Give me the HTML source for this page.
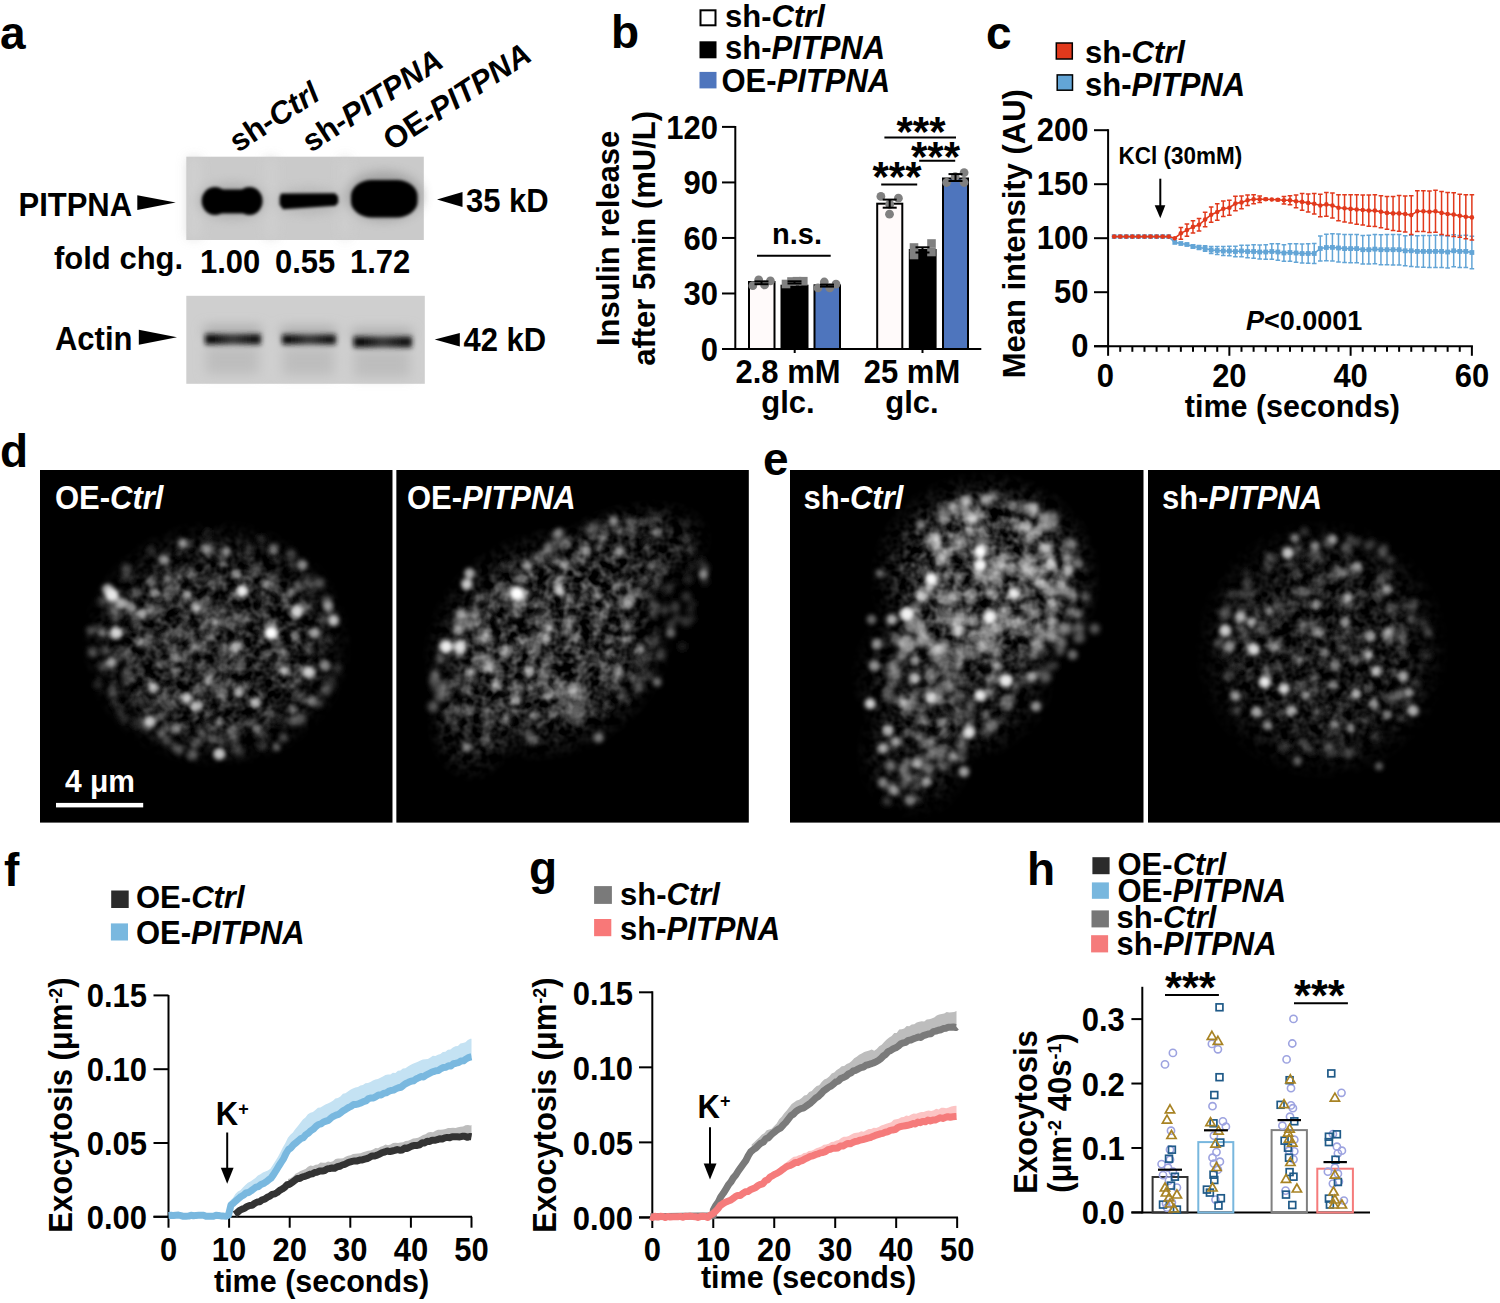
<!DOCTYPE html>
<html><head><meta charset="utf-8"><style>
html,body{margin:0;padding:0;background:#fff;}
body{width:1500px;height:1303px;overflow:hidden;}
svg{display:block;font-family:"Liberation Sans",sans-serif;}
</style></head><body>
<svg width="1500" height="1303" viewBox="0 0 1500 1303">
<defs>
<filter id="bl1" x="-50%" y="-50%" width="200%" height="200%"><feGaussianBlur stdDeviation="1.6"/></filter>
<filter id="bl2" x="-50%" y="-50%" width="200%" height="200%"><feGaussianBlur stdDeviation="3"/></filter>
<filter id="bl3" x="-50%" y="-50%" width="200%" height="200%"><feGaussianBlur stdDeviation="6"/></filter>
<filter id="bl4" x="-50%" y="-50%" width="200%" height="200%"><feGaussianBlur stdDeviation="22"/></filter>
<filter id="bl6" x="-50%" y="-50%" width="200%" height="200%"><feGaussianBlur stdDeviation="1.9"/></filter>
<filter id="bl5" x="-50%" y="-50%" width="200%" height="200%"><feGaussianBlur stdDeviation="2.6"/></filter>
</defs>
<text x="0" y="0" transform="translate(0.00,49.00) scale(1,1.0)" font-size="46" text-anchor="start" font-weight="bold" font-style="normal" fill="#000" >a</text>
<text x="0" y="0" transform="translate(611.00,48.00) scale(1,1.0)" font-size="46" text-anchor="start" font-weight="bold" font-style="normal" fill="#000" >b</text>
<text x="0" y="0" transform="translate(986.00,49.00) scale(1,1.0)" font-size="46" text-anchor="start" font-weight="bold" font-style="normal" fill="#000" >c</text>
<rect x="186.30" y="156.70" width="237.50" height="83.30" fill="#cacaca" stroke="none" stroke-width="0" />
<g filter="url(#bl3)" opacity="0.9">
<rect x="188" y="158" width="12" height="80" fill="#d2d2d2"/>
<rect x="266" y="158" width="10" height="80" fill="#d0d0d0"/>
<rect x="341" y="158" width="8" height="80" fill="#d0d0d0"/>
<ellipse cx="384" cy="196" rx="38" ry="24" fill="#9a9a9a"/>
<ellipse cx="232" cy="201" rx="34" ry="17" fill="#a8a8a8"/>
<ellipse cx="309" cy="201" rx="32" ry="12" fill="#b0b0b0"/>
</g>
<g filter="url(#bl1)">
<ellipse cx="215" cy="201" rx="13.3" ry="14" fill="#000"/>
<ellipse cx="249.5" cy="201" rx="13" ry="14" fill="#000"/>
<rect x="215.00" y="189.40" width="34.50" height="24.00" fill="#000" stroke="none" stroke-width="0" />
<polygon points="281.00,193.60 335.00,193.20 338.00,196.50 338.30,202.50 335.50,205.80 283.00,209.20 279.60,204.50 279.60,197.50" fill="#000" />
<rect x="351" y="180" width="66.5" height="37.5" rx="21" ry="16" fill="#000"/>
</g>
<rect x="186.30" y="295.80" width="238.50" height="88.00" fill="#cfcfcf" stroke="none" stroke-width="0" />
<linearGradient id="ab" x1="0" x2="1" y1="0" y2="0"><stop offset="0" stop-color="#0a0a0a"/><stop offset="0.18" stop-color="#111"/><stop offset="0.5" stop-color="#3a3a3a"/><stop offset="0.8" stop-color="#1a1a1a"/><stop offset="1" stop-color="#141414"/></linearGradient>
<g filter="url(#bl3)">
<rect x="204" y="326" width="57" height="10" fill="#a8a8a8"/>
<rect x="206" y="346" width="53" height="28" fill="#bdbdbd"/>
<rect x="281" y="327" width="55" height="10" fill="#a8a8a8"/>
<rect x="283" y="347" width="51" height="28" fill="#bdbdbd"/>
<rect x="352" y="329" width="60" height="10" fill="#a8a8a8"/>
<rect x="354" y="349" width="56" height="28" fill="#bdbdbd"/>
</g>
<g filter="url(#bl5)">
<rect x="205" y="334" width="56" height="10.5" fill="url(#ab)"/>
<rect x="282" y="334.5" width="54" height="10" fill="url(#ab)"/>
<rect x="353.5" y="336.5" width="58.5" height="11" fill="url(#ab)"/>
</g>
<text x="0" y="0" transform="translate(18.50,215.60) scale(1,1.045)" font-size="31" text-anchor="start" font-weight="bold" font-style="normal" fill="#000" >PITPNA</text>
<polygon points="137.30,195.30 175.70,202.40 137.30,210.00" fill="#000" />
<text x="0" y="0" transform="translate(54.00,269.30) scale(1,1.0)" font-size="31" text-anchor="start" font-weight="bold" font-style="normal" fill="#000" >fold chg.</text>
<text x="0" y="0" transform="translate(200.00,272.50) scale(1,1.045)" font-size="31" text-anchor="start" font-weight="bold" font-style="normal" fill="#000" >1.00</text>
<text x="0" y="0" transform="translate(275.00,272.50) scale(1,1.045)" font-size="31" text-anchor="start" font-weight="bold" font-style="normal" fill="#000" >0.55</text>
<text x="0" y="0" transform="translate(350.00,272.50) scale(1,1.045)" font-size="31" text-anchor="start" font-weight="bold" font-style="normal" fill="#000" >1.72</text>
<text x="0" y="0" transform="translate(55.00,350.00) scale(1,1.045)" font-size="31" text-anchor="start" font-weight="bold" font-style="normal" fill="#000" >Actin</text>
<polygon points="138.80,329.80 177.00,337.20 138.80,344.80" fill="#000" />
<polygon points="462.50,192.00 437.00,199.50 462.50,207.00" fill="#000" />
<text x="0" y="0" transform="translate(466.00,211.50) scale(1,1.045)" font-size="31" text-anchor="start" font-weight="bold" font-style="normal" fill="#000" >35 kD</text>
<polygon points="459.80,333.10 434.70,339.60 459.80,346.50" fill="#000" />
<text x="0" y="0" transform="translate(463.50,351.00) scale(1,1.045)" font-size="31" text-anchor="start" font-weight="bold" font-style="normal" fill="#000" >42 kD</text>
<text x="0" y="0" transform="translate(238.00,153.00) rotate(-33) scale(1,1.0)" font-size="31" text-anchor="start" font-weight="bold" fill="#000" ><tspan font-style="normal">sh-</tspan><tspan font-style="italic">Ctrl</tspan></text>
<text x="0" y="0" transform="translate(311.00,153.00) rotate(-33) scale(1,1.0)" font-size="31" text-anchor="start" font-weight="bold" fill="#000" ><tspan font-style="normal">sh-</tspan><tspan font-style="italic">PITPNA</tspan></text>
<text x="0" y="0" transform="translate(392.00,151.50) rotate(-33) scale(1,1.0)" font-size="31" text-anchor="start" font-weight="bold" fill="#000" ><tspan font-style="normal">OE-</tspan><tspan font-style="italic">PITPNA</tspan></text>
<rect x="700.50" y="10.30" width="15.00" height="15.00" fill="#fff" stroke="#000" stroke-width="2" />
<rect x="699.50" y="41.30" width="17.00" height="17.00" fill="#000" stroke="none" stroke-width="0" />
<rect x="699.50" y="71.90" width="17.00" height="16.50" fill="#4e75bd" stroke="none" stroke-width="0" />
<text x="0" y="0" transform="translate(725.00,26.60) rotate(0) scale(1,1.0)" font-size="31" text-anchor="start" font-weight="bold" fill="#000" ><tspan font-style="normal">sh-</tspan><tspan font-style="italic">Ctrl</tspan></text>
<text x="0" y="0" transform="translate(725.00,58.80) rotate(0) scale(1,1.045)" font-size="31" text-anchor="start" font-weight="bold" fill="#000" ><tspan font-style="normal">sh-</tspan><tspan font-style="italic">PITPNA</tspan></text>
<text x="0" y="0" transform="translate(721.50,92.20) rotate(0) scale(1,1.045)" font-size="31" text-anchor="start" font-weight="bold" fill="#000" ><tspan font-style="normal">OE-</tspan><tspan font-style="italic">PITPNA</tspan></text>
<line x1="735.30" y1="126.00" x2="735.30" y2="350.00" stroke="#000" stroke-width="2" />
<line x1="722.00" y1="349.00" x2="981.30" y2="349.00" stroke="#000" stroke-width="2" />
<line x1="722.00" y1="349.00" x2="735.30" y2="349.00" stroke="#000" stroke-width="2" />
<text x="0" y="0" transform="translate(718.00,360.60) scale(1,1.045)" font-size="31" text-anchor="end" font-weight="bold" font-style="normal" fill="#000" >0</text>
<line x1="722.00" y1="293.48" x2="735.30" y2="293.48" stroke="#000" stroke-width="2" />
<text x="0" y="0" transform="translate(718.00,305.08) scale(1,1.045)" font-size="31" text-anchor="end" font-weight="bold" font-style="normal" fill="#000" >30</text>
<line x1="722.00" y1="237.95" x2="735.30" y2="237.95" stroke="#000" stroke-width="2" />
<text x="0" y="0" transform="translate(718.00,249.55) scale(1,1.045)" font-size="31" text-anchor="end" font-weight="bold" font-style="normal" fill="#000" >60</text>
<line x1="722.00" y1="182.43" x2="735.30" y2="182.43" stroke="#000" stroke-width="2" />
<text x="0" y="0" transform="translate(718.00,194.03) scale(1,1.045)" font-size="31" text-anchor="end" font-weight="bold" font-style="normal" fill="#000" >90</text>
<line x1="722.00" y1="126.90" x2="735.30" y2="126.90" stroke="#000" stroke-width="2" />
<text x="0" y="0" transform="translate(718.00,138.50) scale(1,1.045)" font-size="31" text-anchor="end" font-weight="bold" font-style="normal" fill="#000" >120</text>
<line x1="794.70" y1="349.00" x2="794.70" y2="353.00" stroke="#000" stroke-width="2" />
<line x1="922.50" y1="349.00" x2="922.50" y2="353.00" stroke="#000" stroke-width="2" />
<text x="0" y="0" transform="translate(618.50,238.40) rotate(-90) scale(1,1.0)" font-size="31" text-anchor="middle" font-weight="bold">Insulin release</text>
<text x="0" y="0" transform="translate(655.00,238.40) rotate(-90) scale(1,1.02)" font-size="31" text-anchor="middle" font-weight="bold">after 5min (mU/L)</text>
<text x="0" y="0" transform="translate(788.00,382.60) scale(1,1.045)" font-size="31" text-anchor="middle" font-weight="bold" font-style="normal" fill="#000" >2.8 mM</text>
<text x="0" y="0" transform="translate(788.00,413.00) scale(1,1.0)" font-size="31" text-anchor="middle" font-weight="bold" font-style="normal" fill="#000" >glc.</text>
<text x="0" y="0" transform="translate(912.00,382.60) scale(1,1.045)" font-size="31" text-anchor="middle" font-weight="bold" font-style="normal" fill="#000" >25 mM</text>
<text x="0" y="0" transform="translate(912.00,413.00) scale(1,1.0)" font-size="31" text-anchor="middle" font-weight="bold" font-style="normal" fill="#000" >glc.</text>
<rect x="749.00" y="282.00" width="25.50" height="67.00" fill="#fffafa" stroke="#000" stroke-width="2" />
<rect x="781.50" y="285.70" width="26.00" height="63.30" fill="#000" stroke="#000" stroke-width="2" />
<rect x="814.50" y="285.30" width="25.50" height="63.70" fill="#4e75bd" stroke="#000" stroke-width="2" />
<rect x="877.20" y="203.70" width="25.10" height="145.30" fill="#fffafa" stroke="#000" stroke-width="2" />
<rect x="909.80" y="250.00" width="25.80" height="99.00" fill="#000" stroke="#000" stroke-width="2" />
<rect x="943.00" y="178.50" width="25.00" height="170.50" fill="#4e75bd" stroke="#000" stroke-width="2" />
<circle cx="752.8" cy="285.7" r="4.4" fill="#808080"/>
<circle cx="758.7" cy="279.8" r="4.4" fill="#808080"/>
<circle cx="764.6" cy="284.9" r="4.4" fill="#808080"/>
<circle cx="770.4" cy="280.9" r="4.4" fill="#808080"/>
<line x1="761.50" y1="281.40" x2="761.50" y2="284.20" stroke="#000" stroke-width="2" />
<line x1="754.50" y1="281.40" x2="768.50" y2="281.40" stroke="#000" stroke-width="2" />
<line x1="754.50" y1="284.20" x2="768.50" y2="284.20" stroke="#000" stroke-width="2" />
<rect x="781.7" y="279.7" width="8.6" height="8.6" fill="#808080"/>
<rect x="787.2" y="277.2" width="8.6" height="8.6" fill="#808080"/>
<rect x="799.0" y="276.9" width="8.6" height="8.6" fill="#808080"/>
<rect x="792.7" y="276.9" width="8.6" height="8.6" fill="#808080"/>
<line x1="794.50" y1="281.30" x2="794.50" y2="283.50" stroke="#000" stroke-width="2" />
<line x1="787.50" y1="281.30" x2="801.50" y2="281.30" stroke="#000" stroke-width="2" />
<line x1="787.50" y1="283.50" x2="801.50" y2="283.50" stroke="#000" stroke-width="2" />
<circle cx="818" cy="287.9" r="4.4" fill="#808080"/>
<circle cx="824.3" cy="282" r="4.4" fill="#808080"/>
<circle cx="829.8" cy="287.9" r="4.4" fill="#808080"/>
<circle cx="836" cy="284.2" r="4.4" fill="#808080"/>
<line x1="827.00" y1="284.60" x2="827.00" y2="286.60" stroke="#000" stroke-width="2" />
<line x1="820.00" y1="284.60" x2="834.00" y2="284.60" stroke="#000" stroke-width="2" />
<line x1="820.00" y1="286.60" x2="834.00" y2="286.60" stroke="#000" stroke-width="2" />
<circle cx="880.9" cy="196.4" r="4.4" fill="#808080"/>
<circle cx="898.4" cy="198.2" r="4.4" fill="#808080"/>
<circle cx="889.5" cy="214.2" r="4.4" fill="#808080"/>
<circle cx="889.7" cy="204.4" r="4.4" fill="#808080"/>
<line x1="889.70" y1="199.60" x2="889.70" y2="207.70" stroke="#000" stroke-width="2" />
<line x1="882.70" y1="199.60" x2="896.70" y2="199.60" stroke="#000" stroke-width="2" />
<line x1="882.70" y1="207.70" x2="896.70" y2="207.70" stroke="#000" stroke-width="2" />
<rect x="909.7" y="243.2" width="8.6" height="8.6" fill="#808080"/>
<rect x="927.2" y="239.2" width="8.6" height="8.6" fill="#808080"/>
<rect x="927.2" y="247.7" width="8.6" height="8.6" fill="#808080"/>
<rect x="909.7" y="250.7" width="8.6" height="8.6" fill="#808080"/>
<line x1="922.50" y1="247.30" x2="922.50" y2="252.50" stroke="#000" stroke-width="2" />
<line x1="915.50" y1="247.30" x2="929.50" y2="247.30" stroke="#000" stroke-width="2" />
<line x1="915.50" y1="252.50" x2="929.50" y2="252.50" stroke="#000" stroke-width="2" />
<circle cx="946.6" cy="182.5" r="4.4" fill="#808080"/>
<circle cx="955.2" cy="176.7" r="4.4" fill="#808080"/>
<circle cx="964.1" cy="172.7" r="4.4" fill="#808080"/>
<circle cx="964.1" cy="182.5" r="4.4" fill="#808080"/>
<line x1="955.50" y1="174.10" x2="955.50" y2="181.00" stroke="#000" stroke-width="2" />
<line x1="948.50" y1="174.10" x2="962.50" y2="174.10" stroke="#000" stroke-width="2" />
<line x1="948.50" y1="181.00" x2="962.50" y2="181.00" stroke="#000" stroke-width="2" />
<line x1="757.00" y1="255.70" x2="830.70" y2="255.70" stroke="#000" stroke-width="2" />
<text x="0" y="0" transform="translate(797.00,244.30) scale(1,1.0)" font-size="29" text-anchor="middle" font-weight="bold" font-style="normal" fill="#000" >n.s.</text>
<line x1="884.40" y1="137.40" x2="956.00" y2="137.40" stroke="#000" stroke-width="2" />
<line x1="919.20" y1="160.80" x2="955.20" y2="160.80" stroke="#000" stroke-width="2" />
<line x1="881.20" y1="184.50" x2="917.20" y2="184.50" stroke="#000" stroke-width="2" />
<text x="0" y="0" transform="translate(896.50,145.50) scale(1,1.0)" font-size="42" text-anchor="start" font-weight="bold" font-style="normal" fill="#000" >***</text>
<text x="0" y="0" transform="translate(911.00,170.60) scale(1,1.0)" font-size="42" text-anchor="start" font-weight="bold" font-style="normal" fill="#000" >***</text>
<text x="0" y="0" transform="translate(872.50,190.60) scale(1,1.0)" font-size="42" text-anchor="start" font-weight="bold" font-style="normal" fill="#000" >***</text>
<rect x="1056.30" y="43.00" width="16.00" height="16.00" fill="#e1391c" stroke="#000" stroke-width="1.5" />
<rect x="1057.20" y="74.90" width="15.30" height="15.30" fill="#63a5d6" stroke="#000" stroke-width="1.5" />
<text x="0" y="0" transform="translate(1085.00,63.20) rotate(0) scale(1,1.0)" font-size="31" text-anchor="start" font-weight="bold" fill="#000" ><tspan font-style="normal">sh-</tspan><tspan font-style="italic">Ctrl</tspan></text>
<text x="0" y="0" transform="translate(1085.00,95.80) rotate(0) scale(1,1.045)" font-size="31" text-anchor="start" font-weight="bold" fill="#000" ><tspan font-style="normal">sh-</tspan><tspan font-style="italic">PITPNA</tspan></text>
<line x1="1108.10" y1="129.20" x2="1108.10" y2="347.20" stroke="#000" stroke-width="2" />
<line x1="1094.00" y1="346.20" x2="1472.90" y2="346.20" stroke="#000" stroke-width="2" />
<line x1="1094.00" y1="346.20" x2="1108.10" y2="346.20" stroke="#000" stroke-width="2" />
<text x="0" y="0" transform="translate(1088.50,357.00) scale(1,1.045)" font-size="31" text-anchor="end" font-weight="bold" font-style="normal" fill="#000" >0</text>
<line x1="1094.00" y1="292.20" x2="1108.10" y2="292.20" stroke="#000" stroke-width="2" />
<text x="0" y="0" transform="translate(1088.50,303.00) scale(1,1.045)" font-size="31" text-anchor="end" font-weight="bold" font-style="normal" fill="#000" >50</text>
<line x1="1094.00" y1="238.20" x2="1108.10" y2="238.20" stroke="#000" stroke-width="2" />
<text x="0" y="0" transform="translate(1088.50,249.00) scale(1,1.045)" font-size="31" text-anchor="end" font-weight="bold" font-style="normal" fill="#000" >100</text>
<line x1="1094.00" y1="184.20" x2="1108.10" y2="184.20" stroke="#000" stroke-width="2" />
<text x="0" y="0" transform="translate(1088.50,195.00) scale(1,1.045)" font-size="31" text-anchor="end" font-weight="bold" font-style="normal" fill="#000" >150</text>
<line x1="1094.00" y1="130.20" x2="1108.10" y2="130.20" stroke="#000" stroke-width="2" />
<text x="0" y="0" transform="translate(1088.50,141.00) scale(1,1.045)" font-size="31" text-anchor="end" font-weight="bold" font-style="normal" fill="#000" >200</text>
<line x1="1108.10" y1="346.20" x2="1108.10" y2="355.80" stroke="#000" stroke-width="2" />
<line x1="1120.23" y1="346.20" x2="1120.23" y2="351.80" stroke="#000" stroke-width="2" />
<line x1="1132.35" y1="346.20" x2="1132.35" y2="351.80" stroke="#000" stroke-width="2" />
<line x1="1144.48" y1="346.20" x2="1144.48" y2="351.80" stroke="#000" stroke-width="2" />
<line x1="1156.60" y1="346.20" x2="1156.60" y2="351.80" stroke="#000" stroke-width="2" />
<line x1="1168.73" y1="346.20" x2="1168.73" y2="351.80" stroke="#000" stroke-width="2" />
<line x1="1180.86" y1="346.20" x2="1180.86" y2="351.80" stroke="#000" stroke-width="2" />
<line x1="1192.98" y1="346.20" x2="1192.98" y2="351.80" stroke="#000" stroke-width="2" />
<line x1="1205.11" y1="346.20" x2="1205.11" y2="351.80" stroke="#000" stroke-width="2" />
<line x1="1217.23" y1="346.20" x2="1217.23" y2="351.80" stroke="#000" stroke-width="2" />
<line x1="1229.36" y1="346.20" x2="1229.36" y2="355.80" stroke="#000" stroke-width="2" />
<line x1="1241.49" y1="346.20" x2="1241.49" y2="351.80" stroke="#000" stroke-width="2" />
<line x1="1253.61" y1="346.20" x2="1253.61" y2="351.80" stroke="#000" stroke-width="2" />
<line x1="1265.74" y1="346.20" x2="1265.74" y2="351.80" stroke="#000" stroke-width="2" />
<line x1="1277.86" y1="346.20" x2="1277.86" y2="351.80" stroke="#000" stroke-width="2" />
<line x1="1289.99" y1="346.20" x2="1289.99" y2="351.80" stroke="#000" stroke-width="2" />
<line x1="1302.12" y1="346.20" x2="1302.12" y2="351.80" stroke="#000" stroke-width="2" />
<line x1="1314.24" y1="346.20" x2="1314.24" y2="351.80" stroke="#000" stroke-width="2" />
<line x1="1326.37" y1="346.20" x2="1326.37" y2="351.80" stroke="#000" stroke-width="2" />
<line x1="1338.49" y1="346.20" x2="1338.49" y2="351.80" stroke="#000" stroke-width="2" />
<line x1="1350.62" y1="346.20" x2="1350.62" y2="355.80" stroke="#000" stroke-width="2" />
<line x1="1362.75" y1="346.20" x2="1362.75" y2="351.80" stroke="#000" stroke-width="2" />
<line x1="1374.87" y1="346.20" x2="1374.87" y2="351.80" stroke="#000" stroke-width="2" />
<line x1="1387.00" y1="346.20" x2="1387.00" y2="351.80" stroke="#000" stroke-width="2" />
<line x1="1399.12" y1="346.20" x2="1399.12" y2="351.80" stroke="#000" stroke-width="2" />
<line x1="1411.25" y1="346.20" x2="1411.25" y2="351.80" stroke="#000" stroke-width="2" />
<line x1="1423.38" y1="346.20" x2="1423.38" y2="351.80" stroke="#000" stroke-width="2" />
<line x1="1435.50" y1="346.20" x2="1435.50" y2="351.80" stroke="#000" stroke-width="2" />
<line x1="1447.63" y1="346.20" x2="1447.63" y2="351.80" stroke="#000" stroke-width="2" />
<line x1="1459.75" y1="346.20" x2="1459.75" y2="351.80" stroke="#000" stroke-width="2" />
<line x1="1471.88" y1="346.20" x2="1471.88" y2="355.80" stroke="#000" stroke-width="2" />
<text x="0" y="0" transform="translate(1105.40,386.50) scale(1,1.045)" font-size="31" text-anchor="middle" font-weight="bold" font-style="normal" fill="#000" >0</text>
<text x="0" y="0" transform="translate(1229.36,386.50) scale(1,1.045)" font-size="31" text-anchor="middle" font-weight="bold" font-style="normal" fill="#000" >20</text>
<text x="0" y="0" transform="translate(1350.62,386.50) scale(1,1.045)" font-size="31" text-anchor="middle" font-weight="bold" font-style="normal" fill="#000" >40</text>
<text x="0" y="0" transform="translate(1471.88,386.50) scale(1,1.045)" font-size="31" text-anchor="middle" font-weight="bold" font-style="normal" fill="#000" >60</text>
<text x="0" y="0" transform="translate(1292.40,417.40) scale(1,1.0)" font-size="30.5" text-anchor="middle" font-weight="bold" font-style="normal" fill="#000" >time (seconds)</text>
<text x="0" y="0" transform="translate(1025.00,233.70) rotate(-90) scale(1,1.02)" font-size="31" text-anchor="middle" font-weight="bold">Mean intensity (AU)</text>
<text x="0" y="0" transform="translate(1118.50,164.00) scale(1,1.03)" font-size="22.5" text-anchor="start" font-weight="bold" font-style="normal" fill="#000" >KCl (30mM)</text>
<line x1="1160.30" y1="178.70" x2="1160.30" y2="208.00" stroke="#000" stroke-width="2" />
<polygon points="1154.70,205.30 1165.30,205.30 1160.30,218.20" fill="#000" />
<text x="1246" y="330" font-size="27" font-weight="bold"><tspan font-style="italic">P</tspan>&lt;0.0001</text>
<polyline points="1114.16,236.58 1120.23,236.58 1126.29,236.58 1132.35,236.58 1138.41,236.58 1144.48,236.58 1150.54,236.58 1156.60,236.58 1162.67,236.58 1168.73,236.58 1174.79,242.40 1180.86,243.50 1186.92,244.50 1192.98,246.50 1199.04,247.50 1205.11,248.50 1211.17,250.00 1217.23,250.50 1223.30,251.00 1229.36,251.00 1235.42,251.50 1241.49,251.00 1247.55,251.50 1253.61,251.50 1259.67,252.00 1265.74,252.00 1271.80,251.50 1277.86,252.00 1283.93,253.00 1289.99,252.50 1296.05,253.00 1302.12,253.50 1308.18,253.50 1314.24,253.50 1320.30,248.50 1326.37,247.50 1332.43,247.40 1338.49,248.00 1344.56,248.60 1350.62,248.60 1356.68,248.60 1362.75,249.70 1368.81,249.70 1374.87,249.10 1380.93,249.70 1387.00,249.70 1393.06,249.70 1399.12,249.70 1405.19,250.80 1411.25,250.80 1417.31,251.40 1423.38,251.40 1429.44,251.40 1435.50,251.40 1441.56,251.40 1447.63,252.00 1453.69,250.80 1459.75,251.40 1465.82,251.40 1471.88,252.50" fill="none" stroke="#63a5d6" stroke-width="1.6"/>
<rect x="1111.76" y="234.18" width="4.8" height="4.8" fill="#63a5d6"/>
<rect x="1117.83" y="234.18" width="4.8" height="4.8" fill="#63a5d6"/>
<rect x="1123.89" y="234.18" width="4.8" height="4.8" fill="#63a5d6"/>
<rect x="1129.95" y="234.18" width="4.8" height="4.8" fill="#63a5d6"/>
<rect x="1136.01" y="234.18" width="4.8" height="4.8" fill="#63a5d6"/>
<rect x="1142.08" y="234.18" width="4.8" height="4.8" fill="#63a5d6"/>
<rect x="1148.14" y="234.18" width="4.8" height="4.8" fill="#63a5d6"/>
<rect x="1154.20" y="234.18" width="4.8" height="4.8" fill="#63a5d6"/>
<rect x="1160.27" y="234.18" width="4.8" height="4.8" fill="#63a5d6"/>
<rect x="1166.33" y="234.18" width="4.8" height="4.8" fill="#63a5d6"/>
<rect x="1172.39" y="240.00" width="4.8" height="4.8" fill="#63a5d6"/>
<rect x="1178.46" y="241.10" width="4.8" height="4.8" fill="#63a5d6"/>
<path d="M1186.92,243.50V245.50M1184.62,243.50h4.6M1184.62,245.50h4.6" stroke="#63a5d6" stroke-width="1.5" fill="none"/>
<rect x="1184.52" y="242.10" width="4.8" height="4.8" fill="#63a5d6"/>
<path d="M1192.98,245.00V248.00M1190.68,245.00h4.6M1190.68,248.00h4.6" stroke="#63a5d6" stroke-width="1.5" fill="none"/>
<rect x="1190.58" y="244.10" width="4.8" height="4.8" fill="#63a5d6"/>
<path d="M1199.04,245.50V249.50M1196.74,245.50h4.6M1196.74,249.50h4.6" stroke="#63a5d6" stroke-width="1.5" fill="none"/>
<rect x="1196.64" y="245.10" width="4.8" height="4.8" fill="#63a5d6"/>
<path d="M1205.11,245.70V251.30M1202.81,245.70h4.6M1202.81,251.30h4.6" stroke="#63a5d6" stroke-width="1.5" fill="none"/>
<rect x="1202.71" y="246.10" width="4.8" height="4.8" fill="#63a5d6"/>
<path d="M1211.17,246.50V253.50M1208.87,246.50h4.6M1208.87,253.50h4.6" stroke="#63a5d6" stroke-width="1.5" fill="none"/>
<rect x="1208.77" y="247.60" width="4.8" height="4.8" fill="#63a5d6"/>
<path d="M1217.23,246.50V254.50M1214.93,246.50h4.6M1214.93,254.50h4.6" stroke="#63a5d6" stroke-width="1.5" fill="none"/>
<rect x="1214.83" y="248.10" width="4.8" height="4.8" fill="#63a5d6"/>
<path d="M1223.30,246.50V255.50M1221.00,246.50h4.6M1221.00,255.50h4.6" stroke="#63a5d6" stroke-width="1.5" fill="none"/>
<rect x="1220.90" y="248.60" width="4.8" height="4.8" fill="#63a5d6"/>
<path d="M1229.36,246.30V255.70M1227.06,246.30h4.6M1227.06,255.70h4.6" stroke="#63a5d6" stroke-width="1.5" fill="none"/>
<rect x="1226.96" y="248.60" width="4.8" height="4.8" fill="#63a5d6"/>
<path d="M1235.42,246.30V256.70M1233.12,246.30h4.6M1233.12,256.70h4.6" stroke="#63a5d6" stroke-width="1.5" fill="none"/>
<rect x="1233.02" y="249.10" width="4.8" height="4.8" fill="#63a5d6"/>
<path d="M1241.49,245.30V256.70M1239.19,245.30h4.6M1239.19,256.70h4.6" stroke="#63a5d6" stroke-width="1.5" fill="none"/>
<rect x="1239.09" y="248.60" width="4.8" height="4.8" fill="#63a5d6"/>
<path d="M1247.55,245.30V257.70M1245.25,245.30h4.6M1245.25,257.70h4.6" stroke="#63a5d6" stroke-width="1.5" fill="none"/>
<rect x="1245.15" y="249.10" width="4.8" height="4.8" fill="#63a5d6"/>
<path d="M1253.61,244.80V258.20M1251.31,244.80h4.6M1251.31,258.20h4.6" stroke="#63a5d6" stroke-width="1.5" fill="none"/>
<rect x="1251.21" y="249.10" width="4.8" height="4.8" fill="#63a5d6"/>
<path d="M1259.67,245.00V259.00M1257.38,245.00h4.6M1257.38,259.00h4.6" stroke="#63a5d6" stroke-width="1.5" fill="none"/>
<rect x="1257.27" y="249.60" width="4.8" height="4.8" fill="#63a5d6"/>
<path d="M1265.74,244.80V259.20M1263.44,244.80h4.6M1263.44,259.20h4.6" stroke="#63a5d6" stroke-width="1.5" fill="none"/>
<rect x="1263.34" y="249.60" width="4.8" height="4.8" fill="#63a5d6"/>
<path d="M1271.80,243.80V259.20M1269.50,243.80h4.6M1269.50,259.20h4.6" stroke="#63a5d6" stroke-width="1.5" fill="none"/>
<rect x="1269.40" y="249.10" width="4.8" height="4.8" fill="#63a5d6"/>
<path d="M1277.86,243.80V260.20M1275.56,243.80h4.6M1275.56,260.20h4.6" stroke="#63a5d6" stroke-width="1.5" fill="none"/>
<rect x="1275.46" y="249.60" width="4.8" height="4.8" fill="#63a5d6"/>
<path d="M1283.93,244.80V261.20M1281.63,244.80h4.6M1281.63,261.20h4.6" stroke="#63a5d6" stroke-width="1.5" fill="none"/>
<rect x="1281.53" y="250.60" width="4.8" height="4.8" fill="#63a5d6"/>
<path d="M1289.99,243.80V261.20M1287.69,243.80h4.6M1287.69,261.20h4.6" stroke="#63a5d6" stroke-width="1.5" fill="none"/>
<rect x="1287.59" y="250.10" width="4.8" height="4.8" fill="#63a5d6"/>
<path d="M1296.05,243.80V262.20M1293.75,243.80h4.6M1293.75,262.20h4.6" stroke="#63a5d6" stroke-width="1.5" fill="none"/>
<rect x="1293.65" y="250.60" width="4.8" height="4.8" fill="#63a5d6"/>
<path d="M1302.12,244.00V263.00M1299.82,244.00h4.6M1299.82,263.00h4.6" stroke="#63a5d6" stroke-width="1.5" fill="none"/>
<rect x="1299.72" y="251.10" width="4.8" height="4.8" fill="#63a5d6"/>
<path d="M1308.18,243.80V263.20M1305.88,243.80h4.6M1305.88,263.20h4.6" stroke="#63a5d6" stroke-width="1.5" fill="none"/>
<rect x="1305.78" y="251.10" width="4.8" height="4.8" fill="#63a5d6"/>
<path d="M1314.24,243.50V263.50M1311.94,243.50h4.6M1311.94,263.50h4.6" stroke="#63a5d6" stroke-width="1.5" fill="none"/>
<rect x="1311.84" y="251.10" width="4.8" height="4.8" fill="#63a5d6"/>
<path d="M1320.30,236.00V261.00M1318.00,236.00h4.6M1318.00,261.00h4.6" stroke="#63a5d6" stroke-width="1.5" fill="none"/>
<rect x="1317.90" y="246.10" width="4.8" height="4.8" fill="#63a5d6"/>
<path d="M1326.37,234.30V260.70M1324.07,234.30h4.6M1324.07,260.70h4.6" stroke="#63a5d6" stroke-width="1.5" fill="none"/>
<rect x="1323.97" y="245.10" width="4.8" height="4.8" fill="#63a5d6"/>
<path d="M1332.43,233.80V261.00M1330.13,233.80h4.6M1330.13,261.00h4.6" stroke="#63a5d6" stroke-width="1.5" fill="none"/>
<rect x="1330.03" y="245.00" width="4.8" height="4.8" fill="#63a5d6"/>
<path d="M1338.49,234.10V261.90M1336.19,234.10h4.6M1336.19,261.90h4.6" stroke="#63a5d6" stroke-width="1.5" fill="none"/>
<rect x="1336.09" y="245.60" width="4.8" height="4.8" fill="#63a5d6"/>
<path d="M1344.56,234.60V262.60M1342.26,234.60h4.6M1342.26,262.60h4.6" stroke="#63a5d6" stroke-width="1.5" fill="none"/>
<rect x="1342.16" y="246.20" width="4.8" height="4.8" fill="#63a5d6"/>
<path d="M1350.62,234.40V262.80M1348.32,234.40h4.6M1348.32,262.80h4.6" stroke="#63a5d6" stroke-width="1.5" fill="none"/>
<rect x="1348.22" y="246.20" width="4.8" height="4.8" fill="#63a5d6"/>
<path d="M1356.68,234.40V262.80M1354.38,234.40h4.6M1354.38,262.80h4.6" stroke="#63a5d6" stroke-width="1.5" fill="none"/>
<rect x="1354.28" y="246.20" width="4.8" height="4.8" fill="#63a5d6"/>
<path d="M1362.75,235.50V263.90M1360.45,235.50h4.6M1360.45,263.90h4.6" stroke="#63a5d6" stroke-width="1.5" fill="none"/>
<rect x="1360.35" y="247.30" width="4.8" height="4.8" fill="#63a5d6"/>
<path d="M1368.81,235.30V264.10M1366.51,235.30h4.6M1366.51,264.10h4.6" stroke="#63a5d6" stroke-width="1.5" fill="none"/>
<rect x="1366.41" y="247.30" width="4.8" height="4.8" fill="#63a5d6"/>
<path d="M1374.87,234.40V263.80M1372.57,234.40h4.6M1372.57,263.80h4.6" stroke="#63a5d6" stroke-width="1.5" fill="none"/>
<rect x="1372.47" y="246.70" width="4.8" height="4.8" fill="#63a5d6"/>
<path d="M1380.93,234.70V264.70M1378.63,234.70h4.6M1378.63,264.70h4.6" stroke="#63a5d6" stroke-width="1.5" fill="none"/>
<rect x="1378.53" y="247.30" width="4.8" height="4.8" fill="#63a5d6"/>
<path d="M1387.00,234.60V264.80M1384.70,234.60h4.6M1384.70,264.80h4.6" stroke="#63a5d6" stroke-width="1.5" fill="none"/>
<rect x="1384.60" y="247.30" width="4.8" height="4.8" fill="#63a5d6"/>
<path d="M1393.06,234.40V265.00M1390.76,234.40h4.6M1390.76,265.00h4.6" stroke="#63a5d6" stroke-width="1.5" fill="none"/>
<rect x="1390.66" y="247.30" width="4.8" height="4.8" fill="#63a5d6"/>
<path d="M1399.12,234.50V264.90M1396.82,234.50h4.6M1396.82,264.90h4.6" stroke="#63a5d6" stroke-width="1.5" fill="none"/>
<rect x="1396.72" y="247.30" width="4.8" height="4.8" fill="#63a5d6"/>
<path d="M1405.19,235.80V265.80M1402.89,235.80h4.6M1402.89,265.80h4.6" stroke="#63a5d6" stroke-width="1.5" fill="none"/>
<rect x="1402.79" y="248.40" width="4.8" height="4.8" fill="#63a5d6"/>
<path d="M1411.25,235.20V266.40M1408.95,235.20h4.6M1408.95,266.40h4.6" stroke="#63a5d6" stroke-width="1.5" fill="none"/>
<rect x="1408.85" y="248.40" width="4.8" height="4.8" fill="#63a5d6"/>
<path d="M1417.31,235.80V267.00M1415.01,235.80h4.6M1415.01,267.00h4.6" stroke="#63a5d6" stroke-width="1.5" fill="none"/>
<rect x="1414.91" y="249.00" width="4.8" height="4.8" fill="#63a5d6"/>
<path d="M1423.38,235.60V267.20M1421.08,235.60h4.6M1421.08,267.20h4.6" stroke="#63a5d6" stroke-width="1.5" fill="none"/>
<rect x="1420.98" y="249.00" width="4.8" height="4.8" fill="#63a5d6"/>
<path d="M1429.44,235.40V267.40M1427.14,235.40h4.6M1427.14,267.40h4.6" stroke="#63a5d6" stroke-width="1.5" fill="none"/>
<rect x="1427.04" y="249.00" width="4.8" height="4.8" fill="#63a5d6"/>
<path d="M1435.50,235.20V267.60M1433.20,235.20h4.6M1433.20,267.60h4.6" stroke="#63a5d6" stroke-width="1.5" fill="none"/>
<rect x="1433.10" y="249.00" width="4.8" height="4.8" fill="#63a5d6"/>
<path d="M1441.56,235.40V267.40M1439.26,235.40h4.6M1439.26,267.40h4.6" stroke="#63a5d6" stroke-width="1.5" fill="none"/>
<rect x="1439.16" y="249.00" width="4.8" height="4.8" fill="#63a5d6"/>
<path d="M1447.63,236.10V267.90M1445.33,236.10h4.6M1445.33,267.90h4.6" stroke="#63a5d6" stroke-width="1.5" fill="none"/>
<rect x="1445.23" y="249.60" width="4.8" height="4.8" fill="#63a5d6"/>
<path d="M1453.69,234.80V266.80M1451.39,234.80h4.6M1451.39,266.80h4.6" stroke="#63a5d6" stroke-width="1.5" fill="none"/>
<rect x="1451.29" y="248.40" width="4.8" height="4.8" fill="#63a5d6"/>
<path d="M1459.75,235.40V267.40M1457.45,235.40h4.6M1457.45,267.40h4.6" stroke="#63a5d6" stroke-width="1.5" fill="none"/>
<rect x="1457.35" y="249.00" width="4.8" height="4.8" fill="#63a5d6"/>
<path d="M1465.82,235.30V267.50M1463.52,235.30h4.6M1463.52,267.50h4.6" stroke="#63a5d6" stroke-width="1.5" fill="none"/>
<rect x="1463.42" y="249.00" width="4.8" height="4.8" fill="#63a5d6"/>
<path d="M1471.88,236.30V268.70M1469.58,236.30h4.6M1469.58,268.70h4.6" stroke="#63a5d6" stroke-width="1.5" fill="none"/>
<rect x="1469.48" y="250.10" width="4.8" height="4.8" fill="#63a5d6"/>
<polyline points="1114.16,236.58 1120.23,236.58 1126.29,236.58 1132.35,236.58 1138.41,236.58 1144.48,236.58 1150.54,236.58 1156.60,236.58 1162.67,236.58 1168.73,236.58 1174.79,238.20 1180.86,233.30 1186.92,230.10 1192.98,226.90 1199.04,224.80 1205.11,219.50 1211.17,214.70 1217.23,212.00 1223.30,208.80 1229.36,207.70 1235.42,203.50 1241.49,202.40 1247.55,200.30 1253.61,199.20 1259.67,199.20 1265.74,199.20 1271.80,199.50 1277.86,199.70 1283.93,200.30 1289.99,200.30 1296.05,201.30 1302.12,201.90 1308.18,202.90 1314.24,203.80 1320.30,205.50 1326.37,204.40 1332.43,205.50 1338.49,207.80 1344.56,208.30 1350.62,208.90 1356.68,209.50 1362.75,210.00 1368.81,210.60 1374.87,210.60 1380.93,211.70 1387.00,212.90 1393.06,213.40 1399.12,213.40 1405.19,214.00 1411.25,215.10 1417.31,211.20 1423.38,211.20 1429.44,211.70 1435.50,211.20 1441.56,212.90 1447.63,214.00 1453.69,214.60 1459.75,215.70 1465.82,216.80 1471.88,217.40" fill="none" stroke="#e1391c" stroke-width="1.6"/>
<circle cx="1114.16" cy="236.58" r="2.3" fill="#e1391c"/>
<circle cx="1120.23" cy="236.58" r="2.3" fill="#e1391c"/>
<circle cx="1126.29" cy="236.58" r="2.3" fill="#e1391c"/>
<circle cx="1132.35" cy="236.58" r="2.3" fill="#e1391c"/>
<circle cx="1138.41" cy="236.58" r="2.3" fill="#e1391c"/>
<circle cx="1144.48" cy="236.58" r="2.3" fill="#e1391c"/>
<circle cx="1150.54" cy="236.58" r="2.3" fill="#e1391c"/>
<circle cx="1156.60" cy="236.58" r="2.3" fill="#e1391c"/>
<circle cx="1162.67" cy="236.58" r="2.3" fill="#e1391c"/>
<circle cx="1168.73" cy="236.58" r="2.3" fill="#e1391c"/>
<circle cx="1174.79" cy="238.20" r="2.3" fill="#e1391c"/>
<path d="M1180.86,227.40V239.20M1178.56,227.40h4.6M1178.56,239.20h4.6" stroke="#e1391c" stroke-width="1.5" fill="none"/>
<circle cx="1180.86" cy="233.30" r="2.3" fill="#e1391c"/>
<path d="M1186.92,224.00V236.20M1184.62,224.00h4.6M1184.62,236.20h4.6" stroke="#e1391c" stroke-width="1.5" fill="none"/>
<circle cx="1186.92" cy="230.10" r="2.3" fill="#e1391c"/>
<path d="M1192.98,220.70V233.10M1190.68,220.70h4.6M1190.68,233.10h4.6" stroke="#e1391c" stroke-width="1.5" fill="none"/>
<circle cx="1192.98" cy="226.90" r="2.3" fill="#e1391c"/>
<path d="M1199.04,218.60V231.00M1196.74,218.60h4.6M1196.74,231.00h4.6" stroke="#e1391c" stroke-width="1.5" fill="none"/>
<circle cx="1199.04" cy="224.80" r="2.3" fill="#e1391c"/>
<path d="M1205.11,212.30V226.70M1202.81,212.30h4.6M1202.81,226.70h4.6" stroke="#e1391c" stroke-width="1.5" fill="none"/>
<circle cx="1205.11" cy="219.50" r="2.3" fill="#e1391c"/>
<path d="M1211.17,207.10V222.30M1208.87,207.10h4.6M1208.87,222.30h4.6" stroke="#e1391c" stroke-width="1.5" fill="none"/>
<circle cx="1211.17" cy="214.70" r="2.3" fill="#e1391c"/>
<path d="M1217.23,203.70V220.30M1214.93,203.70h4.6M1214.93,220.30h4.6" stroke="#e1391c" stroke-width="1.5" fill="none"/>
<circle cx="1217.23" cy="212.00" r="2.3" fill="#e1391c"/>
<path d="M1223.30,201.10V216.50M1221.00,201.10h4.6M1221.00,216.50h4.6" stroke="#e1391c" stroke-width="1.5" fill="none"/>
<circle cx="1223.30" cy="208.80" r="2.3" fill="#e1391c"/>
<path d="M1229.36,200.20V215.20M1227.06,200.20h4.6M1227.06,215.20h4.6" stroke="#e1391c" stroke-width="1.5" fill="none"/>
<circle cx="1229.36" cy="207.70" r="2.3" fill="#e1391c"/>
<path d="M1235.42,196.30V210.70M1233.12,196.30h4.6M1233.12,210.70h4.6" stroke="#e1391c" stroke-width="1.5" fill="none"/>
<circle cx="1235.42" cy="203.50" r="2.3" fill="#e1391c"/>
<path d="M1241.49,196.00V208.80M1239.19,196.00h4.6M1239.19,208.80h4.6" stroke="#e1391c" stroke-width="1.5" fill="none"/>
<circle cx="1241.49" cy="202.40" r="2.3" fill="#e1391c"/>
<path d="M1247.55,195.00V205.60M1245.25,195.00h4.6M1245.25,205.60h4.6" stroke="#e1391c" stroke-width="1.5" fill="none"/>
<circle cx="1247.55" cy="200.30" r="2.3" fill="#e1391c"/>
<path d="M1253.61,194.70V203.70M1251.31,194.70h4.6M1251.31,203.70h4.6" stroke="#e1391c" stroke-width="1.5" fill="none"/>
<circle cx="1253.61" cy="199.20" r="2.3" fill="#e1391c"/>
<path d="M1259.67,196.00V202.40M1257.38,196.00h4.6M1257.38,202.40h4.6" stroke="#e1391c" stroke-width="1.5" fill="none"/>
<circle cx="1259.67" cy="199.20" r="2.3" fill="#e1391c"/>
<path d="M1265.74,198.20V200.20M1263.44,198.20h4.6M1263.44,200.20h4.6" stroke="#e1391c" stroke-width="1.5" fill="none"/>
<circle cx="1265.74" cy="199.20" r="2.3" fill="#e1391c"/>
<circle cx="1271.80" cy="199.50" r="2.3" fill="#e1391c"/>
<path d="M1277.86,198.70V200.70M1275.56,198.70h4.6M1275.56,200.70h4.6" stroke="#e1391c" stroke-width="1.5" fill="none"/>
<circle cx="1277.86" cy="199.70" r="2.3" fill="#e1391c"/>
<path d="M1283.93,196.60V204.00M1281.63,196.60h4.6M1281.63,204.00h4.6" stroke="#e1391c" stroke-width="1.5" fill="none"/>
<circle cx="1283.93" cy="200.30" r="2.3" fill="#e1391c"/>
<path d="M1289.99,195.80V204.80M1287.69,195.80h4.6M1287.69,204.80h4.6" stroke="#e1391c" stroke-width="1.5" fill="none"/>
<circle cx="1289.99" cy="200.30" r="2.3" fill="#e1391c"/>
<path d="M1296.05,194.90V207.70M1293.75,194.90h4.6M1293.75,207.70h4.6" stroke="#e1391c" stroke-width="1.5" fill="none"/>
<circle cx="1296.05" cy="201.30" r="2.3" fill="#e1391c"/>
<path d="M1302.12,193.60V210.20M1299.82,193.60h4.6M1299.82,210.20h4.6" stroke="#e1391c" stroke-width="1.5" fill="none"/>
<circle cx="1302.12" cy="201.90" r="2.3" fill="#e1391c"/>
<path d="M1308.18,193.90V211.90M1305.88,193.90h4.6M1305.88,211.90h4.6" stroke="#e1391c" stroke-width="1.5" fill="none"/>
<circle cx="1308.18" cy="202.90" r="2.3" fill="#e1391c"/>
<path d="M1314.24,193.60V214.00M1311.94,193.60h4.6M1311.94,214.00h4.6" stroke="#e1391c" stroke-width="1.5" fill="none"/>
<circle cx="1314.24" cy="203.80" r="2.3" fill="#e1391c"/>
<path d="M1320.30,194.20V216.80M1318.00,194.20h4.6M1318.00,216.80h4.6" stroke="#e1391c" stroke-width="1.5" fill="none"/>
<circle cx="1320.30" cy="205.50" r="2.3" fill="#e1391c"/>
<path d="M1326.37,192.50V216.30M1324.07,192.50h4.6M1324.07,216.30h4.6" stroke="#e1391c" stroke-width="1.5" fill="none"/>
<circle cx="1326.37" cy="204.40" r="2.3" fill="#e1391c"/>
<path d="M1332.43,193.00V218.00M1330.13,193.00h4.6M1330.13,218.00h4.6" stroke="#e1391c" stroke-width="1.5" fill="none"/>
<circle cx="1332.43" cy="205.50" r="2.3" fill="#e1391c"/>
<path d="M1338.49,194.80V220.80M1336.19,194.80h4.6M1336.19,220.80h4.6" stroke="#e1391c" stroke-width="1.5" fill="none"/>
<circle cx="1338.49" cy="207.80" r="2.3" fill="#e1391c"/>
<path d="M1344.56,194.70V221.90M1342.26,194.70h4.6M1342.26,221.90h4.6" stroke="#e1391c" stroke-width="1.5" fill="none"/>
<circle cx="1344.56" cy="208.30" r="2.3" fill="#e1391c"/>
<path d="M1350.62,194.70V223.10M1348.32,194.70h4.6M1348.32,223.10h4.6" stroke="#e1391c" stroke-width="1.5" fill="none"/>
<circle cx="1350.62" cy="208.90" r="2.3" fill="#e1391c"/>
<path d="M1356.68,194.80V224.20M1354.38,194.80h4.6M1354.38,224.20h4.6" stroke="#e1391c" stroke-width="1.5" fill="none"/>
<circle cx="1356.68" cy="209.50" r="2.3" fill="#e1391c"/>
<path d="M1362.75,195.00V225.00M1360.45,195.00h4.6M1360.45,225.00h4.6" stroke="#e1391c" stroke-width="1.5" fill="none"/>
<circle cx="1362.75" cy="210.00" r="2.3" fill="#e1391c"/>
<path d="M1368.81,195.00V226.20M1366.51,195.00h4.6M1366.51,226.20h4.6" stroke="#e1391c" stroke-width="1.5" fill="none"/>
<circle cx="1368.81" cy="210.60" r="2.3" fill="#e1391c"/>
<path d="M1374.87,194.80V226.40M1372.57,194.80h4.6M1372.57,226.40h4.6" stroke="#e1391c" stroke-width="1.5" fill="none"/>
<circle cx="1374.87" cy="210.60" r="2.3" fill="#e1391c"/>
<path d="M1380.93,195.70V227.70M1378.63,195.70h4.6M1378.63,227.70h4.6" stroke="#e1391c" stroke-width="1.5" fill="none"/>
<circle cx="1380.93" cy="211.70" r="2.3" fill="#e1391c"/>
<path d="M1387.00,196.50V229.30M1384.70,196.50h4.6M1384.70,229.30h4.6" stroke="#e1391c" stroke-width="1.5" fill="none"/>
<circle cx="1387.00" cy="212.90" r="2.3" fill="#e1391c"/>
<path d="M1393.06,196.40V230.40M1390.76,196.40h4.6M1390.76,230.40h4.6" stroke="#e1391c" stroke-width="1.5" fill="none"/>
<circle cx="1393.06" cy="213.40" r="2.3" fill="#e1391c"/>
<path d="M1399.12,195.60V231.20M1396.82,195.60h4.6M1396.82,231.20h4.6" stroke="#e1391c" stroke-width="1.5" fill="none"/>
<circle cx="1399.12" cy="213.40" r="2.3" fill="#e1391c"/>
<path d="M1405.19,196.00V232.00M1402.89,196.00h4.6M1402.89,232.00h4.6" stroke="#e1391c" stroke-width="1.5" fill="none"/>
<circle cx="1405.19" cy="214.00" r="2.3" fill="#e1391c"/>
<path d="M1411.25,195.80V234.40M1408.95,195.80h4.6M1408.95,234.40h4.6" stroke="#e1391c" stroke-width="1.5" fill="none"/>
<circle cx="1411.25" cy="215.10" r="2.3" fill="#e1391c"/>
<path d="M1417.31,190.80V231.60M1415.01,190.80h4.6M1415.01,231.60h4.6" stroke="#e1391c" stroke-width="1.5" fill="none"/>
<circle cx="1417.31" cy="211.20" r="2.3" fill="#e1391c"/>
<path d="M1423.38,190.80V231.60M1421.08,190.80h4.6M1421.08,231.60h4.6" stroke="#e1391c" stroke-width="1.5" fill="none"/>
<circle cx="1423.38" cy="211.20" r="2.3" fill="#e1391c"/>
<path d="M1429.44,191.00V232.40M1427.14,191.00h4.6M1427.14,232.40h4.6" stroke="#e1391c" stroke-width="1.5" fill="none"/>
<circle cx="1429.44" cy="211.70" r="2.3" fill="#e1391c"/>
<path d="M1435.50,190.20V232.20M1433.20,190.20h4.6M1433.20,232.20h4.6" stroke="#e1391c" stroke-width="1.5" fill="none"/>
<circle cx="1435.50" cy="211.20" r="2.3" fill="#e1391c"/>
<path d="M1441.56,191.40V234.40M1439.26,191.40h4.6M1439.26,234.40h4.6" stroke="#e1391c" stroke-width="1.5" fill="none"/>
<circle cx="1441.56" cy="212.90" r="2.3" fill="#e1391c"/>
<path d="M1447.63,192.50V235.50M1445.33,192.50h4.6M1445.33,235.50h4.6" stroke="#e1391c" stroke-width="1.5" fill="none"/>
<circle cx="1447.63" cy="214.00" r="2.3" fill="#e1391c"/>
<path d="M1453.69,192.80V236.40M1451.39,192.80h4.6M1451.39,236.40h4.6" stroke="#e1391c" stroke-width="1.5" fill="none"/>
<circle cx="1453.69" cy="214.60" r="2.3" fill="#e1391c"/>
<path d="M1459.75,194.20V237.20M1457.45,194.20h4.6M1457.45,237.20h4.6" stroke="#e1391c" stroke-width="1.5" fill="none"/>
<circle cx="1459.75" cy="215.70" r="2.3" fill="#e1391c"/>
<path d="M1465.82,194.80V238.80M1463.52,194.80h4.6M1463.52,238.80h4.6" stroke="#e1391c" stroke-width="1.5" fill="none"/>
<circle cx="1465.82" cy="216.80" r="2.3" fill="#e1391c"/>
<path d="M1471.88,194.70V240.10M1469.58,194.70h4.6M1469.58,240.10h4.6" stroke="#e1391c" stroke-width="1.5" fill="none"/>
<circle cx="1471.88" cy="217.40" r="2.3" fill="#e1391c"/>
<clipPath id="clip1"><rect x="40" y="470" width="352.7" height="352.8"/></clipPath>
<g clip-path="url(#clip1)">
<rect x="40.00" y="470.00" width="352.70" height="352.80" fill="#000" stroke="none" stroke-width="0" />
<filter id="nz1" x="0" y="0" width="100%" height="100%" filterUnits="userSpaceOnUse" color-interpolation-filters="sRGB"><feTurbulence type="fractalNoise" baseFrequency="0.11" numOctaves="2" seed="11"/><feColorMatrix type="matrix" values="0.9 0 0 0 -0.32 0.9 0 0 0 -0.32 0.9 0 0 0 -0.32 0 0 0 0 1"/></filter>
<mask id="mk1" maskUnits="userSpaceOnUse" x="40" y="470" width="352.7" height="352.8">
<radialGradient id="mg1_0"><stop offset="0" stop-color="#fff" stop-opacity="0.8"/><stop offset="0.6" stop-color="#fff" stop-opacity="0.680"/><stop offset="1" stop-color="#fff" stop-opacity="0"/></radialGradient>
<ellipse cx="216.6" cy="643.9" rx="135.9" ry="125.0" fill="url(#mg1_0)" transform="rotate(0 216.6 643.9)"/>
</mask>
<g mask="url(#mk1)"><rect x="40" y="470" width="352.7" height="352.8" filter="url(#nz1)"/></g>
<g filter="url(#bl5)" style="mix-blend-mode:screen">
<circle cx="160.7" cy="635.6" r="4.4" fill="rgb(34,34,34)"/>
<circle cx="207.8" cy="533.1" r="3.8" fill="rgb(34,34,34)"/>
<circle cx="272.3" cy="553.9" r="4.4" fill="rgb(34,34,34)"/>
<circle cx="157.3" cy="696.7" r="4.4" fill="rgb(35,35,35)"/>
<circle cx="179.2" cy="554.2" r="3.6" fill="rgb(35,35,35)"/>
<circle cx="226.6" cy="657.5" r="3.7" fill="rgb(36,36,36)"/>
<circle cx="210.5" cy="548.1" r="3.8" fill="rgb(36,36,36)"/>
<circle cx="217.6" cy="610.1" r="4.5" fill="rgb(36,36,36)"/>
<circle cx="312.3" cy="653.4" r="4.0" fill="rgb(36,36,36)"/>
<circle cx="182.4" cy="699.5" r="4.0" fill="rgb(37,37,37)"/>
<circle cx="215.0" cy="685.9" r="4.7" fill="rgb(37,37,37)"/>
<circle cx="135.1" cy="627.5" r="3.8" fill="rgb(37,37,37)"/>
<circle cx="147.7" cy="679.6" r="3.9" fill="rgb(37,37,37)"/>
<circle cx="183.3" cy="725.3" r="4.0" fill="rgb(37,37,37)"/>
<circle cx="156.2" cy="574.7" r="3.8" fill="rgb(37,37,37)"/>
<circle cx="150.0" cy="579.8" r="3.5" fill="rgb(38,38,38)"/>
<circle cx="105.6" cy="663.5" r="3.5" fill="rgb(38,38,38)"/>
<circle cx="245.8" cy="685.1" r="4.4" fill="rgb(38,38,38)"/>
<circle cx="115.3" cy="703.9" r="4.3" fill="rgb(38,38,38)"/>
<circle cx="153.8" cy="605.8" r="4.6" fill="rgb(38,38,38)"/>
<circle cx="261.5" cy="539.9" r="4.9" fill="rgb(38,38,38)"/>
<circle cx="233.2" cy="748.4" r="3.9" fill="rgb(38,38,38)"/>
<circle cx="133.5" cy="678.0" r="4.4" fill="rgb(38,38,38)"/>
<circle cx="137.8" cy="696.1" r="4.8" fill="rgb(38,38,38)"/>
<circle cx="191.1" cy="600.4" r="3.8" fill="rgb(39,39,39)"/>
<circle cx="135.4" cy="723.1" r="4.5" fill="rgb(39,39,39)"/>
<circle cx="109.0" cy="602.7" r="4.4" fill="rgb(39,39,39)"/>
<circle cx="165.5" cy="688.9" r="4.8" fill="rgb(39,39,39)"/>
<circle cx="167.1" cy="712.7" r="4.7" fill="rgb(39,39,39)"/>
<circle cx="160.9" cy="699.9" r="3.8" fill="rgb(39,39,39)"/>
<circle cx="328.5" cy="683.2" r="4.4" fill="rgb(40,40,40)"/>
<circle cx="328.8" cy="682.5" r="3.7" fill="rgb(40,40,40)"/>
<circle cx="167.6" cy="633.6" r="4.1" fill="rgb(41,41,41)"/>
<circle cx="189.8" cy="662.2" r="4.1" fill="rgb(41,41,41)"/>
<circle cx="246.0" cy="581.8" r="3.6" fill="rgb(41,41,41)"/>
<circle cx="110.5" cy="635.3" r="4.1" fill="rgb(42,42,42)"/>
<circle cx="134.1" cy="658.8" r="4.0" fill="rgb(42,42,42)"/>
<circle cx="292.0" cy="684.1" r="4.3" fill="rgb(43,43,43)"/>
<circle cx="331.5" cy="686.0" r="4.0" fill="rgb(43,43,43)"/>
<circle cx="186.0" cy="657.0" r="3.8" fill="rgb(43,43,43)"/>
<circle cx="165.1" cy="636.9" r="4.1" fill="rgb(44,44,44)"/>
<circle cx="176.5" cy="671.2" r="4.2" fill="rgb(44,44,44)"/>
<circle cx="335.5" cy="668.8" r="3.8" fill="rgb(44,44,44)"/>
<circle cx="206.8" cy="722.3" r="4.5" fill="rgb(44,44,44)"/>
<circle cx="279.4" cy="720.2" r="3.9" fill="rgb(44,44,44)"/>
<circle cx="250.1" cy="549.1" r="3.7" fill="rgb(44,44,44)"/>
<circle cx="263.6" cy="736.1" r="4.1" fill="rgb(45,45,45)"/>
<circle cx="237.6" cy="628.1" r="4.2" fill="rgb(45,45,45)"/>
<circle cx="111.4" cy="693.4" r="3.8" fill="rgb(45,45,45)"/>
<circle cx="179.8" cy="606.9" r="4.4" fill="rgb(45,45,45)"/>
<circle cx="148.5" cy="721.0" r="4.6" fill="rgb(45,45,45)"/>
<circle cx="220.3" cy="558.5" r="4.4" fill="rgb(45,45,45)"/>
<circle cx="155.5" cy="705.2" r="4.6" fill="rgb(45,45,45)"/>
<circle cx="225.2" cy="672.4" r="3.6" fill="rgb(45,45,45)"/>
<circle cx="146.3" cy="709.6" r="4.2" fill="rgb(45,45,45)"/>
<circle cx="260.5" cy="631.0" r="4.1" fill="rgb(45,45,45)"/>
<circle cx="203.8" cy="700.1" r="3.7" fill="rgb(46,46,46)"/>
<circle cx="171.8" cy="639.1" r="4.2" fill="rgb(46,46,46)"/>
<circle cx="266.7" cy="723.5" r="3.7" fill="rgb(46,46,46)"/>
<circle cx="174.6" cy="746.0" r="4.3" fill="rgb(46,46,46)"/>
<circle cx="185.1" cy="598.7" r="4.4" fill="rgb(46,46,46)"/>
<circle cx="98.3" cy="684.8" r="4.3" fill="rgb(47,47,47)"/>
<circle cx="148.2" cy="609.7" r="4.1" fill="rgb(47,47,47)"/>
<circle cx="285.5" cy="655.9" r="4.0" fill="rgb(48,48,48)"/>
<circle cx="129.4" cy="665.0" r="3.7" fill="rgb(48,48,48)"/>
<circle cx="303.5" cy="699.3" r="4.1" fill="rgb(48,48,48)"/>
<circle cx="251.9" cy="570.5" r="4.9" fill="rgb(48,48,48)"/>
<circle cx="257.4" cy="731.0" r="4.5" fill="rgb(49,49,49)"/>
<circle cx="124.2" cy="718.9" r="4.0" fill="rgb(49,49,49)"/>
<circle cx="115.3" cy="619.9" r="4.6" fill="rgb(49,49,49)"/>
<circle cx="328.7" cy="639.4" r="3.9" fill="rgb(49,49,49)"/>
<circle cx="275.9" cy="630.9" r="4.3" fill="rgb(49,49,49)"/>
<circle cx="238.1" cy="667.9" r="4.5" fill="rgb(49,49,49)"/>
<circle cx="262.4" cy="745.0" r="5.0" fill="rgb(49,49,49)"/>
<circle cx="188.6" cy="545.2" r="4.2" fill="rgb(49,49,49)"/>
<circle cx="260.8" cy="596.9" r="4.5" fill="rgb(50,50,50)"/>
<circle cx="284.2" cy="598.2" r="5.0" fill="rgb(50,50,50)"/>
<circle cx="99.7" cy="629.2" r="4.8" fill="rgb(50,50,50)"/>
<circle cx="274.0" cy="631.6" r="4.6" fill="rgb(50,50,50)"/>
<circle cx="151.4" cy="551.1" r="4.6" fill="rgb(51,51,51)"/>
<circle cx="118.2" cy="656.0" r="4.3" fill="rgb(51,51,51)"/>
<circle cx="113.0" cy="687.6" r="4.3" fill="rgb(51,51,51)"/>
<circle cx="331.0" cy="680.7" r="4.1" fill="rgb(51,51,51)"/>
<circle cx="140.2" cy="723.1" r="4.9" fill="rgb(51,51,51)"/>
<circle cx="172.8" cy="660.7" r="4.9" fill="rgb(51,51,51)"/>
<circle cx="211.3" cy="712.1" r="4.2" fill="rgb(51,51,51)"/>
<circle cx="248.4" cy="550.9" r="5.0" fill="rgb(51,51,51)"/>
<circle cx="194.7" cy="753.7" r="3.8" fill="rgb(52,52,52)"/>
<circle cx="290.3" cy="671.6" r="3.9" fill="rgb(52,52,52)"/>
<circle cx="338.0" cy="667.8" r="4.4" fill="rgb(52,52,52)"/>
<circle cx="210.4" cy="728.1" r="4.2" fill="rgb(52,52,52)"/>
<circle cx="120.3" cy="712.7" r="4.2" fill="rgb(53,53,53)"/>
<circle cx="126.2" cy="575.7" r="5.1" fill="rgb(53,53,53)"/>
<circle cx="238.8" cy="725.7" r="4.0" fill="rgb(53,53,53)"/>
<circle cx="328.1" cy="610.3" r="4.0" fill="rgb(55,55,55)"/>
<circle cx="292.6" cy="564.9" r="4.1" fill="rgb(55,55,55)"/>
<circle cx="167.8" cy="599.1" r="4.7" fill="rgb(55,55,55)"/>
<circle cx="226.1" cy="681.2" r="4.1" fill="rgb(55,55,55)"/>
<circle cx="166.4" cy="726.5" r="3.8" fill="rgb(55,55,55)"/>
<circle cx="125.8" cy="682.4" r="4.5" fill="rgb(56,56,56)"/>
<circle cx="227.4" cy="624.3" r="4.3" fill="rgb(56,56,56)"/>
<circle cx="242.4" cy="690.8" r="4.1" fill="rgb(56,56,56)"/>
<circle cx="203.1" cy="735.2" r="4.5" fill="rgb(57,57,57)"/>
<circle cx="241.2" cy="658.3" r="4.7" fill="rgb(57,57,57)"/>
<circle cx="224.2" cy="740.1" r="4.6" fill="rgb(57,57,57)"/>
<circle cx="200.4" cy="731.2" r="4.7" fill="rgb(58,58,58)"/>
<circle cx="176.3" cy="587.1" r="4.6" fill="rgb(58,58,58)"/>
<circle cx="323.4" cy="618.9" r="5.0" fill="rgb(59,59,59)"/>
<circle cx="178.8" cy="575.3" r="5.2" fill="rgb(59,59,59)"/>
<circle cx="215.3" cy="623.5" r="4.3" fill="rgb(60,60,60)"/>
<circle cx="205.2" cy="579.0" r="4.4" fill="rgb(60,60,60)"/>
<circle cx="310.1" cy="585.5" r="5.1" fill="rgb(62,62,62)"/>
<circle cx="234.4" cy="741.4" r="4.3" fill="rgb(63,63,63)"/>
<circle cx="223.4" cy="696.2" r="4.9" fill="rgb(64,64,64)"/>
<circle cx="233.7" cy="594.5" r="4.9" fill="rgb(64,64,64)"/>
<circle cx="176.0" cy="656.4" r="4.9" fill="rgb(65,65,65)"/>
<circle cx="297.5" cy="695.7" r="5.3" fill="rgb(65,65,65)"/>
<circle cx="151.0" cy="689.4" r="5.1" fill="rgb(65,65,65)"/>
<circle cx="113.6" cy="662.0" r="4.2" fill="rgb(65,65,65)"/>
<circle cx="277.5" cy="644.4" r="4.8" fill="rgb(66,66,66)"/>
<circle cx="239.2" cy="751.6" r="4.6" fill="rgb(66,66,66)"/>
<circle cx="126.9" cy="568.6" r="4.8" fill="rgb(66,66,66)"/>
<circle cx="307.6" cy="580.1" r="4.5" fill="rgb(66,66,66)"/>
<circle cx="140.9" cy="701.4" r="4.4" fill="rgb(67,67,67)"/>
<circle cx="290.8" cy="553.9" r="5.0" fill="rgb(67,67,67)"/>
<circle cx="184.5" cy="623.3" r="4.7" fill="rgb(68,68,68)"/>
<circle cx="222.2" cy="662.2" r="4.3" fill="rgb(68,68,68)"/>
<circle cx="223.6" cy="563.1" r="4.3" fill="rgb(68,68,68)"/>
<circle cx="234.9" cy="651.9" r="4.4" fill="rgb(68,68,68)"/>
<circle cx="102.3" cy="600.3" r="4.2" fill="rgb(68,68,68)"/>
<circle cx="250.8" cy="722.5" r="4.7" fill="rgb(68,68,68)"/>
<circle cx="212.8" cy="548.2" r="4.2" fill="rgb(68,68,68)"/>
<circle cx="177.2" cy="729.7" r="4.1" fill="rgb(68,68,68)"/>
<circle cx="272.1" cy="714.2" r="4.1" fill="rgb(69,69,69)"/>
<circle cx="204.5" cy="649.4" r="4.2" fill="rgb(69,69,69)"/>
<circle cx="282.0" cy="669.6" r="5.0" fill="rgb(69,69,69)"/>
<circle cx="300.6" cy="604.8" r="4.2" fill="rgb(69,69,69)"/>
<circle cx="262.3" cy="612.9" r="4.7" fill="rgb(70,70,70)"/>
<circle cx="222.0" cy="621.9" r="5.1" fill="rgb(70,70,70)"/>
<circle cx="229.3" cy="647.8" r="4.7" fill="rgb(70,70,70)"/>
<circle cx="319.0" cy="703.2" r="4.3" fill="rgb(70,70,70)"/>
<circle cx="135.7" cy="620.2" r="5.3" fill="rgb(71,71,71)"/>
<circle cx="206.0" cy="615.3" r="5.3" fill="rgb(71,71,71)"/>
<circle cx="165.6" cy="695.6" r="4.1" fill="rgb(71,71,71)"/>
<circle cx="115.6" cy="616.2" r="4.4" fill="rgb(71,71,71)"/>
<circle cx="105.2" cy="650.8" r="4.8" fill="rgb(71,71,71)"/>
<circle cx="278.9" cy="664.5" r="5.2" fill="rgb(72,72,72)"/>
<circle cx="112.2" cy="693.0" r="4.6" fill="rgb(72,72,72)"/>
<circle cx="103.5" cy="666.4" r="5.1" fill="rgb(72,72,72)"/>
<circle cx="190.8" cy="650.7" r="4.4" fill="rgb(73,73,73)"/>
<circle cx="326.1" cy="600.3" r="5.1" fill="rgb(73,73,73)"/>
<circle cx="197.7" cy="692.5" r="4.5" fill="rgb(73,73,73)"/>
<circle cx="275.3" cy="589.3" r="4.6" fill="rgb(73,73,73)"/>
<circle cx="159.2" cy="608.5" r="5.2" fill="rgb(74,74,74)"/>
<circle cx="272.6" cy="578.7" r="5.3" fill="rgb(74,74,74)"/>
<circle cx="307.8" cy="647.6" r="5.3" fill="rgb(75,75,75)"/>
<circle cx="238.8" cy="643.5" r="4.9" fill="rgb(75,75,75)"/>
<circle cx="147.3" cy="726.1" r="4.7" fill="rgb(75,75,75)"/>
<circle cx="126.4" cy="673.7" r="5.1" fill="rgb(76,76,76)"/>
<circle cx="136.2" cy="592.1" r="5.0" fill="rgb(76,76,76)"/>
<circle cx="209.9" cy="551.3" r="5.3" fill="rgb(76,76,76)"/>
<circle cx="266.2" cy="655.1" r="5.3" fill="rgb(76,76,76)"/>
<circle cx="148.0" cy="635.1" r="4.3" fill="rgb(77,77,77)"/>
<circle cx="167.1" cy="740.5" r="4.7" fill="rgb(77,77,77)"/>
<circle cx="92.5" cy="652.5" r="5.1" fill="rgb(77,77,77)"/>
<circle cx="91.1" cy="630.8" r="4.5" fill="rgb(79,79,79)"/>
<circle cx="283.5" cy="737.8" r="4.4" fill="rgb(79,79,79)"/>
<circle cx="298.6" cy="681.1" r="4.2" fill="rgb(79,79,79)"/>
<circle cx="223.8" cy="687.1" r="5.0" fill="rgb(79,79,79)"/>
<circle cx="325.9" cy="690.3" r="5.5" fill="rgb(80,80,80)"/>
<circle cx="245.7" cy="618.2" r="5.6" fill="rgb(81,81,81)"/>
<circle cx="167.0" cy="702.5" r="4.4" fill="rgb(81,81,81)"/>
<circle cx="195.6" cy="743.1" r="5.2" fill="rgb(81,81,81)"/>
<circle cx="173.4" cy="649.9" r="4.8" fill="rgb(81,81,81)"/>
<circle cx="334.0" cy="618.9" r="5.1" fill="rgb(81,81,81)"/>
<circle cx="241.0" cy="661.9" r="4.8" fill="rgb(81,81,81)"/>
<circle cx="300.4" cy="718.6" r="5.5" fill="rgb(81,81,81)"/>
<circle cx="207.0" cy="601.3" r="5.6" fill="rgb(82,82,82)"/>
<circle cx="222.3" cy="611.5" r="4.3" fill="rgb(82,82,82)"/>
<circle cx="161.4" cy="733.1" r="5.3" fill="rgb(84,84,84)"/>
<circle cx="214.5" cy="581.4" r="4.4" fill="rgb(84,84,84)"/>
<circle cx="203.9" cy="625.6" r="4.3" fill="rgb(84,84,84)"/>
<circle cx="203.4" cy="608.8" r="4.7" fill="rgb(85,85,85)"/>
<circle cx="222.5" cy="648.6" r="5.3" fill="rgb(85,85,85)"/>
<circle cx="114.4" cy="609.3" r="5.7" fill="rgb(85,85,85)"/>
<circle cx="161.2" cy="715.4" r="4.5" fill="rgb(86,86,86)"/>
<circle cx="210.9" cy="673.0" r="4.8" fill="rgb(86,86,86)"/>
<circle cx="173.1" cy="670.9" r="4.4" fill="rgb(87,87,87)"/>
<circle cx="171.6" cy="703.9" r="5.1" fill="rgb(87,87,87)"/>
<circle cx="273.1" cy="626.1" r="5.0" fill="rgb(87,87,87)"/>
<circle cx="306.6" cy="607.8" r="4.9" fill="rgb(88,88,88)"/>
<circle cx="232.9" cy="730.4" r="4.8" fill="rgb(88,88,88)"/>
<circle cx="303.8" cy="670.2" r="5.5" fill="rgb(88,88,88)"/>
<circle cx="225.5" cy="622.7" r="5.5" fill="rgb(88,88,88)"/>
<circle cx="179.0" cy="749.8" r="4.7" fill="rgb(88,88,88)"/>
<circle cx="200.2" cy="691.0" r="4.9" fill="rgb(89,89,89)"/>
<circle cx="319.4" cy="583.2" r="5.2" fill="rgb(89,89,89)"/>
<circle cx="192.2" cy="754.7" r="5.4" fill="rgb(89,89,89)"/>
<circle cx="294.7" cy="720.2" r="5.7" fill="rgb(89,89,89)"/>
<circle cx="257.0" cy="569.0" r="4.9" fill="rgb(89,89,89)"/>
<circle cx="215.7" cy="687.1" r="5.3" fill="rgb(89,89,89)"/>
<circle cx="233.8" cy="733.6" r="5.1" fill="rgb(89,89,89)"/>
<circle cx="151.6" cy="581.3" r="5.5" fill="rgb(89,89,89)"/>
<circle cx="132.7" cy="608.8" r="4.6" fill="rgb(89,89,89)"/>
<circle cx="199.8" cy="667.7" r="4.6" fill="rgb(89,89,89)"/>
<circle cx="148.8" cy="646.1" r="4.5" fill="rgb(90,90,90)"/>
<circle cx="152.2" cy="611.2" r="5.7" fill="rgb(90,90,90)"/>
<circle cx="126.1" cy="654.9" r="4.7" fill="rgb(90,90,90)"/>
<circle cx="298.4" cy="586.4" r="5.1" fill="rgb(91,91,91)"/>
<circle cx="281.7" cy="653.9" r="4.6" fill="rgb(91,91,91)"/>
<circle cx="209.6" cy="635.6" r="4.8" fill="rgb(91,91,91)"/>
<circle cx="160.8" cy="663.4" r="4.4" fill="rgb(91,91,91)"/>
<circle cx="179.3" cy="633.1" r="5.2" fill="rgb(92,92,92)"/>
<circle cx="234.3" cy="649.4" r="4.6" fill="rgb(92,92,92)"/>
<circle cx="190.1" cy="573.2" r="5.3" fill="rgb(92,92,92)"/>
<circle cx="191.7" cy="638.7" r="4.8" fill="rgb(92,92,92)"/>
<circle cx="295.3" cy="635.4" r="4.7" fill="rgb(93,93,93)"/>
<circle cx="168.6" cy="589.1" r="5.1" fill="rgb(93,93,93)"/>
<circle cx="212.9" cy="738.9" r="4.9" fill="rgb(93,93,93)"/>
<circle cx="222.3" cy="695.0" r="4.8" fill="rgb(94,94,94)"/>
</g>
<g filter="url(#bl6)" style="mix-blend-mode:screen">
<circle cx="276.4" cy="747.2" r="3.9" fill="rgb(95,95,95)"/>
<circle cx="216.6" cy="622.2" r="3.9" fill="rgb(95,95,95)"/>
<circle cx="273.7" cy="548.8" r="5.0" fill="rgb(107,107,107)"/>
<circle cx="175.9" cy="657.5" r="4.4" fill="rgb(107,107,107)"/>
<circle cx="102.5" cy="633.0" r="4.1" fill="rgb(107,107,107)"/>
<circle cx="257.4" cy="728.2" r="4.2" fill="rgb(107,107,107)"/>
<circle cx="292.7" cy="709.1" r="4.5" fill="rgb(107,107,107)"/>
<circle cx="175.9" cy="728.2" r="5.1" fill="rgb(107,107,107)"/>
<circle cx="235.7" cy="616.7" r="4.3" fill="rgb(107,107,107)"/>
<circle cx="205.8" cy="548.8" r="5.1" fill="rgb(120,120,120)"/>
<circle cx="196.2" cy="646.6" r="4.7" fill="rgb(120,120,120)"/>
<circle cx="140.5" cy="642.6" r="4.7" fill="rgb(120,120,120)"/>
<circle cx="311.7" cy="701.0" r="5.0" fill="rgb(120,120,120)"/>
<circle cx="265.5" cy="584.1" r="4.6" fill="rgb(120,120,120)"/>
<circle cx="291.4" cy="592.3" r="4.3" fill="rgb(120,120,120)"/>
<circle cx="167.7" cy="578.7" r="4.8" fill="rgb(120,120,120)"/>
<circle cx="154.1" cy="592.3" r="4.9" fill="rgb(120,120,120)"/>
<circle cx="129.7" cy="605.9" r="4.9" fill="rgb(120,120,120)"/>
<circle cx="219.3" cy="722.7" r="4.5" fill="rgb(120,120,120)"/>
<circle cx="163.6" cy="559.7" r="5.4" fill="rgb(132,132,132)"/>
<circle cx="302.2" cy="565.1" r="5.3" fill="rgb(132,132,132)"/>
<circle cx="325.3" cy="665.7" r="5.4" fill="rgb(132,132,132)"/>
<circle cx="110.7" cy="662.9" r="4.9" fill="rgb(132,132,132)"/>
<circle cx="235.7" cy="646.6" r="5.3" fill="rgb(132,132,132)"/>
<circle cx="328.0" cy="605.9" r="5.1" fill="rgb(132,132,132)"/>
<circle cx="235.7" cy="573.3" r="4.6" fill="rgb(132,132,132)"/>
<circle cx="186.7" cy="595.0" r="4.6" fill="rgb(145,145,145)"/>
<circle cx="182.7" cy="543.4" r="4.8" fill="rgb(145,145,145)"/>
<circle cx="226.1" cy="551.5" r="4.7" fill="rgb(145,145,145)"/>
<circle cx="284.6" cy="671.1" r="4.7" fill="rgb(145,145,145)"/>
<circle cx="208.5" cy="680.6" r="5.0" fill="rgb(145,145,145)"/>
<circle cx="314.5" cy="633.0" r="5.5" fill="rgb(157,157,157)"/>
<circle cx="154.1" cy="687.4" r="5.1" fill="rgb(157,157,157)"/>
<circle cx="196.2" cy="607.2" r="5.3" fill="rgb(157,157,157)"/>
<circle cx="141.9" cy="614.0" r="5.0" fill="rgb(170,170,170)"/>
<circle cx="333.5" cy="620.8" r="5.2" fill="rgb(170,170,170)"/>
<circle cx="196.2" cy="706.4" r="5.9" fill="rgb(170,170,170)"/>
<circle cx="238.4" cy="692.8" r="5.0" fill="rgb(170,170,170)"/>
<circle cx="256.0" cy="702.3" r="5.5" fill="rgb(170,170,170)"/>
<circle cx="121.5" cy="603.2" r="5.8" fill="rgb(170,170,170)"/>
<circle cx="107.9" cy="589.6" r="5.8" fill="rgb(170,170,170)"/>
<circle cx="150.1" cy="721.4" r="5.9" fill="rgb(182,182,182)"/>
<circle cx="186.7" cy="698.3" r="5.5" fill="rgb(182,182,182)"/>
<circle cx="309.0" cy="672.4" r="6.1" fill="rgb(195,195,195)"/>
<circle cx="219.3" cy="754.0" r="6.1" fill="rgb(195,195,195)"/>
<circle cx="116.1" cy="633.0" r="6.3" fill="rgb(207,207,207)"/>
<circle cx="296.8" cy="611.3" r="6.5" fill="rgb(207,207,207)"/>
<circle cx="242.4" cy="590.9" r="6.0" fill="rgb(232,232,232)"/>
<circle cx="112.0" cy="595.0" r="6.8" fill="rgb(232,232,232)"/>
<circle cx="271.0" cy="633.0" r="6.8" fill="rgb(255,255,255)"/>
</g>
</g>
<text x="0" y="0" transform="translate(55.00,508.50) rotate(0) scale(1,1.045)" font-size="31" text-anchor="start" font-weight="bold" fill="#fff" ><tspan font-style="normal">OE-</tspan><tspan font-style="italic">Ctrl</tspan></text>
<rect x="56.00" y="802.90" width="87.20" height="4.50" fill="#fff" stroke="none" stroke-width="0" />
<text x="0" y="0" transform="translate(65.00,791.50) scale(1,1.04)" font-size="30" text-anchor="start" font-weight="bold" font-style="normal" fill="#fff" >4 μm</text>
<clipPath id="clip2"><rect x="396.2" y="470" width="352.7" height="352.8"/></clipPath>
<g clip-path="url(#clip2)">
<rect x="396.20" y="470.00" width="352.70" height="352.80" fill="#000" stroke="none" stroke-width="0" />
<filter id="nz2" x="0" y="0" width="100%" height="100%" filterUnits="userSpaceOnUse" color-interpolation-filters="sRGB"><feTurbulence type="fractalNoise" baseFrequency="0.11" numOctaves="2" seed="12"/><feColorMatrix type="matrix" values="0.9 0 0 0 -0.32 0.9 0 0 0 -0.32 0.9 0 0 0 -0.32 0 0 0 0 1"/></filter>
<mask id="mk2" maskUnits="userSpaceOnUse" x="396.2" y="470" width="352.7" height="352.8">
<radialGradient id="mg2_0"><stop offset="0" stop-color="#fff" stop-opacity="1.0"/><stop offset="0.6" stop-color="#fff" stop-opacity="0.850"/><stop offset="1" stop-color="#fff" stop-opacity="0"/></radialGradient>
<ellipse cx="548.4" cy="643.9" rx="130.4" ry="114.1" fill="url(#mg2_0)" transform="rotate(-30 548.4 643.9)"/>
<radialGradient id="mg2_1"><stop offset="0" stop-color="#fff" stop-opacity="0.7"/><stop offset="0.6" stop-color="#fff" stop-opacity="0.595"/><stop offset="1" stop-color="#fff" stop-opacity="0"/></radialGradient>
<ellipse cx="619.0" cy="559.7" rx="97.8" ry="54.3" fill="url(#mg2_1)" transform="rotate(-20 619.0 559.7)"/>
<radialGradient id="mg2_2"><stop offset="0" stop-color="#fff" stop-opacity="0.5"/><stop offset="0.6" stop-color="#fff" stop-opacity="0.425"/><stop offset="1" stop-color="#fff" stop-opacity="0"/></radialGradient>
<ellipse cx="472.3" cy="722.7" rx="46.2" ry="59.8" fill="url(#mg2_2)" transform="rotate(0 472.3 722.7)"/>
</mask>
<g mask="url(#mk2)"><rect x="396.2" y="470" width="352.7" height="352.8" filter="url(#nz2)"/></g>
<g filter="url(#bl5)" style="mix-blend-mode:screen">
<circle cx="682.4" cy="646.6" r="4.7" fill="rgb(26,26,26)"/>
<circle cx="699.9" cy="562.1" r="4.4" fill="rgb(28,28,28)"/>
<circle cx="675.0" cy="604.1" r="4.3" fill="rgb(30,30,30)"/>
<circle cx="702.0" cy="560.7" r="3.7" fill="rgb(30,30,30)"/>
<circle cx="659.1" cy="586.9" r="4.0" fill="rgb(30,30,30)"/>
<circle cx="689.5" cy="578.7" r="4.4" fill="rgb(31,31,31)"/>
<circle cx="623.7" cy="624.0" r="4.3" fill="rgb(32,32,32)"/>
<circle cx="632.8" cy="620.7" r="3.8" fill="rgb(32,32,32)"/>
<circle cx="608.2" cy="706.4" r="3.9" fill="rgb(33,33,33)"/>
<circle cx="645.8" cy="542.2" r="4.6" fill="rgb(35,35,35)"/>
<circle cx="692.7" cy="603.4" r="3.5" fill="rgb(36,36,36)"/>
<circle cx="641.2" cy="666.5" r="4.4" fill="rgb(37,37,37)"/>
<circle cx="668.4" cy="590.7" r="4.4" fill="rgb(37,37,37)"/>
<circle cx="688.1" cy="580.3" r="4.2" fill="rgb(37,37,37)"/>
<circle cx="690.2" cy="609.7" r="4.2" fill="rgb(37,37,37)"/>
<circle cx="617.5" cy="661.0" r="4.8" fill="rgb(37,37,37)"/>
<circle cx="691.8" cy="618.7" r="3.9" fill="rgb(37,37,37)"/>
<circle cx="509.6" cy="590.5" r="4.5" fill="rgb(38,38,38)"/>
<circle cx="635.7" cy="678.6" r="4.5" fill="rgb(38,38,38)"/>
<circle cx="465.9" cy="689.5" r="4.5" fill="rgb(38,38,38)"/>
<circle cx="691.6" cy="567.4" r="3.6" fill="rgb(38,38,38)"/>
<circle cx="625.8" cy="699.7" r="4.5" fill="rgb(38,38,38)"/>
<circle cx="624.8" cy="578.4" r="4.0" fill="rgb(39,39,39)"/>
<circle cx="638.8" cy="521.6" r="3.7" fill="rgb(39,39,39)"/>
<circle cx="564.6" cy="605.9" r="4.8" fill="rgb(39,39,39)"/>
<circle cx="539.3" cy="590.7" r="3.9" fill="rgb(40,40,40)"/>
<circle cx="571.6" cy="706.1" r="4.2" fill="rgb(40,40,40)"/>
<circle cx="704.8" cy="581.4" r="4.0" fill="rgb(40,40,40)"/>
<circle cx="629.5" cy="639.6" r="3.7" fill="rgb(41,41,41)"/>
<circle cx="655.6" cy="519.7" r="3.9" fill="rgb(41,41,41)"/>
<circle cx="487.7" cy="616.2" r="4.4" fill="rgb(41,41,41)"/>
<circle cx="517.8" cy="695.0" r="4.4" fill="rgb(41,41,41)"/>
<circle cx="589.3" cy="651.4" r="4.6" fill="rgb(42,42,42)"/>
<circle cx="632.0" cy="590.6" r="3.8" fill="rgb(42,42,42)"/>
<circle cx="545.2" cy="616.5" r="4.0" fill="rgb(43,43,43)"/>
<circle cx="505.8" cy="565.8" r="4.7" fill="rgb(43,43,43)"/>
<circle cx="648.5" cy="595.5" r="4.3" fill="rgb(43,43,43)"/>
<circle cx="516.6" cy="575.1" r="4.6" fill="rgb(44,44,44)"/>
<circle cx="574.6" cy="691.8" r="4.2" fill="rgb(44,44,44)"/>
<circle cx="585.5" cy="661.2" r="4.2" fill="rgb(44,44,44)"/>
<circle cx="621.7" cy="549.6" r="3.6" fill="rgb(44,44,44)"/>
<circle cx="686.8" cy="622.0" r="4.8" fill="rgb(45,45,45)"/>
<circle cx="456.4" cy="684.2" r="4.9" fill="rgb(45,45,45)"/>
<circle cx="690.0" cy="550.4" r="4.6" fill="rgb(46,46,46)"/>
<circle cx="659.4" cy="559.1" r="3.9" fill="rgb(46,46,46)"/>
<circle cx="625.9" cy="598.3" r="4.5" fill="rgb(46,46,46)"/>
<circle cx="489.2" cy="724.8" r="4.6" fill="rgb(46,46,46)"/>
<circle cx="532.3" cy="686.3" r="4.0" fill="rgb(47,47,47)"/>
<circle cx="603.6" cy="530.1" r="4.2" fill="rgb(47,47,47)"/>
<circle cx="573.2" cy="716.6" r="4.9" fill="rgb(47,47,47)"/>
<circle cx="445.9" cy="683.0" r="4.0" fill="rgb(47,47,47)"/>
<circle cx="523.7" cy="578.5" r="4.5" fill="rgb(47,47,47)"/>
<circle cx="520.6" cy="638.9" r="3.7" fill="rgb(47,47,47)"/>
<circle cx="582.9" cy="599.7" r="3.7" fill="rgb(47,47,47)"/>
<circle cx="649.4" cy="567.8" r="3.7" fill="rgb(48,48,48)"/>
<circle cx="492.1" cy="609.0" r="4.1" fill="rgb(48,48,48)"/>
<circle cx="510.5" cy="712.1" r="5.0" fill="rgb(48,48,48)"/>
<circle cx="620.3" cy="602.2" r="4.5" fill="rgb(48,48,48)"/>
<circle cx="562.8" cy="628.1" r="4.3" fill="rgb(48,48,48)"/>
<circle cx="568.5" cy="626.7" r="3.9" fill="rgb(49,49,49)"/>
<circle cx="540.6" cy="560.9" r="4.5" fill="rgb(49,49,49)"/>
<circle cx="646.4" cy="657.8" r="3.9" fill="rgb(49,49,49)"/>
<circle cx="506.6" cy="689.5" r="3.8" fill="rgb(49,49,49)"/>
<circle cx="624.7" cy="627.6" r="4.1" fill="rgb(49,49,49)"/>
<circle cx="565.8" cy="714.4" r="4.0" fill="rgb(50,50,50)"/>
<circle cx="506.7" cy="722.1" r="4.8" fill="rgb(50,50,50)"/>
<circle cx="467.4" cy="615.3" r="4.5" fill="rgb(50,50,50)"/>
<circle cx="654.9" cy="583.8" r="4.6" fill="rgb(51,51,51)"/>
<circle cx="434.6" cy="688.1" r="4.1" fill="rgb(51,51,51)"/>
<circle cx="616.8" cy="668.3" r="4.3" fill="rgb(51,51,51)"/>
<circle cx="637.9" cy="652.5" r="3.9" fill="rgb(51,51,51)"/>
<circle cx="638.2" cy="659.4" r="4.1" fill="rgb(52,52,52)"/>
<circle cx="634.2" cy="530.6" r="5.1" fill="rgb(52,52,52)"/>
<circle cx="684.8" cy="620.9" r="4.7" fill="rgb(53,53,53)"/>
<circle cx="553.2" cy="686.1" r="4.2" fill="rgb(53,53,53)"/>
<circle cx="624.5" cy="584.3" r="4.6" fill="rgb(53,53,53)"/>
<circle cx="629.8" cy="521.3" r="5.0" fill="rgb(53,53,53)"/>
<circle cx="686.3" cy="596.7" r="4.9" fill="rgb(53,53,53)"/>
<circle cx="686.9" cy="540.0" r="4.5" fill="rgb(54,54,54)"/>
<circle cx="446.1" cy="714.3" r="4.0" fill="rgb(54,54,54)"/>
<circle cx="578.7" cy="722.6" r="3.8" fill="rgb(54,54,54)"/>
<circle cx="620.2" cy="607.2" r="3.9" fill="rgb(54,54,54)"/>
<circle cx="606.7" cy="673.9" r="4.9" fill="rgb(55,55,55)"/>
<circle cx="493.4" cy="664.0" r="4.9" fill="rgb(55,55,55)"/>
<circle cx="587.5" cy="529.0" r="4.8" fill="rgb(55,55,55)"/>
<circle cx="564.8" cy="691.5" r="4.8" fill="rgb(55,55,55)"/>
<circle cx="475.9" cy="662.3" r="4.0" fill="rgb(55,55,55)"/>
<circle cx="665.1" cy="609.6" r="4.6" fill="rgb(56,56,56)"/>
<circle cx="591.9" cy="710.5" r="3.8" fill="rgb(56,56,56)"/>
<circle cx="676.6" cy="618.1" r="3.8" fill="rgb(56,56,56)"/>
<circle cx="541.9" cy="688.2" r="4.7" fill="rgb(56,56,56)"/>
<circle cx="669.2" cy="586.5" r="3.8" fill="rgb(57,57,57)"/>
<circle cx="661.2" cy="651.8" r="4.4" fill="rgb(57,57,57)"/>
<circle cx="640.2" cy="682.5" r="4.3" fill="rgb(57,57,57)"/>
<circle cx="577.8" cy="559.3" r="5.0" fill="rgb(57,57,57)"/>
<circle cx="558.4" cy="543.8" r="4.3" fill="rgb(58,58,58)"/>
<circle cx="600.5" cy="663.4" r="4.1" fill="rgb(58,58,58)"/>
<circle cx="453.9" cy="722.9" r="4.8" fill="rgb(59,59,59)"/>
<circle cx="569.3" cy="616.6" r="4.1" fill="rgb(59,59,59)"/>
<circle cx="476.4" cy="667.3" r="5.2" fill="rgb(59,59,59)"/>
<circle cx="648.4" cy="675.3" r="5.1" fill="rgb(59,59,59)"/>
<circle cx="622.1" cy="551.1" r="5.2" fill="rgb(60,60,60)"/>
<circle cx="516.0" cy="649.5" r="4.7" fill="rgb(60,60,60)"/>
<circle cx="545.8" cy="661.9" r="4.1" fill="rgb(60,60,60)"/>
<circle cx="639.6" cy="661.3" r="4.1" fill="rgb(60,60,60)"/>
<circle cx="661.5" cy="570.8" r="4.9" fill="rgb(60,60,60)"/>
<circle cx="542.5" cy="673.5" r="4.5" fill="rgb(61,61,61)"/>
<circle cx="642.3" cy="582.2" r="4.9" fill="rgb(61,61,61)"/>
<circle cx="619.4" cy="531.1" r="4.2" fill="rgb(62,62,62)"/>
<circle cx="704.7" cy="568.3" r="4.7" fill="rgb(62,62,62)"/>
<circle cx="660.0" cy="655.2" r="5.1" fill="rgb(62,62,62)"/>
<circle cx="628.6" cy="529.7" r="4.3" fill="rgb(62,62,62)"/>
<circle cx="612.8" cy="686.8" r="5.1" fill="rgb(62,62,62)"/>
<circle cx="521.8" cy="579.5" r="4.1" fill="rgb(62,62,62)"/>
<circle cx="534.6" cy="634.4" r="4.8" fill="rgb(63,63,63)"/>
<circle cx="615.2" cy="530.2" r="4.0" fill="rgb(63,63,63)"/>
<circle cx="621.6" cy="695.1" r="4.3" fill="rgb(63,63,63)"/>
<circle cx="570.7" cy="596.9" r="4.0" fill="rgb(64,64,64)"/>
<circle cx="671.5" cy="624.5" r="4.2" fill="rgb(64,64,64)"/>
<circle cx="675.2" cy="607.9" r="4.7" fill="rgb(65,65,65)"/>
<circle cx="539.9" cy="604.1" r="5.1" fill="rgb(65,65,65)"/>
<circle cx="651.6" cy="520.7" r="5.1" fill="rgb(65,65,65)"/>
<circle cx="474.7" cy="620.9" r="5.2" fill="rgb(65,65,65)"/>
<circle cx="653.1" cy="613.6" r="4.3" fill="rgb(66,66,66)"/>
<circle cx="596.2" cy="660.3" r="5.3" fill="rgb(66,66,66)"/>
<circle cx="488.3" cy="598.8" r="4.6" fill="rgb(66,66,66)"/>
<circle cx="535.4" cy="556.8" r="4.9" fill="rgb(66,66,66)"/>
<circle cx="577.9" cy="707.9" r="5.0" fill="rgb(66,66,66)"/>
<circle cx="475.2" cy="681.0" r="4.4" fill="rgb(67,67,67)"/>
<circle cx="574.7" cy="694.5" r="4.4" fill="rgb(67,67,67)"/>
<circle cx="443.4" cy="645.2" r="4.6" fill="rgb(68,68,68)"/>
<circle cx="459.1" cy="645.7" r="4.5" fill="rgb(68,68,68)"/>
<circle cx="544.7" cy="555.2" r="5.0" fill="rgb(68,68,68)"/>
<circle cx="654.2" cy="641.2" r="5.2" fill="rgb(69,69,69)"/>
<circle cx="504.3" cy="651.1" r="4.9" fill="rgb(69,69,69)"/>
<circle cx="556.0" cy="691.5" r="4.1" fill="rgb(70,70,70)"/>
<circle cx="518.0" cy="700.1" r="5.1" fill="rgb(70,70,70)"/>
<circle cx="512.9" cy="647.5" r="5.1" fill="rgb(70,70,70)"/>
<circle cx="486.9" cy="741.4" r="5.4" fill="rgb(71,71,71)"/>
<circle cx="608.8" cy="638.4" r="4.3" fill="rgb(72,72,72)"/>
<circle cx="486.1" cy="666.7" r="5.4" fill="rgb(73,73,73)"/>
<circle cx="441.9" cy="684.5" r="4.6" fill="rgb(73,73,73)"/>
<circle cx="654.3" cy="605.3" r="4.9" fill="rgb(73,73,73)"/>
<circle cx="632.5" cy="596.7" r="4.4" fill="rgb(73,73,73)"/>
<circle cx="573.5" cy="619.5" r="4.4" fill="rgb(73,73,73)"/>
<circle cx="553.5" cy="561.8" r="4.7" fill="rgb(74,74,74)"/>
<circle cx="546.5" cy="671.2" r="4.9" fill="rgb(74,74,74)"/>
<circle cx="479.2" cy="598.3" r="4.5" fill="rgb(74,74,74)"/>
<circle cx="582.1" cy="548.9" r="4.9" fill="rgb(75,75,75)"/>
<circle cx="478.8" cy="640.1" r="4.7" fill="rgb(75,75,75)"/>
<circle cx="618.9" cy="550.2" r="4.4" fill="rgb(75,75,75)"/>
<circle cx="465.0" cy="690.6" r="5.0" fill="rgb(75,75,75)"/>
<circle cx="575.7" cy="558.9" r="4.6" fill="rgb(76,76,76)"/>
<circle cx="625.2" cy="640.2" r="4.2" fill="rgb(76,76,76)"/>
<circle cx="499.4" cy="703.8" r="4.5" fill="rgb(77,77,77)"/>
<circle cx="486.8" cy="722.7" r="4.7" fill="rgb(77,77,77)"/>
<circle cx="573.4" cy="704.0" r="5.0" fill="rgb(77,77,77)"/>
<circle cx="600.5" cy="617.5" r="4.3" fill="rgb(78,78,78)"/>
<circle cx="638.3" cy="687.5" r="5.4" fill="rgb(78,78,78)"/>
<circle cx="590.5" cy="532.9" r="4.3" fill="rgb(78,78,78)"/>
<circle cx="599.0" cy="623.0" r="5.5" fill="rgb(79,79,79)"/>
<circle cx="637.3" cy="591.9" r="4.2" fill="rgb(79,79,79)"/>
<circle cx="537.7" cy="618.0" r="4.6" fill="rgb(80,80,80)"/>
<circle cx="528.0" cy="732.8" r="4.7" fill="rgb(80,80,80)"/>
<circle cx="530.3" cy="643.2" r="5.1" fill="rgb(80,80,80)"/>
<circle cx="547.0" cy="613.4" r="4.3" fill="rgb(81,81,81)"/>
<circle cx="458.1" cy="678.8" r="4.5" fill="rgb(82,82,82)"/>
<circle cx="578.2" cy="715.9" r="5.4" fill="rgb(82,82,82)"/>
<circle cx="433.1" cy="706.5" r="5.5" fill="rgb(83,83,83)"/>
<circle cx="582.0" cy="560.2" r="4.3" fill="rgb(83,83,83)"/>
<circle cx="607.7" cy="607.4" r="4.4" fill="rgb(83,83,83)"/>
<circle cx="536.5" cy="652.2" r="4.7" fill="rgb(83,83,83)"/>
<circle cx="563.8" cy="702.3" r="4.8" fill="rgb(83,83,83)"/>
<circle cx="618.1" cy="677.2" r="5.2" fill="rgb(84,84,84)"/>
<circle cx="534.9" cy="715.9" r="5.6" fill="rgb(84,84,84)"/>
<circle cx="501.1" cy="587.4" r="5.2" fill="rgb(84,84,84)"/>
<circle cx="433.8" cy="681.0" r="4.7" fill="rgb(84,84,84)"/>
<circle cx="475.1" cy="612.2" r="4.6" fill="rgb(84,84,84)"/>
<circle cx="585.1" cy="595.2" r="4.4" fill="rgb(85,85,85)"/>
<circle cx="491.0" cy="639.8" r="4.4" fill="rgb(85,85,85)"/>
<circle cx="495.1" cy="667.1" r="5.5" fill="rgb(86,86,86)"/>
<circle cx="522.1" cy="598.3" r="5.5" fill="rgb(86,86,86)"/>
<circle cx="486.3" cy="711.4" r="4.8" fill="rgb(87,87,87)"/>
<circle cx="616.7" cy="585.9" r="4.6" fill="rgb(87,87,87)"/>
<circle cx="582.6" cy="700.1" r="5.5" fill="rgb(87,87,87)"/>
<circle cx="594.2" cy="526.5" r="4.6" fill="rgb(87,87,87)"/>
<circle cx="440.3" cy="658.7" r="4.9" fill="rgb(87,87,87)"/>
<circle cx="496.0" cy="671.1" r="5.6" fill="rgb(87,87,87)"/>
<circle cx="598.7" cy="547.4" r="4.4" fill="rgb(88,88,88)"/>
<circle cx="556.3" cy="535.7" r="4.8" fill="rgb(88,88,88)"/>
<circle cx="480.7" cy="655.8" r="4.6" fill="rgb(89,89,89)"/>
<circle cx="476.9" cy="640.4" r="5.0" fill="rgb(89,89,89)"/>
<circle cx="519.0" cy="600.2" r="5.7" fill="rgb(90,90,90)"/>
<circle cx="564.2" cy="543.0" r="5.7" fill="rgb(90,90,90)"/>
<circle cx="568.8" cy="630.6" r="5.4" fill="rgb(90,90,90)"/>
<circle cx="553.5" cy="712.9" r="5.6" fill="rgb(90,90,90)"/>
<circle cx="580.6" cy="668.4" r="4.9" fill="rgb(90,90,90)"/>
<circle cx="573.4" cy="687.5" r="5.4" fill="rgb(91,91,91)"/>
<circle cx="560.3" cy="692.3" r="5.5" fill="rgb(94,94,94)"/>
<circle cx="473.9" cy="613.9" r="5.7" fill="rgb(94,94,94)"/>
<circle cx="528.3" cy="669.0" r="5.0" fill="rgb(94,94,94)"/>
<circle cx="532.1" cy="739.4" r="5.6" fill="rgb(94,94,94)"/>
<circle cx="528.6" cy="566.8" r="4.7" fill="rgb(95,95,95)"/>
<circle cx="578.2" cy="711.2" r="5.3" fill="rgb(95,95,95)"/>
<circle cx="458.2" cy="622.2" r="5.8" fill="rgb(95,95,95)"/>
<circle cx="560.3" cy="684.3" r="5.5" fill="rgb(97,97,97)"/>
<circle cx="534.0" cy="646.2" r="5.5" fill="rgb(97,97,97)"/>
<circle cx="570.5" cy="598.0" r="4.7" fill="rgb(97,97,97)"/>
<circle cx="515.2" cy="612.9" r="5.0" fill="rgb(97,97,97)"/>
<circle cx="440.7" cy="696.4" r="5.3" fill="rgb(97,97,97)"/>
<circle cx="519.8" cy="687.6" r="5.6" fill="rgb(97,97,97)"/>
<circle cx="556.8" cy="581.1" r="4.8" fill="rgb(97,97,97)"/>
<circle cx="457.6" cy="710.1" r="5.3" fill="rgb(98,98,98)"/>
<circle cx="484.5" cy="632.4" r="5.5" fill="rgb(98,98,98)"/>
<circle cx="516.2" cy="604.8" r="5.5" fill="rgb(98,98,98)"/>
<circle cx="466.9" cy="623.7" r="4.9" fill="rgb(99,99,99)"/>
<circle cx="571.6" cy="711.0" r="4.7" fill="rgb(99,99,99)"/>
<circle cx="582.6" cy="689.9" r="5.0" fill="rgb(99,99,99)"/>
<circle cx="548.1" cy="661.5" r="4.8" fill="rgb(100,100,100)"/>
<circle cx="559.3" cy="578.9" r="5.3" fill="rgb(101,101,101)"/>
<circle cx="543.7" cy="677.9" r="5.3" fill="rgb(101,101,101)"/>
<circle cx="488.3" cy="658.5" r="4.6" fill="rgb(102,102,102)"/>
<circle cx="549.0" cy="547.9" r="5.9" fill="rgb(102,102,102)"/>
<circle cx="469.5" cy="625.0" r="5.9" fill="rgb(103,103,103)"/>
<circle cx="521.0" cy="580.3" r="4.9" fill="rgb(104,104,104)"/>
<circle cx="525.9" cy="593.6" r="5.0" fill="rgb(104,104,104)"/>
<circle cx="459.7" cy="650.7" r="6.0" fill="rgb(105,105,105)"/>
<circle cx="435.3" cy="674.9" r="4.7" fill="rgb(105,105,105)"/>
<circle cx="442.4" cy="690.1" r="4.9" fill="rgb(107,107,107)"/>
<circle cx="505.7" cy="595.4" r="5.2" fill="rgb(108,108,108)"/>
</g>
<g filter="url(#bl6)" style="mix-blend-mode:screen">
<circle cx="608.2" cy="654.8" r="4.7" fill="rgb(95,95,95)"/>
<circle cx="504.9" cy="720.0" r="3.9" fill="rgb(95,95,95)"/>
<circle cx="651.6" cy="565.1" r="4.4" fill="rgb(95,95,95)"/>
<circle cx="657.1" cy="532.5" r="4.8" fill="rgb(107,107,107)"/>
<circle cx="670.7" cy="633.0" r="4.7" fill="rgb(107,107,107)"/>
<circle cx="657.1" cy="682.0" r="4.5" fill="rgb(107,107,107)"/>
<circle cx="485.9" cy="638.5" r="4.7" fill="rgb(107,107,107)"/>
<circle cx="526.6" cy="565.1" r="4.8" fill="rgb(107,107,107)"/>
<circle cx="586.4" cy="551.5" r="4.5" fill="rgb(107,107,107)"/>
<circle cx="627.2" cy="627.6" r="4.3" fill="rgb(107,107,107)"/>
<circle cx="597.3" cy="595.0" r="4.7" fill="rgb(107,107,107)"/>
<circle cx="619.0" cy="671.1" r="4.9" fill="rgb(107,107,107)"/>
<circle cx="469.6" cy="709.1" r="4.2" fill="rgb(107,107,107)"/>
<circle cx="575.5" cy="638.5" r="4.7" fill="rgb(107,107,107)"/>
<circle cx="559.2" cy="532.5" r="4.5" fill="rgb(107,107,107)"/>
<circle cx="515.8" cy="699.6" r="4.4" fill="rgb(120,120,120)"/>
<circle cx="602.7" cy="537.9" r="4.6" fill="rgb(120,120,120)"/>
<circle cx="547.0" cy="695.5" r="4.3" fill="rgb(120,120,120)"/>
<circle cx="598.6" cy="737.7" r="5.1" fill="rgb(120,120,120)"/>
<circle cx="504.9" cy="654.8" r="4.8" fill="rgb(120,120,120)"/>
<circle cx="619.0" cy="551.5" r="4.7" fill="rgb(120,120,120)"/>
<circle cx="488.6" cy="667.0" r="5.3" fill="rgb(132,132,132)"/>
<circle cx="529.4" cy="672.4" r="5.2" fill="rgb(132,132,132)"/>
<circle cx="703.3" cy="574.6" r="4.8" fill="rgb(132,132,132)"/>
<circle cx="640.8" cy="649.3" r="4.5" fill="rgb(132,132,132)"/>
<circle cx="613.6" cy="521.6" r="5.0" fill="rgb(132,132,132)"/>
<circle cx="572.8" cy="690.1" r="4.7" fill="rgb(132,132,132)"/>
<circle cx="466.9" cy="747.2" r="5.0" fill="rgb(132,132,132)"/>
<circle cx="470.9" cy="672.4" r="4.7" fill="rgb(145,145,145)"/>
<circle cx="461.4" cy="614.0" r="5.4" fill="rgb(145,145,145)"/>
<circle cx="458.7" cy="630.3" r="5.5" fill="rgb(145,145,145)"/>
<circle cx="564.7" cy="565.1" r="5.0" fill="rgb(157,157,157)"/>
<circle cx="628.5" cy="603.2" r="5.6" fill="rgb(157,157,157)"/>
<circle cx="496.7" cy="684.7" r="4.9" fill="rgb(157,157,157)"/>
<circle cx="548.4" cy="627.6" r="4.9" fill="rgb(157,157,157)"/>
<circle cx="545.7" cy="638.5" r="5.5" fill="rgb(170,170,170)"/>
<circle cx="469.6" cy="573.3" r="5.2" fill="rgb(170,170,170)"/>
<circle cx="559.2" cy="589.6" r="5.5" fill="rgb(182,182,182)"/>
<circle cx="466.9" cy="584.1" r="5.7" fill="rgb(195,195,195)"/>
<circle cx="460.1" cy="646.6" r="6.3" fill="rgb(207,207,207)"/>
<circle cx="446.5" cy="646.6" r="6.6" fill="rgb(232,232,232)"/>
<circle cx="517.1" cy="593.6" r="7.1" fill="rgb(255,255,255)"/>
</g>
</g>
<text x="0" y="0" transform="translate(407.00,508.50) rotate(0) scale(1,1.045)" font-size="31" text-anchor="start" font-weight="bold" fill="#fff" ><tspan font-style="normal">OE-</tspan><tspan font-style="italic">PITPNA</tspan></text>
<clipPath id="clip3"><rect x="790" y="470" width="353.7" height="352.8"/></clipPath>
<g clip-path="url(#clip3)">
<rect x="790.00" y="470.00" width="353.70" height="352.80" fill="#000" stroke="none" stroke-width="0" />
<filter id="nz3" x="0" y="0" width="100%" height="100%" filterUnits="userSpaceOnUse" color-interpolation-filters="sRGB"><feTurbulence type="fractalNoise" baseFrequency="0.11" numOctaves="2" seed="13"/><feColorMatrix type="matrix" values="0.9 0 0 0 -0.32 0.9 0 0 0 -0.32 0.9 0 0 0 -0.32 0 0 0 0 1"/></filter>
<mask id="mk3" maskUnits="userSpaceOnUse" x="790" y="470" width="353.7" height="352.8">
<radialGradient id="mg3_0"><stop offset="0" stop-color="#fff" stop-opacity="1.0"/><stop offset="0.6" stop-color="#fff" stop-opacity="0.850"/><stop offset="1" stop-color="#fff" stop-opacity="0"/></radialGradient>
<ellipse cx="985.7" cy="578.7" rx="116.8" ry="108.7" fill="url(#mg3_0)" transform="rotate(0 985.7 578.7)"/>
<radialGradient id="mg3_1"><stop offset="0" stop-color="#fff" stop-opacity="0.6"/><stop offset="0.6" stop-color="#fff" stop-opacity="0.510"/><stop offset="1" stop-color="#fff" stop-opacity="0"/></radialGradient>
<ellipse cx="980.2" cy="559.7" rx="89.7" ry="70.7" fill="url(#mg3_1)" transform="rotate(0 980.2 559.7)"/>
<radialGradient id="mg3_2"><stop offset="0" stop-color="#fff" stop-opacity="0.55"/><stop offset="0.6" stop-color="#fff" stop-opacity="0.468"/><stop offset="1" stop-color="#fff" stop-opacity="0"/></radialGradient>
<ellipse cx="953.0" cy="676.5" rx="103.3" ry="89.7" fill="url(#mg3_2)" transform="rotate(0 953.0 676.5)"/>
<radialGradient id="mg3_3"><stop offset="0" stop-color="#fff" stop-opacity="0.35"/><stop offset="0.6" stop-color="#fff" stop-opacity="0.297"/><stop offset="1" stop-color="#fff" stop-opacity="0"/></radialGradient>
<ellipse cx="915.0" cy="752.6" rx="59.8" ry="67.9" fill="url(#mg3_3)" transform="rotate(0 915.0 752.6)"/>
</mask>
<g mask="url(#mk3)"><rect x="790" y="470" width="353.7" height="352.8" filter="url(#nz3)"/></g>
<g filter="url(#bl5)" style="mix-blend-mode:screen">
<circle cx="919.5" cy="764.8" r="4.8" fill="rgb(40,40,40)"/>
<circle cx="1008.0" cy="708.7" r="3.8" fill="rgb(40,40,40)"/>
<circle cx="917.1" cy="776.1" r="4.2" fill="rgb(41,41,41)"/>
<circle cx="893.5" cy="677.3" r="3.8" fill="rgb(41,41,41)"/>
<circle cx="986.5" cy="661.9" r="4.6" fill="rgb(42,42,42)"/>
<circle cx="942.3" cy="670.5" r="4.7" fill="rgb(43,43,43)"/>
<circle cx="971.0" cy="649.6" r="4.9" fill="rgb(44,44,44)"/>
<circle cx="894.1" cy="667.9" r="4.2" fill="rgb(44,44,44)"/>
<circle cx="1041.2" cy="672.0" r="4.6" fill="rgb(45,45,45)"/>
<circle cx="947.7" cy="714.2" r="3.7" fill="rgb(47,47,47)"/>
<circle cx="949.4" cy="735.4" r="4.0" fill="rgb(47,47,47)"/>
<circle cx="893.9" cy="748.4" r="4.3" fill="rgb(47,47,47)"/>
<circle cx="917.1" cy="799.6" r="4.4" fill="rgb(49,49,49)"/>
<circle cx="985.8" cy="734.4" r="4.4" fill="rgb(49,49,49)"/>
<circle cx="887.0" cy="801.3" r="4.5" fill="rgb(50,50,50)"/>
<circle cx="989.2" cy="619.4" r="4.5" fill="rgb(51,51,51)"/>
<circle cx="995.7" cy="661.3" r="4.6" fill="rgb(51,51,51)"/>
<circle cx="916.4" cy="690.6" r="3.8" fill="rgb(52,52,52)"/>
<circle cx="994.2" cy="605.7" r="4.8" fill="rgb(52,52,52)"/>
<circle cx="1045.0" cy="651.0" r="3.8" fill="rgb(52,52,52)"/>
<circle cx="905.9" cy="653.3" r="3.7" fill="rgb(52,52,52)"/>
<circle cx="1015.8" cy="597.6" r="4.6" fill="rgb(52,52,52)"/>
<circle cx="1012.1" cy="694.8" r="3.7" fill="rgb(52,52,52)"/>
<circle cx="989.2" cy="552.1" r="4.8" fill="rgb(53,53,53)"/>
<circle cx="977.0" cy="514.6" r="4.3" fill="rgb(53,53,53)"/>
<circle cx="942.2" cy="722.4" r="4.5" fill="rgb(54,54,54)"/>
<circle cx="928.2" cy="676.8" r="5.0" fill="rgb(54,54,54)"/>
<circle cx="1034.0" cy="639.4" r="4.7" fill="rgb(54,54,54)"/>
<circle cx="988.5" cy="585.4" r="4.8" fill="rgb(55,55,55)"/>
<circle cx="1031.5" cy="602.6" r="4.1" fill="rgb(55,55,55)"/>
<circle cx="1049.1" cy="667.2" r="4.4" fill="rgb(55,55,55)"/>
<circle cx="981.3" cy="622.5" r="4.3" fill="rgb(55,55,55)"/>
<circle cx="966.0" cy="713.9" r="4.1" fill="rgb(56,56,56)"/>
<circle cx="945.3" cy="591.2" r="4.4" fill="rgb(56,56,56)"/>
<circle cx="972.0" cy="542.9" r="4.3" fill="rgb(57,57,57)"/>
<circle cx="960.3" cy="719.4" r="4.3" fill="rgb(57,57,57)"/>
<circle cx="947.8" cy="508.9" r="3.8" fill="rgb(57,57,57)"/>
<circle cx="955.9" cy="715.9" r="4.5" fill="rgb(57,57,57)"/>
<circle cx="974.2" cy="520.5" r="4.3" fill="rgb(57,57,57)"/>
<circle cx="1048.3" cy="555.4" r="4.2" fill="rgb(57,57,57)"/>
<circle cx="889.0" cy="692.5" r="5.0" fill="rgb(58,58,58)"/>
<circle cx="964.9" cy="613.6" r="4.8" fill="rgb(58,58,58)"/>
<circle cx="964.5" cy="683.3" r="4.2" fill="rgb(58,58,58)"/>
<circle cx="1069.2" cy="543.8" r="5.0" fill="rgb(58,58,58)"/>
<circle cx="1025.7" cy="678.7" r="5.0" fill="rgb(59,59,59)"/>
<circle cx="1021.1" cy="664.0" r="3.9" fill="rgb(60,60,60)"/>
<circle cx="1054.5" cy="665.5" r="4.0" fill="rgb(60,60,60)"/>
<circle cx="954.5" cy="591.7" r="4.0" fill="rgb(60,60,60)"/>
<circle cx="954.8" cy="674.4" r="5.1" fill="rgb(60,60,60)"/>
<circle cx="1003.9" cy="609.8" r="4.9" fill="rgb(60,60,60)"/>
<circle cx="889.2" cy="728.8" r="4.6" fill="rgb(61,61,61)"/>
<circle cx="1034.5" cy="565.8" r="4.8" fill="rgb(61,61,61)"/>
<circle cx="936.5" cy="662.6" r="5.3" fill="rgb(62,62,62)"/>
<circle cx="973.9" cy="556.1" r="4.6" fill="rgb(62,62,62)"/>
<circle cx="997.2" cy="643.4" r="3.9" fill="rgb(62,62,62)"/>
<circle cx="1040.3" cy="526.4" r="4.2" fill="rgb(62,62,62)"/>
<circle cx="924.4" cy="722.0" r="4.2" fill="rgb(62,62,62)"/>
<circle cx="926.6" cy="545.0" r="4.8" fill="rgb(63,63,63)"/>
<circle cx="1005.2" cy="566.8" r="4.3" fill="rgb(63,63,63)"/>
<circle cx="933.3" cy="547.1" r="4.8" fill="rgb(64,64,64)"/>
<circle cx="936.2" cy="750.3" r="4.0" fill="rgb(64,64,64)"/>
<circle cx="919.7" cy="759.8" r="5.0" fill="rgb(64,64,64)"/>
<circle cx="996.7" cy="721.1" r="4.1" fill="rgb(64,64,64)"/>
<circle cx="1029.1" cy="626.6" r="4.2" fill="rgb(65,65,65)"/>
<circle cx="1056.0" cy="581.1" r="5.0" fill="rgb(65,65,65)"/>
<circle cx="937.6" cy="561.5" r="4.0" fill="rgb(66,66,66)"/>
<circle cx="937.4" cy="539.7" r="4.1" fill="rgb(66,66,66)"/>
<circle cx="995.2" cy="678.9" r="4.8" fill="rgb(66,66,66)"/>
<circle cx="892.8" cy="684.0" r="5.2" fill="rgb(67,67,67)"/>
<circle cx="907.2" cy="733.2" r="4.0" fill="rgb(67,67,67)"/>
<circle cx="971.2" cy="721.1" r="4.2" fill="rgb(67,67,67)"/>
<circle cx="1022.4" cy="653.0" r="4.8" fill="rgb(68,68,68)"/>
<circle cx="946.8" cy="651.3" r="4.4" fill="rgb(68,68,68)"/>
<circle cx="971.1" cy="598.6" r="5.1" fill="rgb(68,68,68)"/>
<circle cx="985.2" cy="499.5" r="4.4" fill="rgb(68,68,68)"/>
<circle cx="950.6" cy="536.1" r="4.4" fill="rgb(68,68,68)"/>
<circle cx="896.4" cy="641.3" r="4.9" fill="rgb(69,69,69)"/>
<circle cx="1058.4" cy="590.1" r="4.0" fill="rgb(69,69,69)"/>
<circle cx="922.2" cy="708.5" r="5.3" fill="rgb(69,69,69)"/>
<circle cx="939.4" cy="686.0" r="4.3" fill="rgb(69,69,69)"/>
<circle cx="891.6" cy="666.2" r="5.1" fill="rgb(70,70,70)"/>
<circle cx="963.4" cy="553.2" r="5.2" fill="rgb(70,70,70)"/>
<circle cx="999.1" cy="676.9" r="5.2" fill="rgb(71,71,71)"/>
<circle cx="984.7" cy="577.8" r="4.9" fill="rgb(71,71,71)"/>
<circle cx="986.1" cy="536.6" r="4.2" fill="rgb(71,71,71)"/>
<circle cx="1038.8" cy="673.3" r="4.6" fill="rgb(71,71,71)"/>
<circle cx="997.7" cy="595.6" r="4.3" fill="rgb(71,71,71)"/>
<circle cx="940.7" cy="618.9" r="5.0" fill="rgb(71,71,71)"/>
<circle cx="956.9" cy="711.3" r="4.1" fill="rgb(72,72,72)"/>
<circle cx="967.8" cy="608.0" r="4.3" fill="rgb(72,72,72)"/>
<circle cx="1044.5" cy="550.1" r="5.0" fill="rgb(72,72,72)"/>
<circle cx="943.0" cy="733.6" r="4.9" fill="rgb(73,73,73)"/>
<circle cx="1059.1" cy="641.0" r="5.3" fill="rgb(73,73,73)"/>
<circle cx="884.6" cy="747.2" r="5.2" fill="rgb(73,73,73)"/>
<circle cx="936.6" cy="581.9" r="5.3" fill="rgb(74,74,74)"/>
<circle cx="894.8" cy="700.1" r="4.8" fill="rgb(74,74,74)"/>
<circle cx="917.8" cy="785.4" r="4.7" fill="rgb(74,74,74)"/>
<circle cx="953.9" cy="546.9" r="5.3" fill="rgb(74,74,74)"/>
<circle cx="951.9" cy="620.8" r="4.3" fill="rgb(74,74,74)"/>
<circle cx="959.5" cy="683.0" r="4.2" fill="rgb(75,75,75)"/>
<circle cx="985.9" cy="587.6" r="4.5" fill="rgb(75,75,75)"/>
<circle cx="1067.3" cy="627.7" r="5.4" fill="rgb(76,76,76)"/>
<circle cx="1047.1" cy="590.6" r="4.7" fill="rgb(76,76,76)"/>
<circle cx="936.1" cy="533.0" r="4.5" fill="rgb(76,76,76)"/>
<circle cx="924.6" cy="757.8" r="4.4" fill="rgb(77,77,77)"/>
<circle cx="959.1" cy="697.0" r="5.2" fill="rgb(77,77,77)"/>
<circle cx="1031.6" cy="677.9" r="4.5" fill="rgb(77,77,77)"/>
<circle cx="1008.4" cy="556.8" r="4.4" fill="rgb(77,77,77)"/>
<circle cx="988.5" cy="646.5" r="5.2" fill="rgb(78,78,78)"/>
<circle cx="996.5" cy="581.4" r="5.2" fill="rgb(78,78,78)"/>
<circle cx="1016.7" cy="685.5" r="4.6" fill="rgb(78,78,78)"/>
<circle cx="1018.8" cy="629.5" r="5.3" fill="rgb(78,78,78)"/>
<circle cx="1014.0" cy="521.7" r="5.1" fill="rgb(79,79,79)"/>
<circle cx="1046.5" cy="555.2" r="4.8" fill="rgb(79,79,79)"/>
<circle cx="1023.5" cy="508.9" r="5.5" fill="rgb(79,79,79)"/>
<circle cx="946.5" cy="681.9" r="5.1" fill="rgb(79,79,79)"/>
<circle cx="1040.8" cy="552.4" r="4.3" fill="rgb(80,80,80)"/>
<circle cx="1074.3" cy="597.1" r="4.2" fill="rgb(80,80,80)"/>
<circle cx="999.4" cy="574.0" r="5.2" fill="rgb(80,80,80)"/>
<circle cx="922.3" cy="571.5" r="5.1" fill="rgb(80,80,80)"/>
<circle cx="904.0" cy="785.4" r="4.4" fill="rgb(81,81,81)"/>
<circle cx="894.3" cy="666.0" r="5.4" fill="rgb(81,81,81)"/>
<circle cx="1002.4" cy="524.7" r="4.4" fill="rgb(81,81,81)"/>
<circle cx="889.5" cy="674.5" r="4.4" fill="rgb(81,81,81)"/>
<circle cx="962.0" cy="736.7" r="4.6" fill="rgb(82,82,82)"/>
<circle cx="998.9" cy="617.7" r="5.1" fill="rgb(83,83,83)"/>
<circle cx="939.0" cy="610.8" r="5.2" fill="rgb(83,83,83)"/>
<circle cx="890.7" cy="787.4" r="5.6" fill="rgb(83,83,83)"/>
<circle cx="898.4" cy="675.4" r="4.6" fill="rgb(83,83,83)"/>
<circle cx="952.7" cy="758.5" r="4.3" fill="rgb(83,83,83)"/>
<circle cx="1086.5" cy="596.7" r="4.5" fill="rgb(83,83,83)"/>
<circle cx="1016.3" cy="587.8" r="4.5" fill="rgb(84,84,84)"/>
<circle cx="979.6" cy="538.5" r="5.5" fill="rgb(84,84,84)"/>
<circle cx="1080.4" cy="637.8" r="4.8" fill="rgb(84,84,84)"/>
<circle cx="961.0" cy="757.5" r="4.9" fill="rgb(85,85,85)"/>
<circle cx="1058.2" cy="640.3" r="5.0" fill="rgb(85,85,85)"/>
<circle cx="942.5" cy="765.9" r="5.6" fill="rgb(85,85,85)"/>
<circle cx="949.1" cy="623.9" r="4.4" fill="rgb(86,86,86)"/>
<circle cx="1056.1" cy="588.4" r="4.8" fill="rgb(86,86,86)"/>
<circle cx="914.7" cy="763.2" r="4.6" fill="rgb(86,86,86)"/>
<circle cx="945.6" cy="672.5" r="4.6" fill="rgb(86,86,86)"/>
<circle cx="888.1" cy="694.1" r="5.6" fill="rgb(87,87,87)"/>
<circle cx="952.5" cy="700.0" r="4.5" fill="rgb(87,87,87)"/>
<circle cx="944.6" cy="748.2" r="4.8" fill="rgb(87,87,87)"/>
<circle cx="1015.8" cy="526.4" r="5.6" fill="rgb(88,88,88)"/>
<circle cx="954.2" cy="594.1" r="5.6" fill="rgb(88,88,88)"/>
<circle cx="1030.4" cy="533.3" r="5.3" fill="rgb(88,88,88)"/>
<circle cx="946.9" cy="663.6" r="4.9" fill="rgb(88,88,88)"/>
<circle cx="1066.0" cy="576.8" r="5.0" fill="rgb(88,88,88)"/>
<circle cx="932.9" cy="653.1" r="5.3" fill="rgb(88,88,88)"/>
<circle cx="1079.1" cy="628.1" r="5.7" fill="rgb(88,88,88)"/>
<circle cx="1053.0" cy="524.3" r="5.6" fill="rgb(88,88,88)"/>
<circle cx="1058.3" cy="573.4" r="5.2" fill="rgb(89,89,89)"/>
<circle cx="1045.8" cy="588.3" r="5.7" fill="rgb(89,89,89)"/>
<circle cx="1069.0" cy="590.2" r="4.9" fill="rgb(89,89,89)"/>
<circle cx="1078.2" cy="638.3" r="5.0" fill="rgb(89,89,89)"/>
<circle cx="941.8" cy="598.7" r="5.6" fill="rgb(89,89,89)"/>
<circle cx="929.8" cy="671.6" r="5.6" fill="rgb(89,89,89)"/>
<circle cx="970.6" cy="704.9" r="5.5" fill="rgb(90,90,90)"/>
<circle cx="1094.6" cy="628.6" r="5.2" fill="rgb(90,90,90)"/>
<circle cx="1059.9" cy="650.9" r="4.4" fill="rgb(90,90,90)"/>
<circle cx="969.8" cy="591.3" r="5.1" fill="rgb(90,90,90)"/>
<circle cx="939.3" cy="555.2" r="5.4" fill="rgb(90,90,90)"/>
<circle cx="1042.3" cy="555.4" r="5.0" fill="rgb(90,90,90)"/>
<circle cx="968.9" cy="727.4" r="5.2" fill="rgb(91,91,91)"/>
<circle cx="1045.6" cy="677.3" r="5.5" fill="rgb(92,92,92)"/>
<circle cx="991.2" cy="561.2" r="4.8" fill="rgb(92,92,92)"/>
<circle cx="913.7" cy="696.5" r="5.1" fill="rgb(92,92,92)"/>
<circle cx="925.9" cy="593.2" r="5.6" fill="rgb(92,92,92)"/>
<circle cx="932.3" cy="753.6" r="5.8" fill="rgb(95,95,95)"/>
<circle cx="929.8" cy="691.5" r="5.7" fill="rgb(96,96,96)"/>
<circle cx="907.0" cy="762.0" r="4.5" fill="rgb(96,96,96)"/>
<circle cx="918.0" cy="735.5" r="5.3" fill="rgb(96,96,96)"/>
<circle cx="1034.3" cy="533.0" r="5.4" fill="rgb(96,96,96)"/>
<circle cx="945.6" cy="659.5" r="5.6" fill="rgb(96,96,96)"/>
<circle cx="1035.9" cy="612.6" r="5.7" fill="rgb(96,96,96)"/>
<circle cx="986.2" cy="626.7" r="5.2" fill="rgb(97,97,97)"/>
<circle cx="944.4" cy="512.7" r="5.1" fill="rgb(97,97,97)"/>
<circle cx="999.9" cy="559.3" r="4.6" fill="rgb(97,97,97)"/>
<circle cx="983.4" cy="529.3" r="5.7" fill="rgb(97,97,97)"/>
<circle cx="930.9" cy="537.0" r="5.5" fill="rgb(97,97,97)"/>
<circle cx="1051.1" cy="610.9" r="5.7" fill="rgb(98,98,98)"/>
<circle cx="929.9" cy="642.8" r="5.0" fill="rgb(98,98,98)"/>
<circle cx="1033.8" cy="655.1" r="4.9" fill="rgb(98,98,98)"/>
<circle cx="1027.1" cy="590.6" r="5.0" fill="rgb(99,99,99)"/>
<circle cx="973.3" cy="654.0" r="5.5" fill="rgb(99,99,99)"/>
<circle cx="1004.8" cy="556.1" r="4.9" fill="rgb(99,99,99)"/>
<circle cx="1049.3" cy="516.0" r="4.5" fill="rgb(99,99,99)"/>
<circle cx="986.5" cy="639.4" r="5.1" fill="rgb(99,99,99)"/>
<circle cx="1062.0" cy="643.7" r="5.0" fill="rgb(101,101,101)"/>
<circle cx="1067.3" cy="544.0" r="5.4" fill="rgb(101,101,101)"/>
<circle cx="903.6" cy="769.7" r="5.3" fill="rgb(101,101,101)"/>
<circle cx="915.5" cy="607.4" r="6.0" fill="rgb(102,102,102)"/>
<circle cx="895.1" cy="638.6" r="4.8" fill="rgb(102,102,102)"/>
<circle cx="927.9" cy="768.4" r="5.9" fill="rgb(102,102,102)"/>
<circle cx="948.2" cy="615.0" r="6.0" fill="rgb(102,102,102)"/>
<circle cx="1034.0" cy="613.9" r="5.5" fill="rgb(103,103,103)"/>
<circle cx="939.9" cy="689.8" r="5.3" fill="rgb(103,103,103)"/>
<circle cx="965.5" cy="654.2" r="5.0" fill="rgb(103,103,103)"/>
<circle cx="958.2" cy="537.4" r="5.9" fill="rgb(103,103,103)"/>
<circle cx="1011.0" cy="595.6" r="5.3" fill="rgb(104,104,104)"/>
<circle cx="992.7" cy="496.3" r="5.9" fill="rgb(104,104,104)"/>
<circle cx="939.8" cy="754.8" r="5.5" fill="rgb(104,104,104)"/>
<circle cx="895.6" cy="675.2" r="4.8" fill="rgb(104,104,104)"/>
<circle cx="1049.2" cy="547.7" r="5.3" fill="rgb(105,105,105)"/>
<circle cx="939.7" cy="699.4" r="5.1" fill="rgb(105,105,105)"/>
<circle cx="924.2" cy="742.8" r="5.2" fill="rgb(105,105,105)"/>
<circle cx="967.4" cy="734.1" r="4.8" fill="rgb(106,106,106)"/>
<circle cx="901.1" cy="655.1" r="5.3" fill="rgb(106,106,106)"/>
<circle cx="922.0" cy="719.0" r="5.1" fill="rgb(106,106,106)"/>
<circle cx="961.6" cy="746.3" r="5.0" fill="rgb(106,106,106)"/>
<circle cx="1006.2" cy="701.2" r="5.8" fill="rgb(107,107,107)"/>
<circle cx="990.0" cy="679.9" r="5.1" fill="rgb(107,107,107)"/>
<circle cx="895.2" cy="670.4" r="5.3" fill="rgb(107,107,107)"/>
<circle cx="1008.7" cy="704.7" r="4.9" fill="rgb(108,108,108)"/>
<circle cx="901.6" cy="700.5" r="4.9" fill="rgb(108,108,108)"/>
<circle cx="959.5" cy="648.9" r="6.0" fill="rgb(108,108,108)"/>
<circle cx="927.4" cy="780.3" r="4.8" fill="rgb(109,109,109)"/>
<circle cx="909.5" cy="707.5" r="5.5" fill="rgb(109,109,109)"/>
<circle cx="946.1" cy="576.4" r="4.9" fill="rgb(109,109,109)"/>
<circle cx="907.3" cy="778.1" r="5.5" fill="rgb(109,109,109)"/>
<circle cx="911.0" cy="705.6" r="5.8" fill="rgb(110,110,110)"/>
<circle cx="978.0" cy="635.2" r="5.5" fill="rgb(110,110,110)"/>
<circle cx="989.0" cy="692.5" r="5.7" fill="rgb(111,111,111)"/>
<circle cx="936.6" cy="652.5" r="5.5" fill="rgb(111,111,111)"/>
<circle cx="997.4" cy="650.4" r="6.1" fill="rgb(111,111,111)"/>
<circle cx="957.8" cy="657.3" r="5.4" fill="rgb(112,112,112)"/>
<circle cx="961.5" cy="543.7" r="5.1" fill="rgb(112,112,112)"/>
<circle cx="1070.3" cy="611.8" r="5.2" fill="rgb(112,112,112)"/>
<circle cx="990.2" cy="726.2" r="6.0" fill="rgb(112,112,112)"/>
<circle cx="931.3" cy="675.6" r="5.8" fill="rgb(112,112,112)"/>
<circle cx="1024.4" cy="573.9" r="5.8" fill="rgb(112,112,112)"/>
<circle cx="972.5" cy="637.5" r="5.7" fill="rgb(112,112,112)"/>
<circle cx="890.5" cy="766.0" r="5.7" fill="rgb(113,113,113)"/>
<circle cx="946.3" cy="553.1" r="5.2" fill="rgb(113,113,113)"/>
<circle cx="959.6" cy="544.2" r="6.0" fill="rgb(113,113,113)"/>
<circle cx="913.7" cy="678.1" r="5.9" fill="rgb(113,113,113)"/>
<circle cx="1007.6" cy="624.7" r="5.7" fill="rgb(113,113,113)"/>
<circle cx="1052.4" cy="518.4" r="6.1" fill="rgb(114,114,114)"/>
<circle cx="969.9" cy="530.9" r="5.8" fill="rgb(114,114,114)"/>
<circle cx="1050.8" cy="561.3" r="5.0" fill="rgb(114,114,114)"/>
<circle cx="908.1" cy="615.7" r="6.1" fill="rgb(114,114,114)"/>
<circle cx="893.5" cy="665.6" r="5.7" fill="rgb(115,115,115)"/>
<circle cx="989.7" cy="574.1" r="6.0" fill="rgb(115,115,115)"/>
<circle cx="1042.4" cy="634.8" r="5.5" fill="rgb(117,117,117)"/>
<circle cx="1078.2" cy="563.3" r="4.9" fill="rgb(117,117,117)"/>
<circle cx="955.2" cy="511.1" r="5.3" fill="rgb(117,117,117)"/>
<circle cx="1037.2" cy="531.0" r="5.7" fill="rgb(118,118,118)"/>
<circle cx="1037.0" cy="627.7" r="5.0" fill="rgb(118,118,118)"/>
<circle cx="1026.8" cy="609.8" r="4.9" fill="rgb(118,118,118)"/>
<circle cx="1062.1" cy="590.5" r="6.2" fill="rgb(118,118,118)"/>
<circle cx="982.7" cy="543.7" r="5.3" fill="rgb(120,120,120)"/>
<circle cx="1071.4" cy="544.3" r="5.8" fill="rgb(120,120,120)"/>
<circle cx="1042.9" cy="572.6" r="5.2" fill="rgb(121,121,121)"/>
<circle cx="946.3" cy="599.1" r="5.2" fill="rgb(122,122,122)"/>
<circle cx="1023.0" cy="564.2" r="6.0" fill="rgb(123,123,123)"/>
<circle cx="916.4" cy="621.4" r="5.3" fill="rgb(123,123,123)"/>
<circle cx="1071.1" cy="594.6" r="5.7" fill="rgb(123,123,123)"/>
<circle cx="993.8" cy="631.9" r="5.6" fill="rgb(125,125,125)"/>
<circle cx="921.3" cy="591.9" r="5.4" fill="rgb(125,125,125)"/>
<circle cx="979.0" cy="515.7" r="6.1" fill="rgb(126,126,126)"/>
<circle cx="997.2" cy="567.4" r="6.4" fill="rgb(126,126,126)"/>
<circle cx="1032.7" cy="570.7" r="5.8" fill="rgb(126,126,126)"/>
<circle cx="959.0" cy="616.4" r="5.5" fill="rgb(127,127,127)"/>
<circle cx="941.4" cy="562.0" r="5.1" fill="rgb(128,128,128)"/>
<circle cx="911.6" cy="626.5" r="6.1" fill="rgb(129,129,129)"/>
<circle cx="1051.5" cy="632.1" r="6.3" fill="rgb(130,130,130)"/>
<circle cx="1029.3" cy="538.6" r="6.4" fill="rgb(130,130,130)"/>
<circle cx="1020.3" cy="526.8" r="5.1" fill="rgb(131,131,131)"/>
<circle cx="943.7" cy="518.4" r="6.1" fill="rgb(131,131,131)"/>
<circle cx="1027.8" cy="557.8" r="5.3" fill="rgb(132,132,132)"/>
<circle cx="964.4" cy="504.4" r="5.5" fill="rgb(132,132,132)"/>
<circle cx="920.4" cy="628.6" r="6.2" fill="rgb(132,132,132)"/>
<circle cx="1006.2" cy="612.0" r="6.2" fill="rgb(132,132,132)"/>
<circle cx="998.0" cy="578.5" r="5.4" fill="rgb(133,133,133)"/>
<circle cx="1050.4" cy="591.8" r="6.0" fill="rgb(134,134,134)"/>
<circle cx="1063.9" cy="629.0" r="5.9" fill="rgb(134,134,134)"/>
<circle cx="987.8" cy="631.7" r="5.6" fill="rgb(135,135,135)"/>
<circle cx="943.5" cy="646.2" r="6.4" fill="rgb(135,135,135)"/>
<circle cx="928.8" cy="588.9" r="6.2" fill="rgb(135,135,135)"/>
<circle cx="1052.6" cy="621.8" r="5.3" fill="rgb(136,136,136)"/>
<circle cx="1010.9" cy="569.2" r="5.2" fill="rgb(136,136,136)"/>
<circle cx="963.2" cy="620.5" r="6.0" fill="rgb(138,138,138)"/>
<circle cx="971.0" cy="595.7" r="5.7" fill="rgb(138,138,138)"/>
<circle cx="992.0" cy="616.2" r="6.0" fill="rgb(138,138,138)"/>
<circle cx="956.7" cy="625.3" r="6.3" fill="rgb(138,138,138)"/>
<circle cx="997.3" cy="628.2" r="5.9" fill="rgb(138,138,138)"/>
<circle cx="906.2" cy="640.3" r="6.1" fill="rgb(140,140,140)"/>
<circle cx="1036.8" cy="645.6" r="6.5" fill="rgb(140,140,140)"/>
<circle cx="921.0" cy="641.1" r="6.3" fill="rgb(140,140,140)"/>
<circle cx="1019.3" cy="621.4" r="5.9" fill="rgb(141,141,141)"/>
<circle cx="978.5" cy="575.8" r="6.2" fill="rgb(141,141,141)"/>
<circle cx="1031.5" cy="509.7" r="6.6" fill="rgb(141,141,141)"/>
<circle cx="1031.6" cy="574.9" r="5.9" fill="rgb(141,141,141)"/>
<circle cx="908.3" cy="645.4" r="6.4" fill="rgb(142,142,142)"/>
<circle cx="1046.9" cy="525.8" r="6.0" fill="rgb(142,142,142)"/>
<circle cx="1043.1" cy="518.4" r="5.4" fill="rgb(142,142,142)"/>
<circle cx="984.8" cy="646.6" r="6.3" fill="rgb(143,143,143)"/>
<circle cx="1067.2" cy="557.3" r="5.5" fill="rgb(143,143,143)"/>
<circle cx="967.8" cy="514.5" r="6.6" fill="rgb(144,144,144)"/>
</g>
<g filter="url(#bl6)" style="mix-blend-mode:screen">
<circle cx="1050.9" cy="638.5" r="4.7" fill="rgb(95,95,95)"/>
<circle cx="1078.0" cy="614.0" r="4.7" fill="rgb(107,107,107)"/>
<circle cx="1072.6" cy="654.8" r="5.0" fill="rgb(107,107,107)"/>
<circle cx="879.7" cy="573.3" r="4.1" fill="rgb(107,107,107)"/>
<circle cx="871.5" cy="619.5" r="4.8" fill="rgb(107,107,107)"/>
<circle cx="925.9" cy="635.8" r="5.0" fill="rgb(107,107,107)"/>
<circle cx="901.4" cy="643.9" r="4.3" fill="rgb(107,107,107)"/>
<circle cx="980.2" cy="643.9" r="4.5" fill="rgb(107,107,107)"/>
<circle cx="1026.4" cy="633.0" r="4.1" fill="rgb(107,107,107)"/>
<circle cx="942.2" cy="722.7" r="4.8" fill="rgb(107,107,107)"/>
<circle cx="985.7" cy="714.6" r="4.1" fill="rgb(107,107,107)"/>
<circle cx="953.0" cy="755.3" r="4.7" fill="rgb(107,107,107)"/>
<circle cx="925.9" cy="782.5" r="4.6" fill="rgb(107,107,107)"/>
<circle cx="882.4" cy="782.5" r="4.9" fill="rgb(120,120,120)"/>
<circle cx="894.6" cy="790.7" r="5.0" fill="rgb(120,120,120)"/>
<circle cx="909.6" cy="800.2" r="5.2" fill="rgb(120,120,120)"/>
<circle cx="958.5" cy="665.7" r="4.9" fill="rgb(120,120,120)"/>
<circle cx="1012.8" cy="505.3" r="5.1" fill="rgb(120,120,120)"/>
<circle cx="1034.6" cy="506.7" r="4.3" fill="rgb(120,120,120)"/>
<circle cx="920.4" cy="524.3" r="4.8" fill="rgb(120,120,120)"/>
<circle cx="1002.0" cy="565.1" r="4.9" fill="rgb(120,120,120)"/>
<circle cx="1026.4" cy="567.8" r="5.2" fill="rgb(120,120,120)"/>
<circle cx="1045.4" cy="584.1" r="4.5" fill="rgb(120,120,120)"/>
<circle cx="991.1" cy="592.3" r="5.1" fill="rgb(120,120,120)"/>
<circle cx="1061.7" cy="584.1" r="4.8" fill="rgb(120,120,120)"/>
<circle cx="950.3" cy="687.4" r="5.2" fill="rgb(120,120,120)"/>
<circle cx="904.1" cy="703.7" r="4.6" fill="rgb(120,120,120)"/>
<circle cx="931.3" cy="741.7" r="4.6" fill="rgb(120,120,120)"/>
<circle cx="915.0" cy="660.2" r="5.3" fill="rgb(132,132,132)"/>
<circle cx="882.4" cy="748.5" r="5.0" fill="rgb(132,132,132)"/>
<circle cx="917.7" cy="763.5" r="5.1" fill="rgb(132,132,132)"/>
<circle cx="1031.8" cy="676.5" r="5.0" fill="rgb(132,132,132)"/>
<circle cx="915.0" cy="677.9" r="5.2" fill="rgb(132,132,132)"/>
<circle cx="996.5" cy="665.7" r="4.8" fill="rgb(132,132,132)"/>
<circle cx="953.0" cy="505.3" r="4.5" fill="rgb(132,132,132)"/>
<circle cx="985.7" cy="499.9" r="5.3" fill="rgb(132,132,132)"/>
<circle cx="942.2" cy="557.0" r="5.0" fill="rgb(132,132,132)"/>
<circle cx="958.5" cy="576.0" r="4.5" fill="rgb(132,132,132)"/>
<circle cx="953.0" cy="597.7" r="5.4" fill="rgb(132,132,132)"/>
<circle cx="966.6" cy="499.9" r="5.5" fill="rgb(145,145,145)"/>
<circle cx="1044.1" cy="547.4" r="5.2" fill="rgb(145,145,145)"/>
<circle cx="972.1" cy="620.8" r="4.9" fill="rgb(145,145,145)"/>
<circle cx="877.0" cy="643.9" r="5.3" fill="rgb(145,145,145)"/>
<circle cx="874.2" cy="665.7" r="5.4" fill="rgb(145,145,145)"/>
<circle cx="936.7" cy="649.3" r="5.4" fill="rgb(145,145,145)"/>
<circle cx="1035.9" cy="706.4" r="5.2" fill="rgb(145,145,145)"/>
<circle cx="936.7" cy="546.1" r="5.4" fill="rgb(145,145,145)"/>
<circle cx="1068.5" cy="569.2" r="5.7" fill="rgb(157,157,157)"/>
<circle cx="1038.6" cy="582.8" r="5.5" fill="rgb(157,157,157)"/>
<circle cx="1052.2" cy="603.2" r="5.2" fill="rgb(157,157,157)"/>
<circle cx="936.7" cy="537.9" r="4.9" fill="rgb(157,157,157)"/>
<circle cx="972.1" cy="518.9" r="5.0" fill="rgb(157,157,157)"/>
<circle cx="1026.4" cy="527.1" r="5.3" fill="rgb(157,157,157)"/>
<circle cx="887.8" cy="730.9" r="5.7" fill="rgb(157,157,157)"/>
<circle cx="896.0" cy="741.7" r="4.9" fill="rgb(157,157,157)"/>
<circle cx="963.9" cy="771.6" r="5.4" fill="rgb(157,157,157)"/>
<circle cx="1050.9" cy="565.1" r="5.8" fill="rgb(170,170,170)"/>
<circle cx="921.8" cy="597.7" r="5.3" fill="rgb(170,170,170)"/>
<circle cx="891.9" cy="619.5" r="5.4" fill="rgb(170,170,170)"/>
<circle cx="958.5" cy="631.7" r="5.7" fill="rgb(170,170,170)"/>
<circle cx="931.3" cy="698.3" r="5.9" fill="rgb(207,207,207)"/>
<circle cx="870.2" cy="703.7" r="5.5" fill="rgb(207,207,207)"/>
<circle cx="969.3" cy="732.2" r="5.8" fill="rgb(207,207,207)"/>
<circle cx="1014.2" cy="593.6" r="5.6" fill="rgb(207,207,207)"/>
<circle cx="906.8" cy="614.0" r="6.8" fill="rgb(232,232,232)"/>
<circle cx="989.7" cy="616.7" r="6.3" fill="rgb(232,232,232)"/>
<circle cx="1006.0" cy="680.6" r="6.7" fill="rgb(232,232,232)"/>
<circle cx="980.2" cy="695.5" r="6.0" fill="rgb(232,232,232)"/>
<circle cx="931.3" cy="578.7" r="6.4" fill="rgb(245,245,245)"/>
<circle cx="980.2" cy="565.1" r="6.7" fill="rgb(245,245,245)"/>
<circle cx="980.2" cy="551.5" r="6.5" fill="rgb(255,255,255)"/>
</g>
</g>
<text x="0" y="0" transform="translate(803.50,508.50) rotate(0) scale(1,1.045)" font-size="31" text-anchor="start" font-weight="bold" fill="#fff" ><tspan font-style="normal">sh-</tspan><tspan font-style="italic">Ctrl</tspan></text>
<clipPath id="clip4"><rect x="1148" y="470" width="352" height="352.8"/></clipPath>
<g clip-path="url(#clip4)">
<rect x="1148.00" y="470.00" width="352.00" height="352.80" fill="#000" stroke="none" stroke-width="0" />
<filter id="nz4" x="0" y="0" width="100%" height="100%" filterUnits="userSpaceOnUse" color-interpolation-filters="sRGB"><feTurbulence type="fractalNoise" baseFrequency="0.11" numOctaves="2" seed="14"/><feColorMatrix type="matrix" values="0.9 0 0 0 -0.32 0.9 0 0 0 -0.32 0.9 0 0 0 -0.32 0 0 0 0 1"/></filter>
<mask id="mk4" maskUnits="userSpaceOnUse" x="1148" y="470" width="352" height="352.8">
<radialGradient id="mg4_0"><stop offset="0" stop-color="#fff" stop-opacity="0.6"/><stop offset="0.6" stop-color="#fff" stop-opacity="0.510"/><stop offset="1" stop-color="#fff" stop-opacity="0"/></radialGradient>
<ellipse cx="1321.9" cy="649.3" rx="127.7" ry="130.4" fill="url(#mg4_0)" transform="rotate(0 1321.9 649.3)"/>
</mask>
<g mask="url(#mk4)"><rect x="1148" y="470" width="352" height="352.8" filter="url(#nz4)"/></g>
<g filter="url(#bl5)" style="mix-blend-mode:screen">
<circle cx="1298.2" cy="663.2" r="4.0" fill="rgb(28,28,28)"/>
<circle cx="1269.2" cy="631.0" r="3.6" fill="rgb(29,29,29)"/>
<circle cx="1287.4" cy="745.4" r="4.7" fill="rgb(29,29,29)"/>
<circle cx="1299.6" cy="689.3" r="4.7" fill="rgb(29,29,29)"/>
<circle cx="1337.9" cy="753.0" r="3.7" fill="rgb(29,29,29)"/>
<circle cx="1296.0" cy="540.5" r="3.6" fill="rgb(30,30,30)"/>
<circle cx="1274.6" cy="558.9" r="3.6" fill="rgb(30,30,30)"/>
<circle cx="1244.4" cy="638.7" r="4.6" fill="rgb(31,31,31)"/>
<circle cx="1380.0" cy="666.9" r="3.8" fill="rgb(31,31,31)"/>
<circle cx="1307.5" cy="555.4" r="4.5" fill="rgb(31,31,31)"/>
<circle cx="1314.3" cy="606.3" r="4.8" fill="rgb(32,32,32)"/>
<circle cx="1341.2" cy="639.1" r="3.9" fill="rgb(35,35,35)"/>
<circle cx="1395.0" cy="628.3" r="4.6" fill="rgb(35,35,35)"/>
<circle cx="1382.0" cy="576.2" r="3.6" fill="rgb(35,35,35)"/>
<circle cx="1285.1" cy="653.6" r="3.5" fill="rgb(35,35,35)"/>
<circle cx="1224.9" cy="655.4" r="4.4" fill="rgb(35,35,35)"/>
<circle cx="1278.2" cy="620.1" r="3.9" fill="rgb(36,36,36)"/>
<circle cx="1317.6" cy="590.6" r="3.8" fill="rgb(36,36,36)"/>
<circle cx="1346.6" cy="552.0" r="4.2" fill="rgb(36,36,36)"/>
<circle cx="1312.6" cy="562.2" r="4.6" fill="rgb(37,37,37)"/>
<circle cx="1342.8" cy="704.6" r="4.1" fill="rgb(38,38,38)"/>
<circle cx="1366.1" cy="653.1" r="4.3" fill="rgb(38,38,38)"/>
<circle cx="1369.8" cy="689.3" r="4.6" fill="rgb(38,38,38)"/>
<circle cx="1312.6" cy="752.2" r="3.6" fill="rgb(38,38,38)"/>
<circle cx="1386.0" cy="588.3" r="4.2" fill="rgb(38,38,38)"/>
<circle cx="1356.1" cy="693.9" r="3.5" fill="rgb(39,39,39)"/>
<circle cx="1382.2" cy="582.5" r="3.8" fill="rgb(39,39,39)"/>
<circle cx="1368.8" cy="718.6" r="3.7" fill="rgb(39,39,39)"/>
<circle cx="1303.0" cy="633.2" r="3.8" fill="rgb(39,39,39)"/>
<circle cx="1239.4" cy="666.8" r="4.8" fill="rgb(39,39,39)"/>
<circle cx="1337.3" cy="598.7" r="3.5" fill="rgb(39,39,39)"/>
<circle cx="1336.3" cy="635.2" r="4.2" fill="rgb(40,40,40)"/>
<circle cx="1371.8" cy="542.3" r="3.6" fill="rgb(40,40,40)"/>
<circle cx="1325.5" cy="707.1" r="3.6" fill="rgb(41,41,41)"/>
<circle cx="1393.7" cy="636.2" r="4.9" fill="rgb(43,43,43)"/>
<circle cx="1370.0" cy="635.8" r="4.3" fill="rgb(43,43,43)"/>
<circle cx="1282.4" cy="747.3" r="4.8" fill="rgb(43,43,43)"/>
<circle cx="1402.6" cy="653.7" r="4.4" fill="rgb(43,43,43)"/>
<circle cx="1313.7" cy="589.9" r="4.4" fill="rgb(43,43,43)"/>
<circle cx="1423.4" cy="623.5" r="4.7" fill="rgb(45,45,45)"/>
<circle cx="1247.2" cy="573.1" r="3.6" fill="rgb(45,45,45)"/>
<circle cx="1339.3" cy="716.1" r="3.9" fill="rgb(45,45,45)"/>
<circle cx="1407.3" cy="702.6" r="4.6" fill="rgb(45,45,45)"/>
<circle cx="1374.9" cy="736.1" r="5.0" fill="rgb(46,46,46)"/>
<circle cx="1340.9" cy="743.2" r="3.9" fill="rgb(46,46,46)"/>
<circle cx="1428.1" cy="655.8" r="4.2" fill="rgb(46,46,46)"/>
<circle cx="1241.3" cy="629.7" r="4.6" fill="rgb(46,46,46)"/>
<circle cx="1330.0" cy="541.4" r="4.4" fill="rgb(46,46,46)"/>
<circle cx="1297.8" cy="572.7" r="4.7" fill="rgb(47,47,47)"/>
<circle cx="1224.2" cy="637.8" r="3.7" fill="rgb(47,47,47)"/>
<circle cx="1361.7" cy="593.8" r="4.0" fill="rgb(48,48,48)"/>
<circle cx="1252.2" cy="592.8" r="4.6" fill="rgb(48,48,48)"/>
<circle cx="1400.3" cy="630.5" r="4.7" fill="rgb(49,49,49)"/>
<circle cx="1412.3" cy="606.9" r="4.6" fill="rgb(49,49,49)"/>
<circle cx="1322.1" cy="660.8" r="4.8" fill="rgb(50,50,50)"/>
<circle cx="1416.9" cy="683.7" r="4.8" fill="rgb(50,50,50)"/>
<circle cx="1279.7" cy="714.2" r="3.7" fill="rgb(50,50,50)"/>
<circle cx="1340.5" cy="650.2" r="4.1" fill="rgb(50,50,50)"/>
<circle cx="1284.7" cy="605.8" r="3.8" fill="rgb(51,51,51)"/>
<circle cx="1400.2" cy="717.5" r="3.9" fill="rgb(51,51,51)"/>
<circle cx="1335.7" cy="568.2" r="4.7" fill="rgb(52,52,52)"/>
<circle cx="1351.8" cy="750.6" r="4.3" fill="rgb(52,52,52)"/>
<circle cx="1331.2" cy="732.6" r="5.0" fill="rgb(53,53,53)"/>
<circle cx="1308.8" cy="641.3" r="3.8" fill="rgb(53,53,53)"/>
<circle cx="1329.5" cy="538.5" r="4.4" fill="rgb(54,54,54)"/>
<circle cx="1267.7" cy="566.5" r="5.1" fill="rgb(54,54,54)"/>
<circle cx="1304.3" cy="531.9" r="4.3" fill="rgb(54,54,54)"/>
<circle cx="1291.6" cy="564.0" r="4.7" fill="rgb(55,55,55)"/>
<circle cx="1257.3" cy="612.3" r="5.0" fill="rgb(55,55,55)"/>
<circle cx="1388.2" cy="573.9" r="4.9" fill="rgb(55,55,55)"/>
<circle cx="1390.9" cy="560.5" r="4.2" fill="rgb(55,55,55)"/>
<circle cx="1314.2" cy="678.4" r="4.4" fill="rgb(56,56,56)"/>
<circle cx="1306.8" cy="747.0" r="4.9" fill="rgb(56,56,56)"/>
<circle cx="1328.9" cy="747.0" r="4.5" fill="rgb(56,56,56)"/>
<circle cx="1242.7" cy="610.5" r="4.4" fill="rgb(57,57,57)"/>
<circle cx="1336.8" cy="575.8" r="5.1" fill="rgb(57,57,57)"/>
<circle cx="1221.8" cy="612.9" r="4.2" fill="rgb(57,57,57)"/>
<circle cx="1314.9" cy="625.1" r="4.8" fill="rgb(57,57,57)"/>
<circle cx="1350.3" cy="539.4" r="4.3" fill="rgb(58,58,58)"/>
<circle cx="1232.4" cy="594.4" r="4.7" fill="rgb(58,58,58)"/>
<circle cx="1413.6" cy="603.1" r="4.9" fill="rgb(58,58,58)"/>
<circle cx="1317.7" cy="712.1" r="5.1" fill="rgb(58,58,58)"/>
<circle cx="1304.5" cy="624.4" r="5.0" fill="rgb(59,59,59)"/>
<circle cx="1356.9" cy="542.6" r="4.5" fill="rgb(59,59,59)"/>
<circle cx="1239.4" cy="628.0" r="4.7" fill="rgb(59,59,59)"/>
<circle cx="1349.6" cy="607.0" r="4.8" fill="rgb(59,59,59)"/>
<circle cx="1297.5" cy="592.8" r="4.9" fill="rgb(60,60,60)"/>
<circle cx="1249.4" cy="650.0" r="5.2" fill="rgb(61,61,61)"/>
<circle cx="1404.2" cy="607.4" r="3.9" fill="rgb(61,61,61)"/>
<circle cx="1227.9" cy="607.0" r="3.9" fill="rgb(62,62,62)"/>
<circle cx="1401.5" cy="691.8" r="5.2" fill="rgb(62,62,62)"/>
<circle cx="1278.3" cy="668.2" r="4.8" fill="rgb(62,62,62)"/>
<circle cx="1365.5" cy="721.4" r="4.0" fill="rgb(62,62,62)"/>
<circle cx="1237.9" cy="698.1" r="4.3" fill="rgb(62,62,62)"/>
<circle cx="1389.1" cy="641.7" r="4.1" fill="rgb(64,64,64)"/>
<circle cx="1235.7" cy="710.6" r="4.4" fill="rgb(65,65,65)"/>
<circle cx="1384.0" cy="548.4" r="4.1" fill="rgb(65,65,65)"/>
<circle cx="1227.4" cy="676.1" r="5.0" fill="rgb(65,65,65)"/>
<circle cx="1274.5" cy="621.4" r="4.2" fill="rgb(66,66,66)"/>
<circle cx="1295.3" cy="657.5" r="4.6" fill="rgb(66,66,66)"/>
<circle cx="1292.3" cy="604.1" r="4.0" fill="rgb(66,66,66)"/>
<circle cx="1330.7" cy="752.9" r="4.5" fill="rgb(67,67,67)"/>
<circle cx="1246.8" cy="582.5" r="4.3" fill="rgb(67,67,67)"/>
<circle cx="1402.5" cy="641.2" r="4.7" fill="rgb(67,67,67)"/>
<circle cx="1369.3" cy="546.1" r="4.3" fill="rgb(67,67,67)"/>
<circle cx="1394.8" cy="673.2" r="4.3" fill="rgb(67,67,67)"/>
<circle cx="1343.0" cy="648.6" r="4.5" fill="rgb(68,68,68)"/>
<circle cx="1250.4" cy="644.5" r="5.3" fill="rgb(69,69,69)"/>
<circle cx="1400.6" cy="636.5" r="5.4" fill="rgb(70,70,70)"/>
<circle cx="1297.8" cy="549.4" r="4.3" fill="rgb(70,70,70)"/>
<circle cx="1320.0" cy="631.6" r="5.1" fill="rgb(71,71,71)"/>
<circle cx="1360.8" cy="637.1" r="4.1" fill="rgb(71,71,71)"/>
<circle cx="1302.9" cy="742.1" r="4.5" fill="rgb(71,71,71)"/>
<circle cx="1224.7" cy="630.8" r="5.1" fill="rgb(72,72,72)"/>
<circle cx="1390.4" cy="699.5" r="5.1" fill="rgb(72,72,72)"/>
<circle cx="1389.7" cy="610.1" r="5.0" fill="rgb(72,72,72)"/>
<circle cx="1354.7" cy="660.9" r="4.8" fill="rgb(73,73,73)"/>
<circle cx="1243.2" cy="594.3" r="4.7" fill="rgb(73,73,73)"/>
<circle cx="1245.8" cy="635.2" r="4.2" fill="rgb(74,74,74)"/>
<circle cx="1266.6" cy="671.5" r="5.0" fill="rgb(74,74,74)"/>
<circle cx="1297.5" cy="591.2" r="5.0" fill="rgb(75,75,75)"/>
<circle cx="1271.1" cy="645.9" r="4.6" fill="rgb(75,75,75)"/>
<circle cx="1347.9" cy="632.8" r="4.3" fill="rgb(76,76,76)"/>
<circle cx="1427.7" cy="631.9" r="4.5" fill="rgb(77,77,77)"/>
<circle cx="1315.6" cy="553.5" r="5.3" fill="rgb(77,77,77)"/>
<circle cx="1218.1" cy="643.5" r="4.3" fill="rgb(77,77,77)"/>
<circle cx="1411.4" cy="619.5" r="5.0" fill="rgb(77,77,77)"/>
<circle cx="1327.5" cy="542.7" r="5.2" fill="rgb(77,77,77)"/>
<circle cx="1303.0" cy="684.6" r="5.2" fill="rgb(78,78,78)"/>
<circle cx="1348.3" cy="754.2" r="4.7" fill="rgb(78,78,78)"/>
<circle cx="1226.6" cy="614.3" r="5.1" fill="rgb(78,78,78)"/>
<circle cx="1315.5" cy="688.7" r="4.5" fill="rgb(78,78,78)"/>
<circle cx="1380.9" cy="579.6" r="4.6" fill="rgb(79,79,79)"/>
<circle cx="1320.3" cy="582.0" r="5.1" fill="rgb(80,80,80)"/>
<circle cx="1278.8" cy="643.3" r="4.4" fill="rgb(80,80,80)"/>
<circle cx="1328.8" cy="746.4" r="4.9" fill="rgb(81,81,81)"/>
<circle cx="1382.4" cy="552.3" r="5.2" fill="rgb(81,81,81)"/>
<circle cx="1352.0" cy="567.2" r="4.3" fill="rgb(81,81,81)"/>
<circle cx="1379.9" cy="594.9" r="4.3" fill="rgb(81,81,81)"/>
<circle cx="1305.3" cy="592.1" r="5.4" fill="rgb(81,81,81)"/>
<circle cx="1355.0" cy="569.8" r="5.3" fill="rgb(81,81,81)"/>
<circle cx="1303.1" cy="626.9" r="5.6" fill="rgb(81,81,81)"/>
<circle cx="1269.2" cy="557.1" r="4.4" fill="rgb(82,82,82)"/>
<circle cx="1277.5" cy="605.7" r="5.4" fill="rgb(82,82,82)"/>
<circle cx="1345.6" cy="547.7" r="5.0" fill="rgb(83,83,83)"/>
<circle cx="1262.5" cy="628.9" r="5.0" fill="rgb(83,83,83)"/>
<circle cx="1390.2" cy="609.8" r="4.5" fill="rgb(83,83,83)"/>
<circle cx="1334.6" cy="574.7" r="4.8" fill="rgb(83,83,83)"/>
<circle cx="1399.2" cy="696.4" r="4.5" fill="rgb(84,84,84)"/>
<circle cx="1385.0" cy="635.3" r="4.3" fill="rgb(85,85,85)"/>
</g>
<g filter="url(#bl6)" style="mix-blend-mode:screen">
<circle cx="1297.5" cy="760.8" r="4.6" fill="rgb(95,95,95)"/>
<circle cx="1379.0" cy="766.2" r="4.0" fill="rgb(95,95,95)"/>
<circle cx="1300.2" cy="660.2" r="4.0" fill="rgb(95,95,95)"/>
<circle cx="1343.7" cy="573.3" r="4.8" fill="rgb(107,107,107)"/>
<circle cx="1316.5" cy="604.5" r="4.9" fill="rgb(107,107,107)"/>
<circle cx="1268.9" cy="611.3" r="4.2" fill="rgb(107,107,107)"/>
<circle cx="1316.5" cy="633.0" r="4.5" fill="rgb(107,107,107)"/>
<circle cx="1294.7" cy="537.9" r="4.4" fill="rgb(120,120,120)"/>
<circle cx="1357.2" cy="566.5" r="4.6" fill="rgb(120,120,120)"/>
<circle cx="1274.4" cy="648.0" r="4.7" fill="rgb(120,120,120)"/>
<circle cx="1350.4" cy="728.2" r="4.5" fill="rgb(120,120,120)"/>
<circle cx="1324.6" cy="652.1" r="4.6" fill="rgb(120,120,120)"/>
<circle cx="1387.1" cy="714.6" r="4.7" fill="rgb(120,120,120)"/>
<circle cx="1387.1" cy="589.6" r="5.1" fill="rgb(132,132,132)"/>
<circle cx="1332.8" cy="539.3" r="4.6" fill="rgb(132,132,132)"/>
<circle cx="1315.1" cy="546.1" r="4.6" fill="rgb(132,132,132)"/>
<circle cx="1235.0" cy="695.5" r="4.9" fill="rgb(132,132,132)"/>
<circle cx="1334.1" cy="724.1" r="4.7" fill="rgb(132,132,132)"/>
<circle cx="1335.5" cy="665.7" r="4.7" fill="rgb(132,132,132)"/>
<circle cx="1332.8" cy="684.7" r="4.6" fill="rgb(132,132,132)"/>
<circle cx="1373.5" cy="703.7" r="5.2" fill="rgb(132,132,132)"/>
<circle cx="1345.0" cy="622.2" r="5.4" fill="rgb(145,145,145)"/>
<circle cx="1408.9" cy="692.8" r="4.7" fill="rgb(145,145,145)"/>
<circle cx="1388.5" cy="631.7" r="5.3" fill="rgb(145,145,145)"/>
<circle cx="1370.8" cy="637.1" r="5.0" fill="rgb(145,145,145)"/>
<circle cx="1267.6" cy="725.4" r="4.7" fill="rgb(145,145,145)"/>
<circle cx="1305.6" cy="695.5" r="4.7" fill="rgb(145,145,145)"/>
<circle cx="1229.5" cy="646.6" r="5.6" fill="rgb(145,145,145)"/>
<circle cx="1368.1" cy="654.8" r="4.9" fill="rgb(157,157,157)"/>
<circle cx="1403.4" cy="676.5" r="5.3" fill="rgb(157,157,157)"/>
<circle cx="1256.7" cy="711.8" r="5.5" fill="rgb(157,157,157)"/>
<circle cx="1290.7" cy="710.5" r="5.5" fill="rgb(157,157,157)"/>
<circle cx="1240.4" cy="616.7" r="5.7" fill="rgb(170,170,170)"/>
<circle cx="1251.3" cy="622.2" r="5.0" fill="rgb(170,170,170)"/>
<circle cx="1347.7" cy="597.7" r="5.3" fill="rgb(170,170,170)"/>
<circle cx="1355.9" cy="694.2" r="5.1" fill="rgb(170,170,170)"/>
<circle cx="1412.9" cy="710.5" r="5.7" fill="rgb(170,170,170)"/>
<circle cx="1225.4" cy="630.3" r="5.9" fill="rgb(182,182,182)"/>
<circle cx="1376.3" cy="671.1" r="5.4" fill="rgb(182,182,182)"/>
<circle cx="1287.9" cy="552.9" r="5.9" fill="rgb(195,195,195)"/>
<circle cx="1283.9" cy="688.8" r="5.7" fill="rgb(207,207,207)"/>
<circle cx="1254.0" cy="649.3" r="5.9" fill="rgb(207,207,207)"/>
<circle cx="1264.8" cy="682.0" r="6.0" fill="rgb(232,232,232)"/>
</g>
</g>
<text x="0" y="0" transform="translate(1162.00,508.50) rotate(0) scale(1,1.045)" font-size="31" text-anchor="start" font-weight="bold" fill="#fff" ><tspan font-style="normal">sh-</tspan><tspan font-style="italic">PITPNA</tspan></text>
<text x="0" y="0" transform="translate(0.00,467.00) scale(1,1.0)" font-size="46" text-anchor="start" font-weight="bold" font-style="normal" fill="#000" >d</text>
<text x="0" y="0" transform="translate(763.00,474.50) scale(1,1.0)" font-size="46" text-anchor="start" font-weight="bold" font-style="normal" fill="#000" >e</text>
<line x1="168.50" y1="995.00" x2="168.50" y2="1218.00" stroke="#000" stroke-width="2" />
<line x1="153.50" y1="1216.80" x2="472.00" y2="1216.80" stroke="#000" stroke-width="2" />
<line x1="153.50" y1="1216.80" x2="168.50" y2="1216.80" stroke="#000" stroke-width="2" />
<text x="0" y="0" transform="translate(147.00,1228.50) scale(1,1.045)" font-size="31" text-anchor="end" font-weight="bold" font-style="normal" fill="#000" >0.00</text>
<line x1="153.50" y1="1143.00" x2="168.50" y2="1143.00" stroke="#000" stroke-width="2" />
<text x="0" y="0" transform="translate(147.00,1154.70) scale(1,1.045)" font-size="31" text-anchor="end" font-weight="bold" font-style="normal" fill="#000" >0.05</text>
<line x1="153.50" y1="1069.20" x2="168.50" y2="1069.20" stroke="#000" stroke-width="2" />
<text x="0" y="0" transform="translate(147.00,1080.90) scale(1,1.045)" font-size="31" text-anchor="end" font-weight="bold" font-style="normal" fill="#000" >0.10</text>
<line x1="153.50" y1="995.40" x2="168.50" y2="995.40" stroke="#000" stroke-width="2" />
<text x="0" y="0" transform="translate(147.00,1007.10) scale(1,1.045)" font-size="31" text-anchor="end" font-weight="bold" font-style="normal" fill="#000" >0.15</text>
<line x1="168.50" y1="1216.80" x2="168.50" y2="1227.70" stroke="#000" stroke-width="2" />
<text x="0" y="0" transform="translate(168.50,1261.30) scale(1,1.045)" font-size="31" text-anchor="middle" font-weight="bold" font-style="normal" fill="#000" >0</text>
<line x1="229.10" y1="1216.80" x2="229.10" y2="1227.70" stroke="#000" stroke-width="2" />
<text x="0" y="0" transform="translate(229.10,1261.30) scale(1,1.045)" font-size="31" text-anchor="middle" font-weight="bold" font-style="normal" fill="#000" >10</text>
<line x1="289.70" y1="1216.80" x2="289.70" y2="1227.70" stroke="#000" stroke-width="2" />
<text x="0" y="0" transform="translate(289.70,1261.30) scale(1,1.045)" font-size="31" text-anchor="middle" font-weight="bold" font-style="normal" fill="#000" >20</text>
<line x1="350.30" y1="1216.80" x2="350.30" y2="1227.70" stroke="#000" stroke-width="2" />
<text x="0" y="0" transform="translate(350.30,1261.30) scale(1,1.045)" font-size="31" text-anchor="middle" font-weight="bold" font-style="normal" fill="#000" >30</text>
<line x1="410.90" y1="1216.80" x2="410.90" y2="1227.70" stroke="#000" stroke-width="2" />
<text x="0" y="0" transform="translate(410.90,1261.30) scale(1,1.045)" font-size="31" text-anchor="middle" font-weight="bold" font-style="normal" fill="#000" >40</text>
<line x1="471.50" y1="1216.80" x2="471.50" y2="1227.70" stroke="#000" stroke-width="2" />
<text x="0" y="0" transform="translate(471.50,1261.30) scale(1,1.045)" font-size="31" text-anchor="middle" font-weight="bold" font-style="normal" fill="#000" >50</text>
<polygon points="288.0,1178.9 290.5,1178.3 293.0,1176.4 295.5,1173.8 298.0,1172.5 300.5,1171.0 303.0,1170.1 305.5,1169.0 308.0,1166.7 310.5,1165.6 313.0,1166.1 315.5,1164.7 318.0,1164.5 320.5,1162.6 323.0,1162.8 325.5,1162.7 328.0,1161.4 330.5,1162.1 333.0,1161.3 335.5,1159.1 338.0,1158.4 340.5,1158.4 343.0,1158.3 345.5,1156.7 348.0,1155.7 350.5,1155.3 353.0,1154.0 355.5,1153.8 358.0,1153.6 360.5,1153.2 363.0,1152.3 365.5,1151.5 368.0,1150.8 370.5,1150.4 373.0,1149.4 375.5,1148.0 378.0,1148.3 380.5,1146.8 383.0,1146.0 385.5,1144.5 388.0,1145.3 390.5,1144.6 393.0,1142.9 395.5,1142.8 398.0,1142.9 400.5,1142.4 403.0,1142.2 405.5,1140.9 408.0,1140.8 410.5,1139.8 413.0,1138.5 415.5,1138.2 418.0,1137.7 420.5,1136.6 423.0,1135.1 425.5,1134.2 428.0,1132.5 430.5,1132.0 433.0,1132.2 435.5,1130.8 438.0,1129.7 440.5,1129.8 443.0,1129.6 445.5,1129.0 448.0,1128.1 450.5,1127.9 453.0,1127.8 455.5,1128.0 458.0,1127.3 460.5,1126.7 463.0,1126.5 465.5,1125.3 468.0,1124.9 470.5,1125.6 471.5,1125.1 471.5,1136.8 470.5,1136.8 468.0,1136.8 465.5,1136.8 463.0,1136.8 460.5,1136.8 458.0,1136.9 455.5,1137.1 453.0,1137.4 450.5,1137.6 448.0,1137.9 445.5,1138.1 443.0,1138.4 440.5,1138.6 438.0,1138.9 435.5,1139.5 433.0,1140.2 430.5,1141.0 428.0,1141.7 425.5,1142.5 423.0,1143.2 420.5,1144.0 418.0,1144.7 415.5,1145.5 413.0,1146.2 410.5,1147.0 408.0,1147.7 405.5,1148.5 403.0,1149.0 400.5,1149.5 398.0,1150.0 395.5,1150.5 393.0,1150.8 390.5,1151.1 388.0,1151.3 385.5,1151.6 383.0,1152.1 380.5,1153.1 378.0,1154.1 375.5,1155.1 373.0,1156.1 370.5,1156.8 368.0,1157.6 365.5,1158.4 363.0,1159.1 360.5,1159.6 358.0,1160.1 355.5,1160.6 353.0,1161.1 350.5,1161.9 348.0,1162.9 345.5,1163.9 343.0,1164.9 340.5,1165.8 338.0,1166.6 335.5,1167.3 333.0,1168.1 330.5,1168.8 328.0,1169.3 325.5,1169.8 323.0,1170.3 320.5,1170.8 318.0,1171.5 315.5,1172.3 313.0,1173.0 310.5,1173.8 308.0,1174.7 305.5,1175.7 303.0,1176.7 300.5,1177.7 298.0,1178.8 295.5,1180.3 293.0,1181.8 290.5,1183.3 288.0,1184.8" fill="#bdbdbd"/>
<polygon points="230.4,1200.5 232.9,1197.9 235.4,1194.0 237.9,1191.6 240.4,1190.3 242.9,1187.6 245.4,1185.0 247.9,1182.7 250.4,1181.5 252.9,1179.8 255.4,1178.0 257.9,1175.6 260.4,1174.3 262.9,1172.6 265.4,1171.5 267.9,1170.4 270.4,1168.8 272.9,1164.9 275.4,1160.9 277.9,1156.9 280.4,1152.3 282.9,1147.3 285.4,1143.0 287.9,1137.8 290.4,1134.8 292.9,1132.6 295.4,1129.0 297.9,1126.1 300.4,1122.7 302.9,1119.6 305.4,1117.4 307.9,1114.3 310.4,1112.7 312.9,1112.0 315.4,1110.0 317.9,1107.7 320.4,1107.4 322.9,1106.0 325.4,1104.6 327.9,1103.6 330.4,1102.2 332.9,1100.7 335.4,1098.5 337.9,1098.0 340.4,1096.5 342.9,1093.7 345.4,1093.2 347.9,1091.6 350.4,1089.7 352.9,1088.5 355.4,1087.4 357.9,1087.1 360.4,1085.4 362.9,1085.0 365.4,1083.2 367.9,1083.1 370.4,1082.1 372.9,1080.4 375.4,1079.5 377.9,1079.1 380.4,1077.8 382.9,1076.4 385.4,1075.1 387.9,1074.5 390.4,1074.4 392.9,1072.8 395.4,1073.1 397.9,1070.8 400.4,1070.6 402.9,1068.4 405.4,1068.2 407.9,1066.5 410.4,1064.9 412.9,1063.7 415.4,1062.7 417.9,1061.7 420.4,1060.5 422.9,1059.6 425.4,1059.3 427.9,1059.1 430.4,1057.6 432.9,1055.8 435.4,1056.0 437.9,1054.8 440.4,1054.1 442.9,1051.9 445.4,1051.8 447.9,1049.7 450.4,1049.4 452.9,1047.6 455.4,1046.3 457.9,1046.1 460.4,1043.6 462.9,1043.0 465.4,1042.3 467.9,1040.0 470.4,1038.7 471.5,1038.7 471.5,1056.8 470.4,1057.2 467.9,1058.3 465.4,1059.3 462.9,1060.4 460.4,1061.4 457.9,1062.4 455.4,1063.4 452.9,1064.4 450.4,1065.4 447.9,1066.4 445.4,1067.4 442.9,1068.4 440.4,1069.4 437.9,1070.4 435.4,1071.4 432.9,1072.4 430.4,1073.4 427.9,1074.4 425.4,1075.4 422.9,1076.4 420.4,1077.4 417.9,1078.4 415.4,1079.5 412.9,1080.8 410.4,1082.0 407.9,1083.2 405.4,1084.5 402.9,1085.8 400.4,1087.0 397.9,1088.2 395.4,1089.5 392.9,1090.4 390.4,1091.1 387.9,1091.9 385.4,1092.6 382.9,1093.5 380.4,1094.5 377.9,1095.5 375.4,1096.5 372.9,1097.5 370.4,1098.5 367.9,1099.5 365.4,1100.5 362.9,1101.5 360.4,1102.5 357.9,1103.5 355.4,1104.5 352.9,1105.5 350.4,1106.8 347.9,1108.3 345.4,1109.8 342.9,1111.3 340.4,1112.8 337.9,1114.3 335.4,1115.8 332.9,1117.3 330.4,1118.8 327.9,1120.0 325.4,1121.3 322.9,1122.5 320.4,1123.8 317.9,1125.0 315.4,1127.2 312.9,1129.4 310.4,1131.6 307.9,1133.6 305.4,1135.5 302.9,1137.4 300.4,1139.2 297.9,1141.1 295.4,1143.3 292.9,1145.8 290.4,1148.3 287.9,1150.8 285.4,1155.2 282.9,1159.6 280.4,1164.0 277.9,1168.0 275.4,1171.7 272.9,1175.5 270.4,1178.7 267.9,1180.3 265.4,1181.9 262.9,1183.4 260.4,1184.9 257.9,1186.4 255.4,1187.8 252.9,1189.3 250.4,1190.7 247.9,1192.3 245.4,1194.0 242.9,1195.7 240.4,1197.3 237.9,1199.0 235.4,1201.1 232.9,1203.6 230.4,1206.1" fill="#c4e2f3"/>
<polyline points="234.7,1214.3 237.2,1212.6 239.7,1210.3 242.2,1209.1 244.7,1208.2 247.2,1206.4 249.7,1205.4 252.2,1205.3 254.7,1203.3 257.2,1202.0 259.7,1201.8 262.2,1199.8 264.7,1199.1 267.2,1197.3 269.7,1196.3 272.2,1194.4 274.7,1193.8 277.2,1192.5 279.7,1190.4 282.2,1189.0 284.7,1187.3 287.2,1184.7 289.7,1184.2 292.2,1182.4 294.7,1180.5 297.2,1178.6 299.7,1178.5 302.2,1177.0 304.7,1176.3 307.2,1175.5 309.7,1174.3 312.2,1173.9 314.7,1172.4 317.2,1172.2 319.7,1171.0 322.2,1171.1 324.7,1170.5 327.2,1168.9 329.7,1168.5 332.2,1168.0 334.7,1168.3 337.2,1166.8 339.7,1166.3 342.2,1165.0 344.7,1164.3 347.2,1163.1 349.7,1162.1 352.2,1161.4 354.7,1160.9 357.2,1160.9 359.7,1160.1 362.2,1159.9 364.7,1159.1 367.2,1158.5 369.7,1157.3 372.2,1155.9 374.7,1156.0 377.2,1155.1 379.7,1154.0 382.2,1152.6 384.7,1152.0 387.2,1151.0 389.7,1151.6 392.2,1151.0 394.7,1150.4 397.2,1149.6 399.7,1150.2 402.2,1149.9 404.7,1148.1 407.2,1148.4 409.7,1147.1 412.2,1146.0 414.7,1145.4 417.2,1145.4 419.7,1144.8 422.2,1142.8 424.7,1142.9 427.2,1141.3 429.7,1141.5 432.2,1140.2 434.7,1140.3 437.2,1139.7 439.7,1138.7 442.2,1139.1 444.7,1137.9 447.2,1137.4 449.7,1137.8 452.2,1136.8 454.7,1136.8 457.2,1136.8 459.7,1137.0 462.2,1136.3 464.7,1136.2 467.2,1137.3 469.7,1136.5 471.5,1136.8" fill="none" stroke="#333333" stroke-width="7.0" stroke-linejoin="round" />
<polyline points="168.5,1215.4 171.0,1215.2 173.5,1215.6 176.0,1215.3 178.5,1215.1 181.0,1215.6 183.5,1216.3 186.0,1216.2 188.5,1216.1 191.0,1215.3 193.5,1215.8 196.0,1215.4 198.5,1215.3 201.0,1215.2 203.5,1215.3 206.0,1216.3 208.5,1216.2 211.0,1216.2 213.5,1216.2 216.0,1215.3 218.5,1215.5 221.0,1215.9 223.5,1216.1 226.0,1216.2 228.5,1215.1 231.0,1204.9 233.5,1203.1 236.0,1200.7 238.5,1198.6 241.0,1196.5 243.5,1195.2 246.0,1193.0 248.5,1192.5 251.0,1190.9 253.5,1189.0 256.0,1187.2 258.5,1186.6 261.0,1184.6 263.5,1183.6 266.0,1181.9 268.5,1179.9 271.0,1178.1 273.5,1174.6 276.0,1170.7 278.5,1166.5 281.0,1162.6 283.5,1158.9 286.0,1153.5 288.5,1149.5 291.0,1147.8 293.5,1144.8 296.0,1142.7 298.5,1140.6 301.0,1138.5 303.5,1137.6 306.0,1134.6 308.5,1133.0 311.0,1130.6 313.5,1129.0 316.0,1126.4 318.5,1124.5 321.0,1123.8 323.5,1122.0 326.0,1121.1 328.5,1120.3 331.0,1117.9 333.5,1116.3 336.0,1115.1 338.5,1114.3 341.0,1112.6 343.5,1110.6 346.0,1109.2 348.5,1107.5 351.0,1106.4 353.5,1104.6 356.0,1104.5 358.5,1103.8 361.0,1102.9 363.5,1101.6 366.0,1100.9 368.5,1098.6 371.0,1098.0 373.5,1097.9 376.0,1096.6 378.5,1095.1 381.0,1094.9 383.5,1093.4 386.0,1092.9 388.5,1091.4 391.0,1090.5 393.5,1090.1 396.0,1088.7 398.5,1087.8 401.0,1087.3 403.5,1085.2 406.0,1083.5 408.5,1082.3 411.0,1081.2 413.5,1080.8 416.0,1079.0 418.5,1077.9 421.0,1076.6 423.5,1076.9 426.0,1075.1 428.5,1073.8 431.0,1072.6 433.5,1071.6 436.0,1070.7 438.5,1070.4 441.0,1068.7 443.5,1067.5 446.0,1067.2 448.5,1065.8 451.0,1065.9 453.5,1063.7 456.0,1063.2 458.5,1062.6 461.0,1061.0 463.5,1060.8 466.0,1059.0 468.5,1057.7 471.0,1056.9 471.5,1056.8" fill="none" stroke="#79b8df" stroke-width="7.0" stroke-linejoin="round" />
<text x="0" y="0" transform="translate(321.60,1291.70) scale(1,1.0)" font-size="30.5" text-anchor="middle" font-weight="bold" font-style="normal" fill="#000" >time (seconds)</text>
<text x="0" y="0" transform="translate(72.00,1105.00) rotate(-90) scale(1,1.045)" font-size="31" text-anchor="middle" font-weight="bold">Exocytosis (μm<tspan dy="-10" font-size="18">-2</tspan><tspan dy="10">)</tspan></text>
<text x="0" y="0" transform="translate(215.80,1125.00) scale(1,1.045)" font-size="31" text-anchor="start" font-weight="bold" font-style="normal" fill="#000" >K<tspan dy="-10" font-size="18">+</tspan></text>
<line x1="227.20" y1="1132.50" x2="227.20" y2="1170.00" stroke="#000" stroke-width="2" />
<polygon points="220.80,1167.70 233.60,1167.70 227.20,1183.70" fill="#000" />
<rect x="111.20" y="890.50" width="17.50" height="17.50" fill="#2b2b2b" stroke="none" stroke-width="0" />
<rect x="110.90" y="923.40" width="17.10" height="17.10" fill="#79b8df" stroke="none" stroke-width="0" />
<text x="0" y="0" transform="translate(136.00,908.30) rotate(0) scale(1,1.0)" font-size="31" text-anchor="start" font-weight="bold" fill="#000" ><tspan font-style="normal">OE-</tspan><tspan font-style="italic">Ctrl</tspan></text>
<text x="0" y="0" transform="translate(136.00,944.30) rotate(0) scale(1,1.045)" font-size="31" text-anchor="start" font-weight="bold" fill="#000" ><tspan font-style="normal">OE-</tspan><tspan font-style="italic">PITPNA</tspan></text>
<text x="0" y="0" transform="translate(4.00,885.80) scale(1,1.0)" font-size="46" text-anchor="start" font-weight="bold" font-style="normal" fill="#000" >f</text>
<line x1="652.30" y1="991.30" x2="652.30" y2="1218.40" stroke="#000" stroke-width="2" />
<line x1="639.00" y1="1217.40" x2="958.00" y2="1217.40" stroke="#000" stroke-width="2" />
<line x1="639.00" y1="1217.40" x2="652.50" y2="1217.40" stroke="#000" stroke-width="2" />
<text x="0" y="0" transform="translate(633.00,1230.40) scale(1,1.045)" font-size="31" text-anchor="end" font-weight="bold" font-style="normal" fill="#000" >0.00</text>
<line x1="639.00" y1="1142.37" x2="652.50" y2="1142.37" stroke="#000" stroke-width="2" />
<text x="0" y="0" transform="translate(633.00,1155.37) scale(1,1.045)" font-size="31" text-anchor="end" font-weight="bold" font-style="normal" fill="#000" >0.05</text>
<line x1="639.00" y1="1067.33" x2="652.50" y2="1067.33" stroke="#000" stroke-width="2" />
<text x="0" y="0" transform="translate(633.00,1080.33) scale(1,1.045)" font-size="31" text-anchor="end" font-weight="bold" font-style="normal" fill="#000" >0.10</text>
<line x1="639.00" y1="992.30" x2="652.50" y2="992.30" stroke="#000" stroke-width="2" />
<text x="0" y="0" transform="translate(633.00,1005.30) scale(1,1.045)" font-size="31" text-anchor="end" font-weight="bold" font-style="normal" fill="#000" >0.15</text>
<line x1="652.30" y1="1217.40" x2="652.30" y2="1228.00" stroke="#000" stroke-width="2" />
<text x="0" y="0" transform="translate(652.30,1261.30) scale(1,1.045)" font-size="31" text-anchor="middle" font-weight="bold" font-style="normal" fill="#000" >0</text>
<line x1="713.27" y1="1217.40" x2="713.27" y2="1228.00" stroke="#000" stroke-width="2" />
<text x="0" y="0" transform="translate(713.27,1261.30) scale(1,1.045)" font-size="31" text-anchor="middle" font-weight="bold" font-style="normal" fill="#000" >10</text>
<line x1="774.24" y1="1217.40" x2="774.24" y2="1228.00" stroke="#000" stroke-width="2" />
<text x="0" y="0" transform="translate(774.24,1261.30) scale(1,1.045)" font-size="31" text-anchor="middle" font-weight="bold" font-style="normal" fill="#000" >20</text>
<line x1="835.21" y1="1217.40" x2="835.21" y2="1228.00" stroke="#000" stroke-width="2" />
<text x="0" y="0" transform="translate(835.21,1261.30) scale(1,1.045)" font-size="31" text-anchor="middle" font-weight="bold" font-style="normal" fill="#000" >30</text>
<line x1="896.18" y1="1217.40" x2="896.18" y2="1228.00" stroke="#000" stroke-width="2" />
<text x="0" y="0" transform="translate(896.18,1261.30) scale(1,1.045)" font-size="31" text-anchor="middle" font-weight="bold" font-style="normal" fill="#000" >40</text>
<line x1="957.15" y1="1217.40" x2="957.15" y2="1228.00" stroke="#000" stroke-width="2" />
<text x="0" y="0" transform="translate(957.15,1261.30) scale(1,1.045)" font-size="31" text-anchor="middle" font-weight="bold" font-style="normal" fill="#000" >50</text>
<polygon points="751.7,1144.5 754.2,1142.2 756.7,1139.7 759.2,1137.5 761.7,1134.7 764.2,1133.2 766.7,1130.2 769.2,1129.4 771.7,1128.7 774.2,1126.0 776.7,1123.4 779.2,1119.2 781.7,1116.8 784.2,1113.3 786.7,1110.5 789.2,1107.2 791.7,1103.9 794.2,1102.3 796.7,1100.6 799.2,1099.8 801.7,1098.0 804.2,1095.4 806.7,1094.9 809.2,1092.0 811.7,1090.9 814.2,1088.3 816.7,1086.0 819.2,1085.2 821.7,1081.9 824.2,1079.6 826.7,1078.6 829.2,1076.5 831.7,1073.5 834.2,1072.6 836.7,1069.9 839.2,1068.6 841.7,1066.3 844.2,1066.0 846.7,1064.1 849.2,1062.9 851.7,1061.0 854.2,1058.3 856.7,1056.7 859.2,1054.8 861.7,1053.5 864.2,1052.1 866.7,1051.2 869.2,1050.6 871.7,1049.6 874.2,1050.7 876.7,1048.9 879.2,1046.3 881.7,1044.8 884.2,1042.1 886.7,1039.5 889.2,1037.6 891.7,1035.9 894.2,1033.1 896.7,1032.9 899.2,1029.6 901.7,1029.2 904.2,1028.4 906.7,1026.0 909.2,1026.3 911.7,1024.6 914.2,1024.2 916.7,1022.5 919.2,1021.8 921.7,1021.3 924.2,1021.6 926.7,1019.4 929.2,1019.3 931.7,1018.6 934.2,1017.6 936.7,1015.6 939.2,1014.6 941.7,1013.9 944.2,1013.4 946.7,1011.9 949.2,1012.5 951.7,1012.2 954.2,1011.9 956.5,1010.9 956.5,1026.9 954.2,1027.1 951.7,1027.3 949.2,1027.5 946.7,1027.8 944.2,1028.0 941.7,1028.8 939.2,1029.8 936.7,1030.8 934.2,1031.8 931.7,1032.8 929.2,1033.8 926.7,1034.8 924.2,1035.8 921.7,1036.7 919.2,1037.5 916.7,1038.2 914.2,1039.0 911.7,1039.7 909.2,1040.7 906.7,1041.7 904.2,1042.7 901.7,1043.7 899.2,1045.1 896.7,1046.6 894.2,1048.1 891.7,1049.6 889.2,1051.3 886.7,1053.3 884.2,1055.3 881.7,1057.3 879.2,1059.3 876.7,1061.2 874.2,1062.5 871.7,1063.4 869.2,1064.2 866.7,1065.2 864.2,1066.2 861.7,1067.2 859.2,1068.2 856.7,1069.5 854.2,1071.0 851.7,1072.5 849.2,1074.0 846.7,1075.5 844.2,1077.0 841.7,1078.5 839.2,1080.0 836.7,1081.6 834.2,1083.3 831.7,1085.1 829.2,1086.8 826.7,1088.6 824.2,1090.8 821.7,1093.0 819.2,1095.2 816.7,1097.5 814.2,1099.7 811.7,1101.9 809.2,1104.1 806.7,1106.1 804.2,1107.3 801.7,1108.6 799.2,1109.8 796.7,1111.6 794.2,1113.5 791.7,1115.3 789.2,1117.7 786.7,1121.1 784.2,1124.4 781.7,1126.7 779.2,1128.7 776.7,1130.7 774.2,1132.7 771.7,1134.7 769.2,1136.7 766.7,1138.7 764.2,1140.7 761.7,1142.7 759.2,1144.7 756.7,1146.7 754.2,1148.7 751.7,1150.7" fill="#bdbdbd"/>
<polygon points="783.7,1163.9 786.2,1162.5 788.7,1160.4 791.2,1158.6 793.7,1156.7 796.2,1156.6 798.7,1155.3 801.2,1154.7 803.7,1153.1 806.2,1152.8 808.7,1151.0 811.2,1150.8 813.7,1149.7 816.2,1148.2 818.7,1147.4 821.2,1146.6 823.7,1144.8 826.2,1144.4 828.7,1143.8 831.2,1142.0 833.7,1141.8 836.2,1140.6 838.7,1139.9 841.2,1138.1 843.7,1136.7 846.2,1136.8 848.7,1135.9 851.2,1134.6 853.7,1133.3 856.2,1132.7 858.7,1132.6 861.2,1131.3 863.7,1131.7 866.2,1130.3 868.7,1129.0 871.2,1128.9 873.7,1127.7 876.2,1127.9 878.7,1127.1 881.2,1125.6 883.7,1124.8 886.2,1123.8 888.7,1123.0 891.2,1122.3 893.7,1119.8 896.2,1119.3 898.7,1118.7 901.2,1117.2 903.7,1116.9 906.2,1115.4 908.7,1115.9 911.2,1114.6 913.7,1113.4 916.2,1113.8 918.7,1112.7 921.2,1112.0 923.7,1112.0 926.2,1110.9 928.7,1110.5 931.2,1111.1 933.7,1110.3 936.2,1108.7 938.7,1109.4 941.2,1107.7 943.7,1107.7 946.2,1108.2 948.7,1107.4 951.2,1106.4 953.7,1106.1 956.2,1105.7 956.5,1105.9 956.5,1116.5 956.2,1116.6 953.7,1116.8 951.2,1117.0 948.7,1117.2 946.2,1117.4 943.7,1117.6 941.2,1118.1 938.7,1118.6 936.2,1119.1 933.7,1119.6 931.2,1120.1 928.7,1120.6 926.2,1121.1 923.7,1121.6 921.2,1122.1 918.7,1122.6 916.2,1123.1 913.7,1123.6 911.2,1124.2 908.7,1124.9 906.2,1125.7 903.7,1126.4 901.2,1127.2 898.7,1127.9 896.2,1128.7 893.7,1129.4 891.2,1130.2 888.7,1131.1 886.2,1132.1 883.7,1133.1 881.2,1134.1 878.7,1135.0 876.2,1135.7 873.7,1136.5 871.2,1137.2 868.7,1138.0 866.2,1138.7 863.7,1139.5 861.2,1140.2 858.7,1141.0 856.2,1141.7 853.7,1142.5 851.2,1143.2 848.7,1144.0 846.2,1144.7 843.7,1145.5 841.2,1146.2 838.7,1147.0 836.2,1147.7 833.7,1148.5 831.2,1149.2 828.7,1150.0 826.2,1150.7 823.7,1151.7 821.2,1152.7 818.7,1153.7 816.2,1154.7 813.7,1155.7 811.2,1156.7 808.7,1157.7 806.2,1158.7 803.7,1159.7 801.2,1160.7 798.7,1161.7 796.2,1162.7 793.7,1163.8 791.2,1165.0 788.7,1166.3 786.2,1167.5 783.7,1168.8" fill="#fcc4c4"/>
<polyline points="650.3,1216.8 713.3,1215.7 713.3,1210.2 715.8,1205.5 718.3,1201.9 720.8,1196.7 723.3,1193.3 725.8,1189.3 728.3,1185.1 730.8,1182.1 733.3,1177.9 735.8,1175.0 738.3,1171.0 740.8,1167.5 743.3,1164.0 745.8,1160.6 748.3,1155.6 750.8,1151.7 753.3,1149.6 755.8,1148.0 758.3,1145.5 760.8,1143.2 763.3,1142.1 765.8,1138.8 768.3,1137.9 770.8,1135.1 773.3,1132.9 775.8,1130.9 778.3,1129.1 780.8,1127.8 783.3,1124.9 785.8,1122.4 788.3,1119.1 790.8,1115.8 793.3,1114.2 795.8,1111.6 798.3,1109.8 800.8,1108.6 803.3,1108.1 805.8,1106.4 808.3,1104.6 810.8,1102.8 813.3,1100.4 815.8,1098.0 818.3,1096.5 820.8,1094.1 823.3,1091.2 825.8,1089.4 828.3,1087.5 830.8,1086.2 833.3,1084.3 835.8,1081.9 838.3,1081.2 840.8,1078.5 843.3,1077.5 845.8,1076.4 848.3,1074.1 850.8,1073.1 853.3,1070.9 855.8,1070.3 858.3,1068.9 860.8,1067.7 863.3,1067.1 865.8,1065.3 868.3,1064.8 870.8,1063.8 873.3,1063.0 875.8,1061.8 878.3,1060.5 880.8,1058.7 883.3,1056.0 885.8,1054.3 888.3,1051.4 890.8,1050.4 893.3,1048.8 895.8,1047.8 898.3,1046.1 900.8,1043.8 903.3,1042.9 905.8,1042.3 908.3,1040.4 910.8,1040.0 913.3,1038.8 915.8,1038.0 918.3,1037.1 920.8,1037.4 923.3,1035.6 925.8,1034.8 928.3,1034.0 930.8,1033.7 933.3,1031.6 935.8,1031.1 938.3,1030.2 940.8,1029.7 943.3,1028.6 945.8,1028.3 948.3,1027.3 950.8,1027.3 953.3,1027.0 955.8,1027.5 956.5,1026.9" fill="none" stroke="#7a7a7a" stroke-width="7.0" stroke-linejoin="round" />
<polyline points="650.3,1216.4 652.8,1217.4 655.3,1216.3 657.8,1217.1 660.3,1216.2 662.8,1216.4 665.3,1217.5 667.8,1216.4 670.3,1217.0 672.8,1216.7 675.3,1216.7 677.8,1216.8 680.3,1216.4 682.8,1217.3 685.3,1216.2 687.8,1216.4 690.3,1216.1 692.8,1216.5 695.3,1216.7 697.8,1217.4 700.3,1216.6 702.8,1216.3 705.3,1216.5 707.8,1217.5 710.3,1215.1 712.8,1213.8 715.3,1211.4 717.8,1208.9 720.3,1205.5 722.8,1203.8 725.3,1202.2 727.8,1201.2 730.3,1200.3 732.8,1198.6 735.3,1196.7 737.8,1195.4 740.3,1195.4 742.8,1193.5 745.3,1191.8 747.8,1191.6 750.3,1189.8 752.8,1188.8 755.3,1187.8 757.8,1185.7 760.3,1184.5 762.8,1183.9 765.3,1180.8 767.8,1179.7 770.3,1176.8 772.8,1175.6 775.3,1174.1 777.8,1172.9 780.3,1171.3 782.8,1169.3 785.3,1167.5 787.8,1166.2 790.3,1165.5 792.8,1164.2 795.3,1162.5 797.8,1162.6 800.3,1161.1 802.8,1160.3 805.3,1158.7 807.8,1157.7 810.3,1156.4 812.8,1155.8 815.3,1154.7 817.8,1154.0 820.3,1152.9 822.8,1152.5 825.3,1151.6 827.8,1149.8 830.3,1149.3 832.8,1148.2 835.3,1148.2 837.8,1147.9 840.3,1146.0 842.8,1146.1 845.3,1144.7 847.8,1143.5 850.3,1143.8 852.8,1142.5 855.3,1141.5 857.8,1141.1 860.3,1140.1 862.8,1139.6 865.3,1138.9 867.8,1138.1 870.3,1137.6 872.8,1136.4 875.3,1135.4 877.8,1134.6 880.3,1133.8 882.8,1133.4 885.3,1132.2 887.8,1131.8 890.3,1130.4 892.8,1129.9 895.3,1129.6 897.8,1127.5 900.3,1126.7 902.8,1126.1 905.3,1125.7 907.8,1125.3 910.3,1124.7 912.8,1123.6 915.3,1123.9 917.8,1122.1 920.3,1122.7 922.8,1121.4 925.3,1121.8 927.8,1120.1 930.3,1120.9 932.8,1120.1 935.3,1120.0 937.8,1118.9 940.3,1117.8 942.8,1118.4 945.3,1117.4 947.8,1116.7 950.3,1117.2 952.8,1116.8 955.3,1116.6 956.5,1116.5" fill="none" stroke="#f57b7b" stroke-width="7.0" stroke-linejoin="round" />
<text x="0" y="0" transform="translate(808.50,1288.30) scale(1,1.0)" font-size="30.5" text-anchor="middle" font-weight="bold" font-style="normal" fill="#000" >time (seconds)</text>
<text x="0" y="0" transform="translate(556.00,1105.00) rotate(-90) scale(1,1.045)" font-size="31" text-anchor="middle" font-weight="bold">Exocytosis (μm<tspan dy="-10" font-size="18">-2</tspan><tspan dy="10">)</tspan></text>
<text x="0" y="0" transform="translate(697.50,1117.60) scale(1,1.045)" font-size="31" text-anchor="start" font-weight="bold" font-style="normal" fill="#000" >K<tspan dy="-10" font-size="18">+</tspan></text>
<line x1="710.00" y1="1127.20" x2="710.00" y2="1166.00" stroke="#000" stroke-width="2" />
<polygon points="703.70,1163.50 716.50,1163.50 710.00,1179.50" fill="#000" />
<rect x="594.10" y="886.10" width="17.80" height="17.80" fill="#7a7a7a" stroke="none" stroke-width="0" />
<rect x="594.10" y="919.00" width="17.20" height="17.20" fill="#f87878" stroke="none" stroke-width="0" />
<text x="0" y="0" transform="translate(620.00,904.50) rotate(0) scale(1,1.0)" font-size="31" text-anchor="start" font-weight="bold" fill="#000" ><tspan font-style="normal">sh-</tspan><tspan font-style="italic">Ctrl</tspan></text>
<text x="0" y="0" transform="translate(620.00,940.20) rotate(0) scale(1,1.045)" font-size="31" text-anchor="start" font-weight="bold" fill="#000" ><tspan font-style="normal">sh-</tspan><tspan font-style="italic">PITPNA</tspan></text>
<text x="0" y="0" transform="translate(529.00,884.40) scale(1,1.0)" font-size="46" text-anchor="start" font-weight="bold" font-style="normal" fill="#000" >g</text>
<text x="0" y="0" transform="translate(1027.00,884.80) scale(1,1.0)" font-size="46" text-anchor="start" font-weight="bold" font-style="normal" fill="#000" >h</text>
<rect x="1092.40" y="857.20" width="17.20" height="17.00" fill="#2b2b2b" stroke="none" stroke-width="0" />
<rect x="1091.90" y="882.40" width="17.00" height="16.40" fill="#78b7de" stroke="none" stroke-width="0" />
<rect x="1091.50" y="910.40" width="17.40" height="17.00" fill="#777777" stroke="none" stroke-width="0" />
<rect x="1091.10" y="935.20" width="17.00" height="17.20" fill="#f57b7b" stroke="none" stroke-width="0" />
<text x="0" y="0" transform="translate(1117.50,874.80) rotate(0) scale(1,1.0)" font-size="31" text-anchor="start" font-weight="bold" fill="#000" ><tspan font-style="normal">OE-</tspan><tspan font-style="italic">Ctrl</tspan></text>
<text x="0" y="0" transform="translate(1117.50,901.60) rotate(0) scale(1,1.045)" font-size="31" text-anchor="start" font-weight="bold" fill="#000" ><tspan font-style="normal">OE-</tspan><tspan font-style="italic">PITPNA</tspan></text>
<text x="0" y="0" transform="translate(1116.50,927.60) rotate(0) scale(1,1.0)" font-size="31" text-anchor="start" font-weight="bold" fill="#000" ><tspan font-style="normal">sh-</tspan><tspan font-style="italic">Ctrl</tspan></text>
<text x="0" y="0" transform="translate(1116.50,954.80) rotate(0) scale(1,1.045)" font-size="31" text-anchor="start" font-weight="bold" fill="#000" ><tspan font-style="normal">sh-</tspan><tspan font-style="italic">PITPNA</tspan></text>
<line x1="1142.30" y1="986.80" x2="1142.30" y2="1213.40" stroke="#000" stroke-width="2" />
<line x1="1131.40" y1="1212.50" x2="1370.00" y2="1212.50" stroke="#000" stroke-width="2" />
<line x1="1131.40" y1="1212.40" x2="1142.30" y2="1212.40" stroke="#000" stroke-width="2" />
<text x="0" y="0" transform="translate(1124.80,1224.40) scale(1,1.045)" font-size="31" text-anchor="end" font-weight="bold" font-style="normal" fill="#000" >0.0</text>
<line x1="1131.40" y1="1147.97" x2="1142.30" y2="1147.97" stroke="#000" stroke-width="2" />
<text x="0" y="0" transform="translate(1124.80,1159.97) scale(1,1.045)" font-size="31" text-anchor="end" font-weight="bold" font-style="normal" fill="#000" >0.1</text>
<line x1="1131.40" y1="1083.53" x2="1142.30" y2="1083.53" stroke="#000" stroke-width="2" />
<text x="0" y="0" transform="translate(1124.80,1095.53) scale(1,1.045)" font-size="31" text-anchor="end" font-weight="bold" font-style="normal" fill="#000" >0.2</text>
<line x1="1131.40" y1="1019.10" x2="1142.30" y2="1019.10" stroke="#000" stroke-width="2" />
<text x="0" y="0" transform="translate(1124.80,1031.10) scale(1,1.045)" font-size="31" text-anchor="end" font-weight="bold" font-style="normal" fill="#000" >0.3</text>
<text x="0" y="0" transform="translate(1036.50,1112.00) rotate(-90) scale(1,1.045)" font-size="31" text-anchor="middle" font-weight="bold">Exocytosis</text>
<text x="0" y="0" transform="translate(1071.00,1113.00) rotate(-90) scale(1,1.045)" font-size="31" text-anchor="middle" font-weight="bold">(μm<tspan dy="-10" font-size="18">-2</tspan><tspan dy="10"> 40s</tspan><tspan dy="-10" font-size="18">-1</tspan><tspan dy="10">)</tspan></text>
<rect x="1152.6" y="1177" width="34.90000000000009" height="35.5" fill="none" stroke="#333333" stroke-width="2"/>
<rect x="1198.3" y="1142.1" width="35.0" height="70.40000000000009" fill="none" stroke="#78b7de" stroke-width="2"/>
<rect x="1271.6" y="1130.1" width="35.30000000000018" height="82.40000000000009" fill="none" stroke="#808080" stroke-width="2"/>
<rect x="1317.3" y="1168.7" width="35.600000000000136" height="43.799999999999955" fill="none" stroke="#f57b7b" stroke-width="2"/>
<circle cx="1172.9" cy="1052.9" r="3.6" fill="none" stroke="#9da3e0" stroke-width="1.6"/>
<circle cx="1165.0" cy="1064.4" r="3.6" fill="none" stroke="#9da3e0" stroke-width="1.6"/>
<circle cx="1171.0" cy="1130.7" r="3.6" fill="none" stroke="#9da3e0" stroke-width="1.6"/>
<circle cx="1170.0" cy="1149.7" r="3.6" fill="none" stroke="#9da3e0" stroke-width="1.6"/>
<circle cx="1170.0" cy="1159.7" r="3.6" fill="none" stroke="#9da3e0" stroke-width="1.6"/>
<circle cx="1161.6" cy="1164.1" r="3.6" fill="none" stroke="#9da3e0" stroke-width="1.6"/>
<circle cx="1168.0" cy="1167.7" r="3.6" fill="none" stroke="#9da3e0" stroke-width="1.6"/>
<circle cx="1172.9" cy="1171.7" r="3.6" fill="none" stroke="#9da3e0" stroke-width="1.6"/>
<circle cx="1163.0" cy="1175.1" r="3.6" fill="none" stroke="#9da3e0" stroke-width="1.6"/>
<circle cx="1169.0" cy="1180.6" r="3.6" fill="none" stroke="#9da3e0" stroke-width="1.6"/>
<circle cx="1176.9" cy="1187.6" r="3.6" fill="none" stroke="#9da3e0" stroke-width="1.6"/>
<circle cx="1166.0" cy="1203.6" r="3.6" fill="none" stroke="#9da3e0" stroke-width="1.6"/>
<circle cx="1171.9" cy="1202.6" r="3.6" fill="none" stroke="#9da3e0" stroke-width="1.6"/>
<circle cx="1167.0" cy="1207.6" r="3.6" fill="none" stroke="#9da3e0" stroke-width="1.6"/>
<rect x="1168.5" y="1146.3" width="6.8" height="6.8" fill="none" stroke="#1f5a88" stroke-width="1.7"/>
<rect x="1165.6" y="1155.3" width="6.8" height="6.8" fill="none" stroke="#1f5a88" stroke-width="1.7"/>
<rect x="1171.5" y="1173.3" width="6.8" height="6.8" fill="none" stroke="#1f5a88" stroke-width="1.7"/>
<rect x="1167.6" y="1182.2" width="6.8" height="6.8" fill="none" stroke="#1f5a88" stroke-width="1.7"/>
<rect x="1159.6" y="1201.2" width="6.8" height="6.8" fill="none" stroke="#1f5a88" stroke-width="1.7"/>
<rect x="1173.5" y="1206.2" width="6.8" height="6.8" fill="none" stroke="#1f5a88" stroke-width="1.7"/>
<polygon points="1170.0,1104.8 1174.6,1112.8 1165.4,1112.8" fill="none" stroke="#a88324" stroke-width="1.7"/>
<polygon points="1167.0,1115.1 1171.6,1123.1 1162.4,1123.1" fill="none" stroke="#a88324" stroke-width="1.7"/>
<polygon points="1171.5,1130.5 1176.1,1138.5 1166.9,1138.5" fill="none" stroke="#a88324" stroke-width="1.7"/>
<polygon points="1165.0,1183.0 1169.6,1191.0 1160.4,1191.0" fill="none" stroke="#a88324" stroke-width="1.7"/>
<polygon points="1166.0,1188.0 1170.6,1196.0 1161.4,1196.0" fill="none" stroke="#a88324" stroke-width="1.7"/>
<polygon points="1169.0,1193.0 1173.6,1201.0 1164.4,1201.0" fill="none" stroke="#a88324" stroke-width="1.7"/>
<polygon points="1176.9,1190.0 1181.5,1198.0 1172.3,1198.0" fill="none" stroke="#a88324" stroke-width="1.7"/>
<polygon points="1170.0,1199.0 1174.6,1207.0 1165.4,1207.0" fill="none" stroke="#a88324" stroke-width="1.7"/>
<polygon points="1173.9,1204.0 1178.5,1212.0 1169.3,1212.0" fill="none" stroke="#a88324" stroke-width="1.7"/>
<circle cx="1211.9" cy="1043.9" r="3.6" fill="none" stroke="#9da3e0" stroke-width="1.6"/>
<circle cx="1217.9" cy="1049.3" r="3.6" fill="none" stroke="#9da3e0" stroke-width="1.6"/>
<circle cx="1212.5" cy="1106.2" r="3.6" fill="none" stroke="#9da3e0" stroke-width="1.6"/>
<circle cx="1222.9" cy="1121.3" r="3.6" fill="none" stroke="#9da3e0" stroke-width="1.6"/>
<circle cx="1225.9" cy="1126.7" r="3.6" fill="none" stroke="#9da3e0" stroke-width="1.6"/>
<circle cx="1213.9" cy="1135.7" r="3.6" fill="none" stroke="#9da3e0" stroke-width="1.6"/>
<circle cx="1216.5" cy="1152.1" r="3.6" fill="none" stroke="#9da3e0" stroke-width="1.6"/>
<circle cx="1212.5" cy="1157.7" r="3.6" fill="none" stroke="#9da3e0" stroke-width="1.6"/>
<circle cx="1219.9" cy="1161.7" r="3.6" fill="none" stroke="#9da3e0" stroke-width="1.6"/>
<circle cx="1213.9" cy="1163.7" r="3.6" fill="none" stroke="#9da3e0" stroke-width="1.6"/>
<circle cx="1217.9" cy="1169.7" r="3.6" fill="none" stroke="#9da3e0" stroke-width="1.6"/>
<circle cx="1215.5" cy="1199.6" r="3.6" fill="none" stroke="#9da3e0" stroke-width="1.6"/>
<rect x="1216.1" y="1003.9" width="6.8" height="6.8" fill="none" stroke="#1f5a88" stroke-width="1.7"/>
<rect x="1216.1" y="1073.8" width="6.8" height="6.8" fill="none" stroke="#1f5a88" stroke-width="1.7"/>
<rect x="1210.9" y="1091.6" width="6.8" height="6.8" fill="none" stroke="#1f5a88" stroke-width="1.7"/>
<rect x="1210.1" y="1119.9" width="6.8" height="6.8" fill="none" stroke="#1f5a88" stroke-width="1.7"/>
<rect x="1216.9" y="1139.1" width="6.8" height="6.8" fill="none" stroke="#1f5a88" stroke-width="1.7"/>
<rect x="1210.1" y="1171.3" width="6.8" height="6.8" fill="none" stroke="#1f5a88" stroke-width="1.7"/>
<rect x="1210.9" y="1176.6" width="6.8" height="6.8" fill="none" stroke="#1f5a88" stroke-width="1.7"/>
<rect x="1203.5" y="1186.2" width="6.8" height="6.8" fill="none" stroke="#1f5a88" stroke-width="1.7"/>
<rect x="1206.5" y="1189.2" width="6.8" height="6.8" fill="none" stroke="#1f5a88" stroke-width="1.7"/>
<rect x="1217.5" y="1194.8" width="6.8" height="6.8" fill="none" stroke="#1f5a88" stroke-width="1.7"/>
<rect x="1215.1" y="1202.2" width="6.8" height="6.8" fill="none" stroke="#1f5a88" stroke-width="1.7"/>
<polygon points="1211.9,1031.3 1216.5,1039.3 1207.3,1039.3" fill="none" stroke="#a88324" stroke-width="1.7"/>
<polygon points="1217.9,1036.3 1222.5,1044.3 1213.3,1044.3" fill="none" stroke="#a88324" stroke-width="1.7"/>
<polygon points="1210.5,1117.7 1215.1,1125.7 1205.9,1125.7" fill="none" stroke="#a88324" stroke-width="1.7"/>
<polygon points="1218.5,1126.1 1223.1,1134.1 1213.9,1134.1" fill="none" stroke="#a88324" stroke-width="1.7"/>
<polygon points="1215.5,1139.1 1220.1,1147.1 1210.9,1147.1" fill="none" stroke="#a88324" stroke-width="1.7"/>
<polygon points="1216.5,1162.5 1221.1,1170.5 1211.9,1170.5" fill="none" stroke="#a88324" stroke-width="1.7"/>
<polygon points="1212.5,1183.0 1217.1,1191.0 1207.9,1191.0" fill="none" stroke="#a88324" stroke-width="1.7"/>
<circle cx="1293.5" cy="1018.9" r="3.6" fill="none" stroke="#9da3e0" stroke-width="1.6"/>
<circle cx="1292.3" cy="1043.5" r="3.6" fill="none" stroke="#9da3e0" stroke-width="1.6"/>
<circle cx="1286.6" cy="1059.4" r="3.6" fill="none" stroke="#9da3e0" stroke-width="1.6"/>
<circle cx="1291.0" cy="1088.2" r="3.6" fill="none" stroke="#9da3e0" stroke-width="1.6"/>
<circle cx="1291.0" cy="1105.4" r="3.6" fill="none" stroke="#9da3e0" stroke-width="1.6"/>
<circle cx="1292.9" cy="1108.2" r="3.6" fill="none" stroke="#9da3e0" stroke-width="1.6"/>
<circle cx="1290.0" cy="1116.7" r="3.6" fill="none" stroke="#9da3e0" stroke-width="1.6"/>
<circle cx="1282.4" cy="1125.7" r="3.6" fill="none" stroke="#9da3e0" stroke-width="1.6"/>
<circle cx="1294.3" cy="1139.7" r="3.6" fill="none" stroke="#9da3e0" stroke-width="1.6"/>
<circle cx="1289.0" cy="1150.7" r="3.6" fill="none" stroke="#9da3e0" stroke-width="1.6"/>
<circle cx="1294.3" cy="1151.3" r="3.6" fill="none" stroke="#9da3e0" stroke-width="1.6"/>
<circle cx="1293.5" cy="1159.3" r="3.6" fill="none" stroke="#9da3e0" stroke-width="1.6"/>
<circle cx="1285.6" cy="1190.6" r="3.6" fill="none" stroke="#9da3e0" stroke-width="1.6"/>
<rect x="1286.2" y="1076.8" width="6.8" height="6.8" fill="none" stroke="#1f5a88" stroke-width="1.7"/>
<rect x="1277.2" y="1101.4" width="6.8" height="6.8" fill="none" stroke="#1f5a88" stroke-width="1.7"/>
<rect x="1290.9" y="1117.9" width="6.8" height="6.8" fill="none" stroke="#1f5a88" stroke-width="1.7"/>
<rect x="1281.2" y="1137.3" width="6.8" height="6.8" fill="none" stroke="#1f5a88" stroke-width="1.7"/>
<rect x="1284.6" y="1144.3" width="6.8" height="6.8" fill="none" stroke="#1f5a88" stroke-width="1.7"/>
<rect x="1285.6" y="1154.3" width="6.8" height="6.8" fill="none" stroke="#1f5a88" stroke-width="1.7"/>
<rect x="1286.2" y="1168.7" width="6.8" height="6.8" fill="none" stroke="#1f5a88" stroke-width="1.7"/>
<rect x="1290.1" y="1173.3" width="6.8" height="6.8" fill="none" stroke="#1f5a88" stroke-width="1.7"/>
<rect x="1282.6" y="1191.2" width="6.8" height="6.8" fill="none" stroke="#1f5a88" stroke-width="1.7"/>
<rect x="1288.9" y="1201.6" width="6.8" height="6.8" fill="none" stroke="#1f5a88" stroke-width="1.7"/>
<polygon points="1290.4,1074.8 1295.0,1082.8 1285.8,1082.8" fill="none" stroke="#a88324" stroke-width="1.7"/>
<polygon points="1284.0,1099.6 1288.6,1107.6 1279.4,1107.6" fill="none" stroke="#a88324" stroke-width="1.7"/>
<polygon points="1289.6,1124.1 1294.2,1132.1 1285.0,1132.1" fill="none" stroke="#a88324" stroke-width="1.7"/>
<polygon points="1288.0,1128.1 1292.6,1136.1 1283.4,1136.1" fill="none" stroke="#a88324" stroke-width="1.7"/>
<polygon points="1289.0,1134.1 1293.6,1142.1 1284.4,1142.1" fill="none" stroke="#a88324" stroke-width="1.7"/>
<polygon points="1292.3,1138.1 1296.9,1146.1 1287.7,1146.1" fill="none" stroke="#a88324" stroke-width="1.7"/>
<polygon points="1290.4,1157.5 1295.0,1165.5 1285.8,1165.5" fill="none" stroke="#a88324" stroke-width="1.7"/>
<polygon points="1286.0,1174.4 1290.6,1182.4 1281.4,1182.4" fill="none" stroke="#a88324" stroke-width="1.7"/>
<polygon points="1296.9,1184.0 1301.5,1192.0 1292.3,1192.0" fill="none" stroke="#a88324" stroke-width="1.7"/>
<circle cx="1341.5" cy="1092.8" r="3.6" fill="none" stroke="#9da3e0" stroke-width="1.6"/>
<circle cx="1332.9" cy="1134.1" r="3.6" fill="none" stroke="#9da3e0" stroke-width="1.6"/>
<circle cx="1336.9" cy="1146.7" r="3.6" fill="none" stroke="#9da3e0" stroke-width="1.6"/>
<circle cx="1341.9" cy="1150.7" r="3.6" fill="none" stroke="#9da3e0" stroke-width="1.6"/>
<circle cx="1337.9" cy="1153.3" r="3.6" fill="none" stroke="#9da3e0" stroke-width="1.6"/>
<circle cx="1327.9" cy="1171.7" r="3.6" fill="none" stroke="#9da3e0" stroke-width="1.6"/>
<circle cx="1337.9" cy="1173.7" r="3.6" fill="none" stroke="#9da3e0" stroke-width="1.6"/>
<circle cx="1332.9" cy="1183.6" r="3.6" fill="none" stroke="#9da3e0" stroke-width="1.6"/>
<circle cx="1338.9" cy="1181.6" r="3.6" fill="none" stroke="#9da3e0" stroke-width="1.6"/>
<circle cx="1343.9" cy="1200.6" r="3.6" fill="none" stroke="#9da3e0" stroke-width="1.6"/>
<circle cx="1334.9" cy="1167.7" r="3.6" fill="none" stroke="#9da3e0" stroke-width="1.6"/>
<rect x="1327.9" y="1070.0" width="6.8" height="6.8" fill="none" stroke="#1f5a88" stroke-width="1.7"/>
<rect x="1325.5" y="1133.3" width="6.8" height="6.8" fill="none" stroke="#1f5a88" stroke-width="1.7"/>
<rect x="1333.5" y="1130.9" width="6.8" height="6.8" fill="none" stroke="#1f5a88" stroke-width="1.7"/>
<rect x="1325.5" y="1138.7" width="6.8" height="6.8" fill="none" stroke="#1f5a88" stroke-width="1.7"/>
<rect x="1332.1" y="1156.3" width="6.8" height="6.8" fill="none" stroke="#1f5a88" stroke-width="1.7"/>
<rect x="1334.5" y="1178.6" width="6.8" height="6.8" fill="none" stroke="#1f5a88" stroke-width="1.7"/>
<rect x="1325.5" y="1195.2" width="6.8" height="6.8" fill="none" stroke="#1f5a88" stroke-width="1.7"/>
<rect x="1326.5" y="1201.2" width="6.8" height="6.8" fill="none" stroke="#1f5a88" stroke-width="1.7"/>
<polygon points="1334.9,1093.2 1339.5,1101.2 1330.3,1101.2" fill="none" stroke="#a88324" stroke-width="1.7"/>
<polygon points="1334.9,1170.1 1339.5,1178.1 1330.3,1178.1" fill="none" stroke="#a88324" stroke-width="1.7"/>
<polygon points="1333.5,1187.0 1338.1,1195.0 1328.9,1195.0" fill="none" stroke="#a88324" stroke-width="1.7"/>
<polygon points="1334.9,1195.0 1339.5,1203.0 1330.3,1203.0" fill="none" stroke="#a88324" stroke-width="1.7"/>
<polygon points="1333.9,1200.0 1338.5,1208.0 1329.3,1208.0" fill="none" stroke="#a88324" stroke-width="1.7"/>
<polygon points="1341.9,1200.0 1346.5,1208.0 1337.3,1208.0" fill="none" stroke="#a88324" stroke-width="1.7"/>
<line x1="1158.00" y1="1169.70" x2="1182.00" y2="1169.70" stroke="#000" stroke-width="2.2" />
<line x1="1204.00" y1="1130.30" x2="1227.90" y2="1130.30" stroke="#000" stroke-width="2.2" />
<line x1="1277.60" y1="1120.10" x2="1301.00" y2="1120.10" stroke="#000" stroke-width="2.2" />
<line x1="1323.50" y1="1162.10" x2="1346.90" y2="1162.10" stroke="#000" stroke-width="2.2" />
<line x1="1165.00" y1="994.90" x2="1218.90" y2="994.90" stroke="#000" stroke-width="2" />
<line x1="1294.00" y1="1003.30" x2="1347.90" y2="1003.30" stroke="#000" stroke-width="2" />
<text x="0" y="0" transform="translate(1165.00,1002.50) scale(1,1.0)" font-size="43.5" text-anchor="start" font-weight="bold" font-style="normal" fill="#000" >***</text>
<text x="0" y="0" transform="translate(1294.00,1011.00) scale(1,1.0)" font-size="43.5" text-anchor="start" font-weight="bold" font-style="normal" fill="#000" >***</text>
</svg>
</body></html>
